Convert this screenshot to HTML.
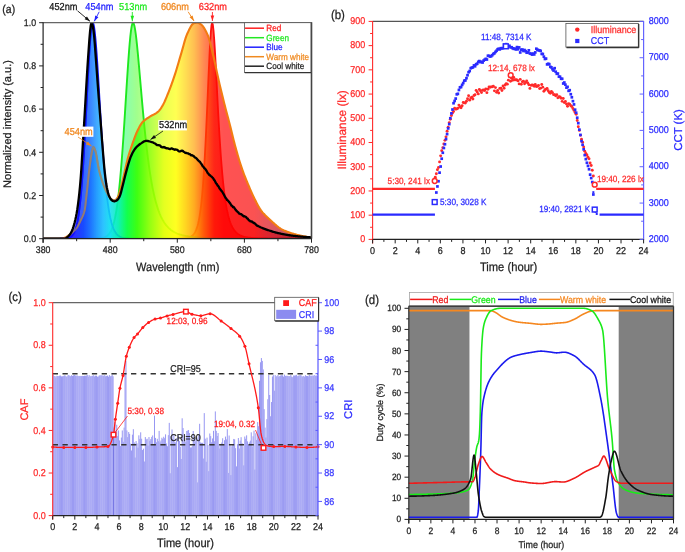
<!DOCTYPE html>
<html><head><meta charset="utf-8"><style>
html,body{margin:0;padding:0;background:#fff;}
svg{display:block;font-family:"Liberation Sans", sans-serif;text-rendering:geometricPrecision;filter:blur(0.35px);}
</style></head><body>
<svg width="685" height="552" viewBox="0 0 685 552">
<rect width="685" height="552" fill="#fff"/>
<defs>
<linearGradient id="spec" gradientUnits="userSpaceOnUse" x1="43.1" y1="0" x2="311.5" y2="0">
<stop offset="0.0000" stop-color="#6a00c0"/>
<stop offset="0.1000" stop-color="#2a10ff"/>
<stop offset="0.1500" stop-color="#0a40ff"/>
<stop offset="0.1750" stop-color="#1068ff"/>
<stop offset="0.2000" stop-color="#1898ff"/>
<stop offset="0.2250" stop-color="#20c0ff"/>
<stop offset="0.2500" stop-color="#10e0f0"/>
<stop offset="0.2800" stop-color="#00f0b0"/>
<stop offset="0.3125" stop-color="#00ff40"/>
<stop offset="0.3500" stop-color="#30ff00"/>
<stop offset="0.4000" stop-color="#90ff00"/>
<stop offset="0.4500" stop-color="#e0ff00"/>
<stop offset="0.4950" stop-color="#ffff00"/>
<stop offset="0.5300" stop-color="#ffd000"/>
<stop offset="0.5625" stop-color="#ffa000"/>
<stop offset="0.6000" stop-color="#ff5000"/>
<stop offset="0.6375" stop-color="#ff1000"/>
<stop offset="0.6750" stop-color="#ff0000"/>
<stop offset="0.7875" stop-color="#f80000"/>
<stop offset="0.8625" stop-color="#c80818"/>
<stop offset="1.0000" stop-color="#900010"/>
</linearGradient>
<clipPath id="clipA"><rect x="43.1" y="22.7" width="268.4" height="216"/></clipPath>
</defs>
<g clip-path="url(#clipA)">
<path d="M43.1,238.7 L43.1,238.7 L43.77,238.7 L44.44,238.7 L45.11,238.7 L45.78,238.7 L46.45,238.7 L47.13,238.7 L47.8,238.7 L48.47,238.7 L49.14,238.7 L49.81,238.7 L50.48,238.7 L51.15,238.7 L51.82,238.7 L52.49,238.7 L53.16,238.7 L53.84,238.7 L54.51,238.7 L55.18,238.7 L55.85,238.7 L56.52,238.7 L57.19,238.7 L57.86,238.7 L58.53,238.7 L59.2,238.7 L59.88,238.7 L60.55,238.7 L61.22,238.7 L61.89,238.7 L62.56,238.7 L63.23,238.7 L63.9,238.7 L64.57,238.7 L65.24,238.7 L65.91,238.7 L66.58,238.7 L67.26,238.7 L67.93,238.7 L68.6,238.7 L69.27,238.7 L69.94,238.7 L70.61,238.7 L71.28,238.7 L71.95,238.7 L72.62,238.7 L73.3,238.7 L73.97,238.7 L74.64,238.7 L75.31,238.7 L75.98,238.7 L76.65,238.7 L77.32,238.7 L77.99,238.7 L78.66,238.7 L79.33,238.7 L80,238.7 L80.68,238.7 L81.35,238.7 L82.02,238.7 L82.69,238.7 L83.36,238.7 L84.03,238.7 L84.7,238.7 L85.37,238.7 L86.04,238.7 L86.72,238.7 L87.39,238.7 L88.06,238.7 L88.73,238.7 L89.4,238.7 L90.07,238.7 L90.74,238.7 L91.41,238.7 L92.08,238.7 L92.75,238.7 L93.42,238.7 L94.1,238.7 L94.77,238.7 L95.44,238.7 L96.11,238.7 L96.78,238.7 L97.45,238.7 L98.12,238.7 L98.79,238.7 L99.46,238.7 L100.13,238.7 L100.81,238.7 L101.48,238.7 L102.15,238.7 L102.82,238.7 L103.49,238.7 L104.16,238.7 L104.83,238.7 L105.5,238.7 L106.17,238.7 L106.84,238.7 L107.52,238.7 L108.19,238.7 L108.86,238.7 L109.53,238.7 L110.2,238.7 L110.87,238.7 L111.54,238.7 L112.21,238.7 L112.88,238.7 L113.56,238.7 L114.23,238.7 L114.9,238.7 L115.57,238.7 L116.24,238.7 L116.91,238.7 L117.58,238.7 L118.25,238.7 L118.92,238.7 L119.59,238.7 L120.26,238.7 L120.94,238.7 L121.61,238.7 L122.28,238.7 L122.95,238.7 L123.62,238.7 L124.29,238.7 L124.96,238.7 L125.63,238.7 L126.3,238.7 L126.97,238.7 L127.65,238.7 L128.32,238.7 L128.99,238.7 L129.66,238.7 L130.33,238.7 L131,238.7 L131.67,238.7 L132.34,238.7 L133.01,238.7 L133.69,238.7 L134.36,238.7 L135.03,238.7 L135.7,238.7 L136.37,238.7 L137.04,238.7 L137.71,238.7 L138.38,238.7 L139.05,238.7 L139.72,238.7 L140.39,238.7 L141.07,238.7 L141.74,238.7 L142.41,238.7 L143.08,238.7 L143.75,238.7 L144.42,238.7 L145.09,238.7 L145.76,238.7 L146.43,238.7 L147.1,238.7 L147.78,238.7 L148.45,238.7 L149.12,238.7 L149.79,238.7 L150.46,238.7 L151.13,238.7 L151.8,238.7 L152.47,238.7 L153.14,238.7 L153.81,238.7 L154.49,238.7 L155.16,238.7 L155.83,238.7 L156.5,238.7 L157.17,238.7 L157.84,238.7 L158.51,238.7 L159.18,238.7 L159.85,238.7 L160.52,238.7 L161.2,238.7 L161.87,238.7 L162.54,238.7 L163.21,238.7 L163.88,238.7 L164.55,238.7 L165.22,238.7 L165.89,238.7 L166.56,238.69 L167.23,238.69 L167.91,238.69 L168.58,238.69 L169.25,238.69 L169.92,238.69 L170.59,238.69 L171.26,238.69 L171.93,238.68 L172.6,238.68 L173.27,238.68 L173.94,238.67 L174.62,238.67 L175.29,238.66 L175.96,238.66 L176.63,238.65 L177.3,238.64 L177.97,238.63 L178.64,238.62 L179.31,238.6 L179.98,238.59 L180.65,238.56 L181.33,238.54 L182,238.51 L182.67,238.47 L183.34,238.43 L184.01,238.38 L184.68,238.32 L185.35,238.24 L186.02,238.15 L186.69,238.04 L187.36,237.91 L188.04,237.76 L188.71,237.57 L189.38,237.34 L190.05,237.06 L190.72,236.73 L191.39,236.33 L192.06,235.84 L192.73,235.26 L193.4,234.55 L194.07,233.69 L194.75,232.66 L195.42,231.43 L196.09,229.94 L196.76,228.15 L197.43,226.01 L198.1,223.46 L198.77,220.41 L199.44,216.81 L200.11,212.54 L200.78,207.53 L201.46,201.66 L202.13,194.84 L202.8,186.98 L203.47,177.98 L204.14,167.79 L204.81,156.37 L205.48,143.74 L206.15,130 L206.82,115.31 L207.5,99.95 L208.17,84.33 L208.84,68.98 L209.51,54.56 L210.18,41.86 L210.85,31.74 L211.52,25.08 L212.19,22.7 L212.86,24.78 L213.53,30.53 L214.2,39.14 L214.88,49.83 L215.55,61.91 L216.22,74.75 L216.89,87.87 L217.56,100.87 L218.23,113.46 L218.9,125.45 L219.57,136.69 L220.24,147.12 L220.91,156.71 L221.59,165.44 L222.26,173.36 L222.93,180.49 L223.6,186.9 L224.27,192.62 L224.94,197.73 L225.61,202.27 L226.28,206.31 L226.95,209.89 L227.62,213.07 L228.3,215.88 L228.97,218.37 L229.64,220.57 L230.31,222.52 L230.98,224.24 L231.65,225.77 L232.32,227.13 L232.99,228.33 L233.66,229.39 L234.33,230.34 L235.01,231.18 L235.68,231.93 L236.35,232.59 L237.02,233.19 L237.69,233.72 L238.36,234.19 L239.03,234.61 L239.7,234.99 L240.37,235.33 L241.04,235.63 L241.72,235.91 L242.39,236.15 L243.06,236.37 L243.73,236.57 L244.4,236.75 L245.07,236.92 L245.74,237.06 L246.41,237.2 L247.08,237.32 L247.75,237.43 L248.43,237.53 L249.1,237.62 L249.77,237.7 L250.44,237.77 L251.11,237.84 L251.78,237.91 L252.45,237.96 L253.12,238.02 L253.79,238.06 L254.46,238.11 L255.14,238.15 L255.81,238.19 L256.48,238.22 L257.15,238.25 L257.82,238.28 L258.49,238.31 L259.16,238.33 L259.83,238.36 L260.5,238.38 L261.18,238.4 L261.85,238.42 L262.52,238.43 L263.19,238.45 L263.86,238.46 L264.53,238.48 L265.2,238.49 L265.87,238.5 L266.54,238.51 L267.21,238.52 L267.88,238.53 L268.56,238.54 L269.23,238.55 L269.9,238.56 L270.57,238.56 L271.24,238.57 L271.91,238.58 L272.58,238.58 L273.25,238.59 L273.92,238.59 L274.6,238.6 L275.27,238.6 L275.94,238.61 L276.61,238.61 L277.28,238.62 L277.95,238.62 L278.62,238.62 L279.29,238.63 L279.96,238.63 L280.63,238.63 L281.3,238.64 L281.98,238.64 L282.65,238.64 L283.32,238.64 L283.99,238.65 L284.66,238.65 L285.33,238.65 L286,238.65 L286.67,238.65 L287.34,238.66 L288.01,238.66 L288.69,238.66 L289.36,238.66 L290.03,238.66 L290.7,238.66 L291.37,238.67 L292.04,238.67 L292.71,238.67 L293.38,238.67 L294.05,238.67 L294.72,238.67 L295.4,238.67 L296.07,238.67 L296.74,238.67 L297.41,238.67 L298.08,238.68 L298.75,238.68 L299.42,238.68 L300.09,238.68 L300.76,238.68 L301.44,238.68 L302.11,238.68 L302.78,238.68 L303.45,238.68 L304.12,238.68 L304.79,238.68 L305.46,238.68 L306.13,238.68 L306.8,238.68 L307.47,238.68 L308.15,238.68 L308.82,238.68 L309.49,238.69 L310.16,238.69 L310.83,238.69 L311.5,238.69 L311.5,238.7 Z" fill="url(#spec)" fill-opacity="0.7"/>
<path d="M43.1,238.7 L43.77,238.7 L44.44,238.7 L45.11,238.7 L45.78,238.7 L46.45,238.7 L47.13,238.7 L47.8,238.7 L48.47,238.7 L49.14,238.7 L49.81,238.7 L50.48,238.7 L51.15,238.7 L51.82,238.7 L52.49,238.7 L53.16,238.7 L53.84,238.7 L54.51,238.7 L55.18,238.7 L55.85,238.7 L56.52,238.7 L57.19,238.7 L57.86,238.7 L58.53,238.7 L59.2,238.7 L59.88,238.7 L60.55,238.7 L61.22,238.7 L61.89,238.7 L62.56,238.7 L63.23,238.7 L63.9,238.7 L64.57,238.7 L65.24,238.7 L65.91,238.7 L66.58,238.7 L67.26,238.7 L67.93,238.7 L68.6,238.7 L69.27,238.7 L69.94,238.7 L70.61,238.7 L71.28,238.7 L71.95,238.7 L72.62,238.7 L73.3,238.7 L73.97,238.7 L74.64,238.7 L75.31,238.7 L75.98,238.7 L76.65,238.7 L77.32,238.7 L77.99,238.7 L78.66,238.7 L79.33,238.7 L80,238.7 L80.68,238.7 L81.35,238.7 L82.02,238.7 L82.69,238.7 L83.36,238.7 L84.03,238.7 L84.7,238.7 L85.37,238.7 L86.04,238.7 L86.72,238.7 L87.39,238.7 L88.06,238.7 L88.73,238.7 L89.4,238.7 L90.07,238.7 L90.74,238.7 L91.41,238.7 L92.08,238.7 L92.75,238.7 L93.42,238.7 L94.1,238.7 L94.77,238.7 L95.44,238.7 L96.11,238.7 L96.78,238.7 L97.45,238.7 L98.12,238.7 L98.79,238.7 L99.46,238.7 L100.13,238.7 L100.81,238.7 L101.48,238.7 L102.15,238.7 L102.82,238.7 L103.49,238.7 L104.16,238.7 L104.83,238.7 L105.5,238.7 L106.17,238.7 L106.84,238.7 L107.52,238.7 L108.19,238.7 L108.86,238.7 L109.53,238.7 L110.2,238.7 L110.87,238.7 L111.54,238.7 L112.21,238.7 L112.88,238.7 L113.56,238.7 L114.23,238.7 L114.9,238.7 L115.57,238.7 L116.24,238.7 L116.91,238.7 L117.58,238.7 L118.25,238.7 L118.92,238.7 L119.59,238.7 L120.26,238.7 L120.94,238.7 L121.61,238.7 L122.28,238.7 L122.95,238.7 L123.62,238.7 L124.29,238.7 L124.96,238.7 L125.63,238.7 L126.3,238.7 L126.97,238.7 L127.65,238.7 L128.32,238.7 L128.99,238.7 L129.66,238.7 L130.33,238.7 L131,238.7 L131.67,238.7 L132.34,238.7 L133.01,238.7 L133.69,238.7 L134.36,238.7 L135.03,238.7 L135.7,238.7 L136.37,238.7 L137.04,238.7 L137.71,238.7 L138.38,238.7 L139.05,238.7 L139.72,238.7 L140.39,238.7 L141.07,238.7 L141.74,238.7 L142.41,238.7 L143.08,238.7 L143.75,238.7 L144.42,238.7 L145.09,238.7 L145.76,238.7 L146.43,238.7 L147.1,238.7 L147.78,238.7 L148.45,238.7 L149.12,238.7 L149.79,238.7 L150.46,238.7 L151.13,238.7 L151.8,238.7 L152.47,238.7 L153.14,238.7 L153.81,238.7 L154.49,238.7 L155.16,238.7 L155.83,238.7 L156.5,238.7 L157.17,238.7 L157.84,238.7 L158.51,238.7 L159.18,238.7 L159.85,238.7 L160.52,238.7 L161.2,238.7 L161.87,238.7 L162.54,238.7 L163.21,238.7 L163.88,238.7 L164.55,238.7 L165.22,238.7 L165.89,238.7 L166.56,238.69 L167.23,238.69 L167.91,238.69 L168.58,238.69 L169.25,238.69 L169.92,238.69 L170.59,238.69 L171.26,238.69 L171.93,238.68 L172.6,238.68 L173.27,238.68 L173.94,238.67 L174.62,238.67 L175.29,238.66 L175.96,238.66 L176.63,238.65 L177.3,238.64 L177.97,238.63 L178.64,238.62 L179.31,238.6 L179.98,238.59 L180.65,238.56 L181.33,238.54 L182,238.51 L182.67,238.47 L183.34,238.43 L184.01,238.38 L184.68,238.32 L185.35,238.24 L186.02,238.15 L186.69,238.04 L187.36,237.91 L188.04,237.76 L188.71,237.57 L189.38,237.34 L190.05,237.06 L190.72,236.73 L191.39,236.33 L192.06,235.84 L192.73,235.26 L193.4,234.55 L194.07,233.69 L194.75,232.66 L195.42,231.43 L196.09,229.94 L196.76,228.15 L197.43,226.01 L198.1,223.46 L198.77,220.41 L199.44,216.81 L200.11,212.54 L200.78,207.53 L201.46,201.66 L202.13,194.84 L202.8,186.98 L203.47,177.98 L204.14,167.79 L204.81,156.37 L205.48,143.74 L206.15,130 L206.82,115.31 L207.5,99.95 L208.17,84.33 L208.84,68.98 L209.51,54.56 L210.18,41.86 L210.85,31.74 L211.52,25.08 L212.19,22.7 L212.86,24.78 L213.53,30.53 L214.2,39.14 L214.88,49.83 L215.55,61.91 L216.22,74.75 L216.89,87.87 L217.56,100.87 L218.23,113.46 L218.9,125.45 L219.57,136.69 L220.24,147.12 L220.91,156.71 L221.59,165.44 L222.26,173.36 L222.93,180.49 L223.6,186.9 L224.27,192.62 L224.94,197.73 L225.61,202.27 L226.28,206.31 L226.95,209.89 L227.62,213.07 L228.3,215.88 L228.97,218.37 L229.64,220.57 L230.31,222.52 L230.98,224.24 L231.65,225.77 L232.32,227.13 L232.99,228.33 L233.66,229.39 L234.33,230.34 L235.01,231.18 L235.68,231.93 L236.35,232.59 L237.02,233.19 L237.69,233.72 L238.36,234.19 L239.03,234.61 L239.7,234.99 L240.37,235.33 L241.04,235.63 L241.72,235.91 L242.39,236.15 L243.06,236.37 L243.73,236.57 L244.4,236.75 L245.07,236.92 L245.74,237.06 L246.41,237.2 L247.08,237.32 L247.75,237.43 L248.43,237.53 L249.1,237.62 L249.77,237.7 L250.44,237.77 L251.11,237.84 L251.78,237.91 L252.45,237.96 L253.12,238.02 L253.79,238.06 L254.46,238.11 L255.14,238.15 L255.81,238.19 L256.48,238.22 L257.15,238.25 L257.82,238.28 L258.49,238.31 L259.16,238.33 L259.83,238.36 L260.5,238.38 L261.18,238.4 L261.85,238.42 L262.52,238.43 L263.19,238.45 L263.86,238.46 L264.53,238.48 L265.2,238.49 L265.87,238.5 L266.54,238.51 L267.21,238.52 L267.88,238.53 L268.56,238.54 L269.23,238.55 L269.9,238.56 L270.57,238.56 L271.24,238.57 L271.91,238.58 L272.58,238.58 L273.25,238.59 L273.92,238.59 L274.6,238.6 L275.27,238.6 L275.94,238.61 L276.61,238.61 L277.28,238.62 L277.95,238.62 L278.62,238.62 L279.29,238.63 L279.96,238.63 L280.63,238.63 L281.3,238.64 L281.98,238.64 L282.65,238.64 L283.32,238.64 L283.99,238.65 L284.66,238.65 L285.33,238.65 L286,238.65 L286.67,238.65 L287.34,238.66 L288.01,238.66 L288.69,238.66 L289.36,238.66 L290.03,238.66 L290.7,238.66 L291.37,238.67 L292.04,238.67 L292.71,238.67 L293.38,238.67 L294.05,238.67 L294.72,238.67 L295.4,238.67 L296.07,238.67 L296.74,238.67 L297.41,238.67 L298.08,238.68 L298.75,238.68 L299.42,238.68 L300.09,238.68 L300.76,238.68 L301.44,238.68 L302.11,238.68 L302.78,238.68 L303.45,238.68 L304.12,238.68 L304.79,238.68 L305.46,238.68 L306.13,238.68 L306.8,238.68 L307.47,238.68 L308.15,238.68 L308.82,238.68 L309.49,238.69 L310.16,238.69 L310.83,238.69 L311.5,238.69" fill="none" stroke="#ff1010" stroke-width="1.8" stroke-linejoin="round"/>
<path d="M43.1,238.7 L43.1,238.7 L43.77,238.7 L44.44,238.7 L45.11,238.7 L45.78,238.7 L46.45,238.7 L47.13,238.7 L47.8,238.7 L48.47,238.7 L49.14,238.7 L49.81,238.7 L50.48,238.7 L51.15,238.7 L51.82,238.7 L52.49,238.7 L53.16,238.7 L53.84,238.7 L54.51,238.7 L55.18,238.7 L55.85,238.7 L56.52,238.7 L57.19,238.7 L57.86,238.7 L58.53,238.7 L59.2,238.7 L59.88,238.7 L60.55,238.7 L61.22,238.7 L61.89,238.7 L62.56,238.7 L63.23,238.7 L63.9,238.7 L64.57,238.7 L65.24,238.7 L65.91,238.7 L66.58,238.7 L67.26,238.7 L67.93,238.7 L68.6,238.7 L69.27,238.7 L69.94,238.7 L70.61,238.7 L71.28,238.7 L71.95,238.7 L72.62,238.7 L73.3,238.7 L73.97,238.7 L74.64,238.7 L75.31,238.7 L75.98,238.7 L76.65,238.7 L77.32,238.7 L77.99,238.7 L78.66,238.7 L79.33,238.7 L80,238.7 L80.68,238.7 L81.35,238.7 L82.02,238.7 L82.69,238.7 L83.36,238.7 L84.03,238.7 L84.7,238.7 L85.37,238.7 L86.04,238.7 L86.72,238.69 L87.39,238.69 L88.06,238.69 L88.73,238.69 L89.4,238.69 L90.07,238.68 L90.74,238.68 L91.41,238.68 L92.08,238.67 L92.75,238.66 L93.42,238.65 L94.1,238.64 L94.77,238.63 L95.44,238.61 L96.11,238.59 L96.78,238.57 L97.45,238.54 L98.12,238.5 L98.79,238.45 L99.46,238.4 L100.13,238.33 L100.81,238.24 L101.48,238.14 L102.15,238.02 L102.82,237.86 L103.49,237.68 L104.16,237.46 L104.83,237.2 L105.5,236.89 L106.17,236.51 L106.84,236.06 L107.52,235.53 L108.19,234.89 L108.86,234.14 L109.53,233.26 L110.2,232.22 L110.87,231 L111.54,229.58 L112.21,227.92 L112.88,226.01 L113.56,223.8 L114.23,221.27 L114.9,218.37 L115.57,215.06 L116.24,211.32 L116.91,207.11 L117.58,202.38 L118.25,197.11 L118.92,191.27 L119.59,184.84 L120.26,177.8 L120.94,170.16 L121.61,161.91 L122.28,153.1 L122.95,143.74 L123.62,133.91 L124.29,123.68 L124.96,113.15 L125.63,102.43 L126.3,91.68 L126.97,81.06 L127.65,70.73 L128.32,60.9 L128.99,51.77 L129.66,43.54 L130.33,36.42 L131,30.61 L131.67,26.29 L132.34,23.61 L133.01,22.7 L133.69,23.48 L134.36,25.69 L135.03,29.16 L135.7,33.72 L136.37,39.18 L137.04,45.37 L137.71,52.14 L138.38,59.34 L139.05,66.84 L139.72,74.53 L140.39,82.29 L141.07,90.06 L141.74,97.75 L142.41,105.3 L143.08,112.67 L143.75,119.83 L144.42,126.73 L145.09,133.36 L145.76,139.71 L146.43,145.76 L147.1,151.51 L147.78,156.97 L148.45,162.13 L149.12,167 L149.79,171.59 L150.46,175.91 L151.13,179.97 L151.8,183.77 L152.47,187.34 L153.14,190.68 L153.81,193.8 L154.49,196.72 L155.16,199.44 L155.83,201.99 L156.5,204.36 L157.17,206.58 L157.84,208.64 L158.51,210.57 L159.18,212.37 L159.85,214.04 L160.52,215.6 L161.2,217.06 L161.87,218.41 L162.54,219.68 L163.21,220.86 L163.88,221.96 L164.55,222.98 L165.22,223.94 L165.89,224.83 L166.56,225.67 L167.23,226.44 L167.91,227.17 L168.58,227.85 L169.25,228.48 L169.92,229.07 L170.59,229.63 L171.26,230.15 L171.93,230.63 L172.6,231.09 L173.27,231.51 L173.94,231.91 L174.62,232.28 L175.29,232.63 L175.96,232.96 L176.63,233.27 L177.3,233.56 L177.97,233.83 L178.64,234.08 L179.31,234.32 L179.98,234.55 L180.65,234.76 L181.33,234.96 L182,235.15 L182.67,235.32 L183.34,235.49 L184.01,235.65 L184.68,235.79 L185.35,235.93 L186.02,236.07 L186.69,236.19 L187.36,236.31 L188.04,236.42 L188.71,236.52 L189.38,236.62 L190.05,236.72 L190.72,236.81 L191.39,236.89 L192.06,236.97 L192.73,237.05 L193.4,237.12 L194.07,237.19 L194.75,237.25 L195.42,237.31 L196.09,237.37 L196.76,237.43 L197.43,237.48 L198.1,237.53 L198.77,237.58 L199.44,237.62 L200.11,237.66 L200.78,237.7 L201.46,237.74 L202.13,237.78 L202.8,237.82 L203.47,237.85 L204.14,237.88 L204.81,237.91 L205.48,237.94 L206.15,237.97 L206.82,238 L207.5,238.02 L208.17,238.05 L208.84,238.07 L209.51,238.09 L210.18,238.11 L210.85,238.13 L211.52,238.15 L212.19,238.17 L212.86,238.19 L213.53,238.21 L214.2,238.22 L214.88,238.24 L215.55,238.26 L216.22,238.27 L216.89,238.28 L217.56,238.3 L218.23,238.31 L218.9,238.32 L219.57,238.33 L220.24,238.35 L220.91,238.36 L221.59,238.37 L222.26,238.38 L222.93,238.39 L223.6,238.4 L224.27,238.41 L224.94,238.41 L225.61,238.42 L226.28,238.43 L226.95,238.44 L227.62,238.45 L228.3,238.45 L228.97,238.46 L229.64,238.47 L230.31,238.47 L230.98,238.48 L231.65,238.49 L232.32,238.49 L232.99,238.5 L233.66,238.5 L234.33,238.51 L235.01,238.51 L235.68,238.52 L236.35,238.52 L237.02,238.53 L237.69,238.53 L238.36,238.54 L239.03,238.54 L239.7,238.54 L240.37,238.55 L241.04,238.55 L241.72,238.55 L242.39,238.56 L243.06,238.56 L243.73,238.57 L244.4,238.57 L245.07,238.57 L245.74,238.57 L246.41,238.58 L247.08,238.58 L247.75,238.58 L248.43,238.59 L249.1,238.59 L249.77,238.59 L250.44,238.59 L251.11,238.6 L251.78,238.6 L252.45,238.6 L253.12,238.6 L253.79,238.6 L254.46,238.61 L255.14,238.61 L255.81,238.61 L256.48,238.61 L257.15,238.61 L257.82,238.62 L258.49,238.62 L259.16,238.62 L259.83,238.62 L260.5,238.62 L261.18,238.62 L261.85,238.63 L262.52,238.63 L263.19,238.63 L263.86,238.63 L264.53,238.63 L265.2,238.63 L265.87,238.63 L266.54,238.64 L267.21,238.64 L267.88,238.64 L268.56,238.64 L269.23,238.64 L269.9,238.64 L270.57,238.64 L271.24,238.64 L271.91,238.64 L272.58,238.65 L273.25,238.65 L273.92,238.65 L274.6,238.65 L275.27,238.65 L275.94,238.65 L276.61,238.65 L277.28,238.65 L277.95,238.65 L278.62,238.65 L279.29,238.65 L279.96,238.65 L280.63,238.66 L281.3,238.66 L281.98,238.66 L282.65,238.66 L283.32,238.66 L283.99,238.66 L284.66,238.66 L285.33,238.66 L286,238.66 L286.67,238.66 L287.34,238.66 L288.01,238.66 L288.69,238.66 L289.36,238.66 L290.03,238.66 L290.7,238.66 L291.37,238.67 L292.04,238.67 L292.71,238.67 L293.38,238.67 L294.05,238.67 L294.72,238.67 L295.4,238.67 L296.07,238.67 L296.74,238.67 L297.41,238.67 L298.08,238.67 L298.75,238.67 L299.42,238.67 L300.09,238.67 L300.76,238.67 L301.44,238.67 L302.11,238.67 L302.78,238.67 L303.45,238.67 L304.12,238.67 L304.79,238.67 L305.46,238.67 L306.13,238.67 L306.8,238.68 L307.47,238.68 L308.15,238.68 L308.82,238.68 L309.49,238.68 L310.16,238.68 L310.83,238.68 L311.5,238.68 L311.5,238.7 Z" fill="url(#spec)" fill-opacity="0.45"/>
<path d="M43.1,238.7 L43.77,238.7 L44.44,238.7 L45.11,238.7 L45.78,238.7 L46.45,238.7 L47.13,238.7 L47.8,238.7 L48.47,238.7 L49.14,238.7 L49.81,238.7 L50.48,238.7 L51.15,238.7 L51.82,238.7 L52.49,238.7 L53.16,238.7 L53.84,238.7 L54.51,238.7 L55.18,238.7 L55.85,238.7 L56.52,238.7 L57.19,238.7 L57.86,238.7 L58.53,238.7 L59.2,238.7 L59.88,238.7 L60.55,238.7 L61.22,238.7 L61.89,238.7 L62.56,238.7 L63.23,238.7 L63.9,238.7 L64.57,238.7 L65.24,238.7 L65.91,238.7 L66.58,238.7 L67.26,238.7 L67.93,238.7 L68.6,238.7 L69.27,238.7 L69.94,238.7 L70.61,238.7 L71.28,238.7 L71.95,238.7 L72.62,238.7 L73.3,238.7 L73.97,238.7 L74.64,238.7 L75.31,238.7 L75.98,238.7 L76.65,238.7 L77.32,238.7 L77.99,238.7 L78.66,238.7 L79.33,238.7 L80,238.7 L80.68,238.7 L81.35,238.7 L82.02,238.7 L82.69,238.7 L83.36,238.7 L84.03,238.7 L84.7,238.7 L85.37,238.7 L86.04,238.7 L86.72,238.69 L87.39,238.69 L88.06,238.69 L88.73,238.69 L89.4,238.69 L90.07,238.68 L90.74,238.68 L91.41,238.68 L92.08,238.67 L92.75,238.66 L93.42,238.65 L94.1,238.64 L94.77,238.63 L95.44,238.61 L96.11,238.59 L96.78,238.57 L97.45,238.54 L98.12,238.5 L98.79,238.45 L99.46,238.4 L100.13,238.33 L100.81,238.24 L101.48,238.14 L102.15,238.02 L102.82,237.86 L103.49,237.68 L104.16,237.46 L104.83,237.2 L105.5,236.89 L106.17,236.51 L106.84,236.06 L107.52,235.53 L108.19,234.89 L108.86,234.14 L109.53,233.26 L110.2,232.22 L110.87,231 L111.54,229.58 L112.21,227.92 L112.88,226.01 L113.56,223.8 L114.23,221.27 L114.9,218.37 L115.57,215.06 L116.24,211.32 L116.91,207.11 L117.58,202.38 L118.25,197.11 L118.92,191.27 L119.59,184.84 L120.26,177.8 L120.94,170.16 L121.61,161.91 L122.28,153.1 L122.95,143.74 L123.62,133.91 L124.29,123.68 L124.96,113.15 L125.63,102.43 L126.3,91.68 L126.97,81.06 L127.65,70.73 L128.32,60.9 L128.99,51.77 L129.66,43.54 L130.33,36.42 L131,30.61 L131.67,26.29 L132.34,23.61 L133.01,22.7 L133.69,23.48 L134.36,25.69 L135.03,29.16 L135.7,33.72 L136.37,39.18 L137.04,45.37 L137.71,52.14 L138.38,59.34 L139.05,66.84 L139.72,74.53 L140.39,82.29 L141.07,90.06 L141.74,97.75 L142.41,105.3 L143.08,112.67 L143.75,119.83 L144.42,126.73 L145.09,133.36 L145.76,139.71 L146.43,145.76 L147.1,151.51 L147.78,156.97 L148.45,162.13 L149.12,167 L149.79,171.59 L150.46,175.91 L151.13,179.97 L151.8,183.77 L152.47,187.34 L153.14,190.68 L153.81,193.8 L154.49,196.72 L155.16,199.44 L155.83,201.99 L156.5,204.36 L157.17,206.58 L157.84,208.64 L158.51,210.57 L159.18,212.37 L159.85,214.04 L160.52,215.6 L161.2,217.06 L161.87,218.41 L162.54,219.68 L163.21,220.86 L163.88,221.96 L164.55,222.98 L165.22,223.94 L165.89,224.83 L166.56,225.67 L167.23,226.44 L167.91,227.17 L168.58,227.85 L169.25,228.48 L169.92,229.07 L170.59,229.63 L171.26,230.15 L171.93,230.63 L172.6,231.09 L173.27,231.51 L173.94,231.91 L174.62,232.28 L175.29,232.63 L175.96,232.96 L176.63,233.27 L177.3,233.56 L177.97,233.83 L178.64,234.08 L179.31,234.32 L179.98,234.55 L180.65,234.76 L181.33,234.96 L182,235.15 L182.67,235.32 L183.34,235.49 L184.01,235.65 L184.68,235.79 L185.35,235.93 L186.02,236.07 L186.69,236.19 L187.36,236.31 L188.04,236.42 L188.71,236.52 L189.38,236.62 L190.05,236.72 L190.72,236.81 L191.39,236.89 L192.06,236.97 L192.73,237.05 L193.4,237.12 L194.07,237.19 L194.75,237.25 L195.42,237.31 L196.09,237.37 L196.76,237.43 L197.43,237.48 L198.1,237.53 L198.77,237.58 L199.44,237.62 L200.11,237.66 L200.78,237.7 L201.46,237.74 L202.13,237.78 L202.8,237.82 L203.47,237.85 L204.14,237.88 L204.81,237.91 L205.48,237.94 L206.15,237.97 L206.82,238 L207.5,238.02 L208.17,238.05 L208.84,238.07 L209.51,238.09 L210.18,238.11 L210.85,238.13 L211.52,238.15 L212.19,238.17 L212.86,238.19 L213.53,238.21 L214.2,238.22 L214.88,238.24 L215.55,238.26 L216.22,238.27 L216.89,238.28 L217.56,238.3 L218.23,238.31 L218.9,238.32 L219.57,238.33 L220.24,238.35 L220.91,238.36 L221.59,238.37 L222.26,238.38 L222.93,238.39 L223.6,238.4 L224.27,238.41 L224.94,238.41 L225.61,238.42 L226.28,238.43 L226.95,238.44 L227.62,238.45 L228.3,238.45 L228.97,238.46 L229.64,238.47 L230.31,238.47 L230.98,238.48 L231.65,238.49 L232.32,238.49 L232.99,238.5 L233.66,238.5 L234.33,238.51 L235.01,238.51 L235.68,238.52 L236.35,238.52 L237.02,238.53 L237.69,238.53 L238.36,238.54 L239.03,238.54 L239.7,238.54 L240.37,238.55 L241.04,238.55 L241.72,238.55 L242.39,238.56 L243.06,238.56 L243.73,238.57 L244.4,238.57 L245.07,238.57 L245.74,238.57 L246.41,238.58 L247.08,238.58 L247.75,238.58 L248.43,238.59 L249.1,238.59 L249.77,238.59 L250.44,238.59 L251.11,238.6 L251.78,238.6 L252.45,238.6 L253.12,238.6 L253.79,238.6 L254.46,238.61 L255.14,238.61 L255.81,238.61 L256.48,238.61 L257.15,238.61 L257.82,238.62 L258.49,238.62 L259.16,238.62 L259.83,238.62 L260.5,238.62 L261.18,238.62 L261.85,238.63 L262.52,238.63 L263.19,238.63 L263.86,238.63 L264.53,238.63 L265.2,238.63 L265.87,238.63 L266.54,238.64 L267.21,238.64 L267.88,238.64 L268.56,238.64 L269.23,238.64 L269.9,238.64 L270.57,238.64 L271.24,238.64 L271.91,238.64 L272.58,238.65 L273.25,238.65 L273.92,238.65 L274.6,238.65 L275.27,238.65 L275.94,238.65 L276.61,238.65 L277.28,238.65 L277.95,238.65 L278.62,238.65 L279.29,238.65 L279.96,238.65 L280.63,238.66 L281.3,238.66 L281.98,238.66 L282.65,238.66 L283.32,238.66 L283.99,238.66 L284.66,238.66 L285.33,238.66 L286,238.66 L286.67,238.66 L287.34,238.66 L288.01,238.66 L288.69,238.66 L289.36,238.66 L290.03,238.66 L290.7,238.66 L291.37,238.67 L292.04,238.67 L292.71,238.67 L293.38,238.67 L294.05,238.67 L294.72,238.67 L295.4,238.67 L296.07,238.67 L296.74,238.67 L297.41,238.67 L298.08,238.67 L298.75,238.67 L299.42,238.67 L300.09,238.67 L300.76,238.67 L301.44,238.67 L302.11,238.67 L302.78,238.67 L303.45,238.67 L304.12,238.67 L304.79,238.67 L305.46,238.67 L306.13,238.67 L306.8,238.68 L307.47,238.68 L308.15,238.68 L308.82,238.68 L309.49,238.68 L310.16,238.68 L310.83,238.68 L311.5,238.68" fill="none" stroke="#1ee81e" stroke-width="1.9" stroke-linejoin="round"/>
<path d="M43.1,238.7 L43.1,238.7 L43.77,238.7 L44.44,238.7 L45.11,238.7 L45.78,238.7 L46.45,238.7 L47.13,238.7 L47.8,238.7 L48.47,238.7 L49.14,238.7 L49.81,238.7 L50.48,238.7 L51.15,238.7 L51.82,238.7 L52.49,238.7 L53.16,238.7 L53.84,238.7 L54.51,238.7 L55.18,238.7 L55.85,238.7 L56.52,238.69 L57.19,238.69 L57.86,238.69 L58.53,238.69 L59.2,238.68 L59.88,238.68 L60.55,238.67 L61.22,238.66 L61.89,238.65 L62.56,238.63 L63.23,238.6 L63.9,238.57 L64.57,238.53 L65.24,238.48 L65.91,238.41 L66.58,238.32 L67.26,238.2 L67.93,238.06 L68.6,237.86 L69.27,237.62 L69.94,237.31 L70.61,236.92 L71.28,236.43 L71.95,235.82 L72.62,235.05 L73.3,234.11 L73.97,232.94 L74.64,231.51 L75.31,229.77 L75.98,227.67 L76.65,225.14 L77.32,222.13 L77.99,218.55 L78.66,214.36 L79.33,209.47 L80,203.81 L80.68,197.34 L81.35,189.99 L82.02,181.73 L82.69,172.56 L83.36,162.47 L84.03,151.53 L84.7,139.81 L85.37,127.43 L86.04,114.58 L86.72,101.46 L87.39,88.33 L88.06,75.49 L88.73,63.28 L89.4,52.06 L90.07,42.18 L90.74,34 L91.41,27.85 L92.08,24.01 L92.75,22.7 L93.42,23.76 L94.1,26.84 L94.77,31.77 L95.44,38.33 L96.11,46.27 L96.78,55.35 L97.45,65.3 L98.12,75.88 L98.79,86.86 L99.46,98 L100.13,109.13 L100.81,120.08 L101.48,130.72 L102.15,140.92 L102.82,150.6 L103.49,159.71 L104.16,168.2 L104.83,176.06 L105.5,183.27 L106.17,189.84 L106.84,195.8 L107.52,201.16 L108.19,205.96 L108.86,210.24 L109.53,214.04 L110.2,217.39 L110.87,220.34 L111.54,222.92 L112.21,225.17 L112.88,227.13 L113.56,228.82 L114.23,230.29 L114.9,231.55 L115.57,232.63 L116.24,233.56 L116.91,234.35 L117.58,235.03 L118.25,235.61 L118.92,236.1 L119.59,236.51 L120.26,236.86 L120.94,237.16 L121.61,237.41 L122.28,237.62 L122.95,237.79 L123.62,237.94 L124.29,238.07 L124.96,238.17 L125.63,238.26 L126.3,238.33 L126.97,238.39 L127.65,238.45 L128.32,238.49 L128.99,238.52 L129.66,238.55 L130.33,238.58 L131,238.6 L131.67,238.62 L132.34,238.63 L133.01,238.64 L133.69,238.65 L134.36,238.66 L135.03,238.67 L135.7,238.67 L136.37,238.68 L137.04,238.68 L137.71,238.68 L138.38,238.69 L139.05,238.69 L139.72,238.69 L140.39,238.69 L141.07,238.69 L141.74,238.69 L142.41,238.7 L143.08,238.7 L143.75,238.7 L144.42,238.7 L145.09,238.7 L145.76,238.7 L146.43,238.7 L147.1,238.7 L147.78,238.7 L148.45,238.7 L149.12,238.7 L149.79,238.7 L150.46,238.7 L151.13,238.7 L151.8,238.7 L152.47,238.7 L153.14,238.7 L153.81,238.7 L154.49,238.7 L155.16,238.7 L155.83,238.7 L156.5,238.7 L157.17,238.7 L157.84,238.7 L158.51,238.7 L159.18,238.7 L159.85,238.7 L160.52,238.7 L161.2,238.7 L161.87,238.7 L162.54,238.7 L163.21,238.7 L163.88,238.7 L164.55,238.7 L165.22,238.7 L165.89,238.7 L166.56,238.7 L167.23,238.7 L167.91,238.7 L168.58,238.7 L169.25,238.7 L169.92,238.7 L170.59,238.7 L171.26,238.7 L171.93,238.7 L172.6,238.7 L173.27,238.7 L173.94,238.7 L174.62,238.7 L175.29,238.7 L175.96,238.7 L176.63,238.7 L177.3,238.7 L177.97,238.7 L178.64,238.7 L179.31,238.7 L179.98,238.7 L180.65,238.7 L181.33,238.7 L182,238.7 L182.67,238.7 L183.34,238.7 L184.01,238.7 L184.68,238.7 L185.35,238.7 L186.02,238.7 L186.69,238.7 L187.36,238.7 L188.04,238.7 L188.71,238.7 L189.38,238.7 L190.05,238.7 L190.72,238.7 L191.39,238.7 L192.06,238.7 L192.73,238.7 L193.4,238.7 L194.07,238.7 L194.75,238.7 L195.42,238.7 L196.09,238.7 L196.76,238.7 L197.43,238.7 L198.1,238.7 L198.77,238.7 L199.44,238.7 L200.11,238.7 L200.78,238.7 L201.46,238.7 L202.13,238.7 L202.8,238.7 L203.47,238.7 L204.14,238.7 L204.81,238.7 L205.48,238.7 L206.15,238.7 L206.82,238.7 L207.5,238.7 L208.17,238.7 L208.84,238.7 L209.51,238.7 L210.18,238.7 L210.85,238.7 L211.52,238.7 L212.19,238.7 L212.86,238.7 L213.53,238.7 L214.2,238.7 L214.88,238.7 L215.55,238.7 L216.22,238.7 L216.89,238.7 L217.56,238.7 L218.23,238.7 L218.9,238.7 L219.57,238.7 L220.24,238.7 L220.91,238.7 L221.59,238.7 L222.26,238.7 L222.93,238.7 L223.6,238.7 L224.27,238.7 L224.94,238.7 L225.61,238.7 L226.28,238.7 L226.95,238.7 L227.62,238.7 L228.3,238.7 L228.97,238.7 L229.64,238.7 L230.31,238.7 L230.98,238.7 L231.65,238.7 L232.32,238.7 L232.99,238.7 L233.66,238.7 L234.33,238.7 L235.01,238.7 L235.68,238.7 L236.35,238.7 L237.02,238.7 L237.69,238.7 L238.36,238.7 L239.03,238.7 L239.7,238.7 L240.37,238.7 L241.04,238.7 L241.72,238.7 L242.39,238.7 L243.06,238.7 L243.73,238.7 L244.4,238.7 L245.07,238.7 L245.74,238.7 L246.41,238.7 L247.08,238.7 L247.75,238.7 L248.43,238.7 L249.1,238.7 L249.77,238.7 L250.44,238.7 L251.11,238.7 L251.78,238.7 L252.45,238.7 L253.12,238.7 L253.79,238.7 L254.46,238.7 L255.14,238.7 L255.81,238.7 L256.48,238.7 L257.15,238.7 L257.82,238.7 L258.49,238.7 L259.16,238.7 L259.83,238.7 L260.5,238.7 L261.18,238.7 L261.85,238.7 L262.52,238.7 L263.19,238.7 L263.86,238.7 L264.53,238.7 L265.2,238.7 L265.87,238.7 L266.54,238.7 L267.21,238.7 L267.88,238.7 L268.56,238.7 L269.23,238.7 L269.9,238.7 L270.57,238.7 L271.24,238.7 L271.91,238.7 L272.58,238.7 L273.25,238.7 L273.92,238.7 L274.6,238.7 L275.27,238.7 L275.94,238.7 L276.61,238.7 L277.28,238.7 L277.95,238.7 L278.62,238.7 L279.29,238.7 L279.96,238.7 L280.63,238.7 L281.3,238.7 L281.98,238.7 L282.65,238.7 L283.32,238.7 L283.99,238.7 L284.66,238.7 L285.33,238.7 L286,238.7 L286.67,238.7 L287.34,238.7 L288.01,238.7 L288.69,238.7 L289.36,238.7 L290.03,238.7 L290.7,238.7 L291.37,238.7 L292.04,238.7 L292.71,238.7 L293.38,238.7 L294.05,238.7 L294.72,238.7 L295.4,238.7 L296.07,238.7 L296.74,238.7 L297.41,238.7 L298.08,238.7 L298.75,238.7 L299.42,238.7 L300.09,238.7 L300.76,238.7 L301.44,238.7 L302.11,238.7 L302.78,238.7 L303.45,238.7 L304.12,238.7 L304.79,238.7 L305.46,238.7 L306.13,238.7 L306.8,238.7 L307.47,238.7 L308.15,238.7 L308.82,238.7 L309.49,238.7 L310.16,238.7 L310.83,238.7 L311.5,238.7 L311.5,238.7 Z" fill="url(#spec)" fill-opacity="0.55"/>
<path d="M43.1,238.7 L43.77,238.7 L44.44,238.7 L45.11,238.7 L45.78,238.7 L46.45,238.7 L47.13,238.7 L47.8,238.7 L48.47,238.7 L49.14,238.7 L49.81,238.7 L50.48,238.7 L51.15,238.7 L51.82,238.7 L52.49,238.7 L53.16,238.7 L53.84,238.7 L54.51,238.7 L55.18,238.7 L55.85,238.7 L56.52,238.69 L57.19,238.69 L57.86,238.69 L58.53,238.69 L59.2,238.68 L59.88,238.68 L60.55,238.67 L61.22,238.66 L61.89,238.65 L62.56,238.63 L63.23,238.6 L63.9,238.57 L64.57,238.53 L65.24,238.48 L65.91,238.41 L66.58,238.32 L67.26,238.2 L67.93,238.06 L68.6,237.86 L69.27,237.62 L69.94,237.31 L70.61,236.92 L71.28,236.43 L71.95,235.82 L72.62,235.05 L73.3,234.11 L73.97,232.94 L74.64,231.51 L75.31,229.77 L75.98,227.67 L76.65,225.14 L77.32,222.13 L77.99,218.55 L78.66,214.36 L79.33,209.47 L80,203.81 L80.68,197.34 L81.35,189.99 L82.02,181.73 L82.69,172.56 L83.36,162.47 L84.03,151.53 L84.7,139.81 L85.37,127.43 L86.04,114.58 L86.72,101.46 L87.39,88.33 L88.06,75.49 L88.73,63.28 L89.4,52.06 L90.07,42.18 L90.74,34 L91.41,27.85 L92.08,24.01 L92.75,22.7 L93.42,23.76 L94.1,26.84 L94.77,31.77 L95.44,38.33 L96.11,46.27 L96.78,55.35 L97.45,65.3 L98.12,75.88 L98.79,86.86 L99.46,98 L100.13,109.13 L100.81,120.08 L101.48,130.72 L102.15,140.92 L102.82,150.6 L103.49,159.71 L104.16,168.2 L104.83,176.06 L105.5,183.27 L106.17,189.84 L106.84,195.8 L107.52,201.16 L108.19,205.96 L108.86,210.24 L109.53,214.04 L110.2,217.39 L110.87,220.34 L111.54,222.92 L112.21,225.17 L112.88,227.13 L113.56,228.82 L114.23,230.29 L114.9,231.55 L115.57,232.63 L116.24,233.56 L116.91,234.35 L117.58,235.03 L118.25,235.61 L118.92,236.1 L119.59,236.51 L120.26,236.86 L120.94,237.16 L121.61,237.41 L122.28,237.62 L122.95,237.79 L123.62,237.94 L124.29,238.07 L124.96,238.17 L125.63,238.26 L126.3,238.33 L126.97,238.39 L127.65,238.45 L128.32,238.49 L128.99,238.52 L129.66,238.55 L130.33,238.58 L131,238.6 L131.67,238.62 L132.34,238.63 L133.01,238.64 L133.69,238.65 L134.36,238.66 L135.03,238.67 L135.7,238.67 L136.37,238.68 L137.04,238.68 L137.71,238.68 L138.38,238.69 L139.05,238.69 L139.72,238.69 L140.39,238.69 L141.07,238.69 L141.74,238.69 L142.41,238.7 L143.08,238.7 L143.75,238.7 L144.42,238.7 L145.09,238.7 L145.76,238.7 L146.43,238.7 L147.1,238.7 L147.78,238.7 L148.45,238.7 L149.12,238.7 L149.79,238.7 L150.46,238.7 L151.13,238.7 L151.8,238.7 L152.47,238.7 L153.14,238.7 L153.81,238.7 L154.49,238.7 L155.16,238.7 L155.83,238.7 L156.5,238.7 L157.17,238.7 L157.84,238.7 L158.51,238.7 L159.18,238.7 L159.85,238.7 L160.52,238.7 L161.2,238.7 L161.87,238.7 L162.54,238.7 L163.21,238.7 L163.88,238.7 L164.55,238.7 L165.22,238.7 L165.89,238.7 L166.56,238.7 L167.23,238.7 L167.91,238.7 L168.58,238.7 L169.25,238.7 L169.92,238.7 L170.59,238.7 L171.26,238.7 L171.93,238.7 L172.6,238.7 L173.27,238.7 L173.94,238.7 L174.62,238.7 L175.29,238.7 L175.96,238.7 L176.63,238.7 L177.3,238.7 L177.97,238.7 L178.64,238.7 L179.31,238.7 L179.98,238.7 L180.65,238.7 L181.33,238.7 L182,238.7 L182.67,238.7 L183.34,238.7 L184.01,238.7 L184.68,238.7 L185.35,238.7 L186.02,238.7 L186.69,238.7 L187.36,238.7 L188.04,238.7 L188.71,238.7 L189.38,238.7 L190.05,238.7 L190.72,238.7 L191.39,238.7 L192.06,238.7 L192.73,238.7 L193.4,238.7 L194.07,238.7 L194.75,238.7 L195.42,238.7 L196.09,238.7 L196.76,238.7 L197.43,238.7 L198.1,238.7 L198.77,238.7 L199.44,238.7 L200.11,238.7 L200.78,238.7 L201.46,238.7 L202.13,238.7 L202.8,238.7 L203.47,238.7 L204.14,238.7 L204.81,238.7 L205.48,238.7 L206.15,238.7 L206.82,238.7 L207.5,238.7 L208.17,238.7 L208.84,238.7 L209.51,238.7 L210.18,238.7 L210.85,238.7 L211.52,238.7 L212.19,238.7 L212.86,238.7 L213.53,238.7 L214.2,238.7 L214.88,238.7 L215.55,238.7 L216.22,238.7 L216.89,238.7 L217.56,238.7 L218.23,238.7 L218.9,238.7 L219.57,238.7 L220.24,238.7 L220.91,238.7 L221.59,238.7 L222.26,238.7 L222.93,238.7 L223.6,238.7 L224.27,238.7 L224.94,238.7 L225.61,238.7 L226.28,238.7 L226.95,238.7 L227.62,238.7 L228.3,238.7 L228.97,238.7 L229.64,238.7 L230.31,238.7 L230.98,238.7 L231.65,238.7 L232.32,238.7 L232.99,238.7 L233.66,238.7 L234.33,238.7 L235.01,238.7 L235.68,238.7 L236.35,238.7 L237.02,238.7 L237.69,238.7 L238.36,238.7 L239.03,238.7 L239.7,238.7 L240.37,238.7 L241.04,238.7 L241.72,238.7 L242.39,238.7 L243.06,238.7 L243.73,238.7 L244.4,238.7 L245.07,238.7 L245.74,238.7 L246.41,238.7 L247.08,238.7 L247.75,238.7 L248.43,238.7 L249.1,238.7 L249.77,238.7 L250.44,238.7 L251.11,238.7 L251.78,238.7 L252.45,238.7 L253.12,238.7 L253.79,238.7 L254.46,238.7 L255.14,238.7 L255.81,238.7 L256.48,238.7 L257.15,238.7 L257.82,238.7 L258.49,238.7 L259.16,238.7 L259.83,238.7 L260.5,238.7 L261.18,238.7 L261.85,238.7 L262.52,238.7 L263.19,238.7 L263.86,238.7 L264.53,238.7 L265.2,238.7 L265.87,238.7 L266.54,238.7 L267.21,238.7 L267.88,238.7 L268.56,238.7 L269.23,238.7 L269.9,238.7 L270.57,238.7 L271.24,238.7 L271.91,238.7 L272.58,238.7 L273.25,238.7 L273.92,238.7 L274.6,238.7 L275.27,238.7 L275.94,238.7 L276.61,238.7 L277.28,238.7 L277.95,238.7 L278.62,238.7 L279.29,238.7 L279.96,238.7 L280.63,238.7 L281.3,238.7 L281.98,238.7 L282.65,238.7 L283.32,238.7 L283.99,238.7 L284.66,238.7 L285.33,238.7 L286,238.7 L286.67,238.7 L287.34,238.7 L288.01,238.7 L288.69,238.7 L289.36,238.7 L290.03,238.7 L290.7,238.7 L291.37,238.7 L292.04,238.7 L292.71,238.7 L293.38,238.7 L294.05,238.7 L294.72,238.7 L295.4,238.7 L296.07,238.7 L296.74,238.7 L297.41,238.7 L298.08,238.7 L298.75,238.7 L299.42,238.7 L300.09,238.7 L300.76,238.7 L301.44,238.7 L302.11,238.7 L302.78,238.7 L303.45,238.7 L304.12,238.7 L304.79,238.7 L305.46,238.7 L306.13,238.7 L306.8,238.7 L307.47,238.7 L308.15,238.7 L308.82,238.7 L309.49,238.7 L310.16,238.7 L310.83,238.7 L311.5,238.7" fill="none" stroke="#1010ff" stroke-width="1.8" stroke-linejoin="round"/>
<path d="M43.1,238.7 L43.1,238.7 L43.77,238.7 L44.44,238.7 L45.11,238.7 L45.78,238.7 L46.45,238.7 L47.13,238.7 L47.8,238.7 L48.47,238.7 L49.14,238.7 L49.81,238.7 L50.48,238.7 L51.15,238.7 L51.82,238.7 L52.49,238.7 L53.16,238.7 L53.84,238.7 L54.51,238.7 L55.18,238.7 L55.85,238.7 L56.52,238.7 L57.19,238.7 L57.86,238.7 L58.53,238.7 L59.2,238.7 L59.88,238.7 L60.55,238.68 L61.22,238.61 L61.89,238.5 L62.56,238.36 L63.23,238.2 L63.9,238.02 L64.57,237.84 L65.24,237.6 L65.91,237.28 L66.58,236.88 L67.26,236.43 L67.93,235.94 L68.6,235.43 L69.27,234.9 L69.94,234.38 L70.61,233.86 L71.28,233.33 L71.95,232.78 L72.62,232.2 L73.3,231.6 L73.97,230.95 L74.64,230.27 L75.31,229.53 L75.98,228.75 L76.65,227.9 L77.32,226.93 L77.99,225.81 L78.66,224.55 L79.33,223.2 L80,221.79 L80.68,220.34 L81.35,218.95 L82.02,217.6 L82.69,216.16 L83.36,214.5 L84.03,212.48 L84.7,209.97 L85.37,205.7 L86.04,199.61 L86.72,193.34 L87.39,187.27 L88.06,180.92 L88.73,174.67 L89.4,168.93 L90.07,163.52 L90.74,158.46 L91.41,154.46 L92.08,151.11 L92.75,148.3 L93.42,147.12 L94.1,147.76 L94.77,149.31 L95.44,151.22 L96.11,153.83 L96.78,157.49 L97.45,161.6 L98.12,165.61 L98.79,168.93 L99.46,171.65 L100.13,174.23 L100.81,176.66 L101.48,178.94 L102.15,181.08 L102.82,183.07 L103.49,184.92 L104.16,186.62 L104.83,188.24 L105.5,189.79 L106.17,191.26 L106.84,192.63 L107.52,193.9 L108.19,195.07 L108.86,196.11 L109.53,197.04 L110.2,197.97 L110.87,198.81 L111.54,199.46 L112.21,199.82 L112.88,199.99 L113.56,200.13 L114.23,200.22 L114.9,200.25 L115.57,200.03 L116.24,199.44 L116.91,198.61 L117.58,197.66 L118.25,196.35 L118.92,194.51 L119.59,192.35 L120.26,190.1 L120.94,187.69 L121.61,185 L122.28,182.16 L122.95,179.3 L123.62,176.38 L124.29,173.36 L124.96,170.34 L125.63,167.42 L126.3,164.59 L126.97,161.79 L127.65,159.11 L128.32,156.62 L128.99,154.31 L129.66,152.12 L130.33,150.02 L131,148 L131.67,146.04 L132.34,144.12 L133.01,142.21 L133.69,140.31 L134.36,138.44 L135.03,136.63 L135.7,134.88 L136.37,133.23 L137.04,131.7 L137.71,130.29 L138.38,128.93 L139.05,127.61 L139.72,126.35 L140.39,125.17 L141.07,124.08 L141.74,123.11 L142.41,122.28 L143.08,121.58 L143.75,120.95 L144.42,120.37 L145.09,119.84 L145.76,119.34 L146.43,118.88 L147.1,118.44 L147.78,118.01 L148.45,117.58 L149.12,117.14 L149.79,116.7 L150.46,116.28 L151.13,115.9 L151.8,115.54 L152.47,115.19 L153.14,114.84 L153.81,114.5 L154.49,114.15 L155.16,113.77 L155.83,113.37 L156.5,112.93 L157.17,112.45 L157.84,111.92 L158.51,111.32 L159.18,110.59 L159.85,109.75 L160.52,108.82 L161.2,107.82 L161.87,106.75 L162.54,105.64 L163.21,104.45 L163.88,103.14 L164.55,101.72 L165.22,100.21 L165.89,98.65 L166.56,97.04 L167.23,95.4 L167.91,93.76 L168.58,92.11 L169.25,90.41 L169.92,88.66 L170.59,86.88 L171.26,85.06 L171.93,83.2 L172.6,81.3 L173.27,79.37 L173.94,77.4 L174.62,75.4 L175.29,73.34 L175.96,71.2 L176.63,69 L177.3,66.75 L177.97,64.46 L178.64,62.17 L179.31,59.87 L179.98,57.59 L180.65,55.34 L181.33,53.1 L182,50.76 L182.67,48.35 L183.34,45.91 L184.01,43.5 L184.68,41.16 L185.35,38.94 L186.02,36.89 L186.69,35.06 L187.36,33.5 L188.04,32.08 L188.71,30.66 L189.38,29.28 L190.05,27.96 L190.72,26.74 L191.39,25.64 L192.06,24.7 L192.73,23.95 L193.4,23.41 L194.07,23.13 L194.75,22.99 L195.42,22.87 L196.09,22.78 L196.76,22.72 L197.43,22.7 L198.1,22.79 L198.77,23.02 L199.44,23.36 L200.11,23.77 L200.78,24.21 L201.46,24.73 L202.13,25.38 L202.8,26.17 L203.47,27.09 L204.14,28.11 L204.81,29.24 L205.48,30.46 L206.15,31.76 L206.82,33.14 L207.5,34.58 L208.17,36.23 L208.84,38.21 L209.51,40.46 L210.18,42.93 L210.85,45.58 L211.52,48.35 L212.19,51.18 L212.86,54.04 L213.53,56.86 L214.2,59.67 L214.88,62.65 L215.55,65.76 L216.22,68.93 L216.89,72.12 L217.56,75.27 L218.23,78.32 L218.9,81.26 L219.57,84.14 L220.24,86.98 L220.91,89.79 L221.59,92.57 L222.26,95.32 L222.93,98.04 L223.6,100.74 L224.27,103.42 L224.94,106.06 L225.61,108.65 L226.28,111.22 L226.95,113.77 L227.62,116.31 L228.3,118.85 L228.97,121.41 L229.64,123.99 L230.31,126.62 L230.98,129.31 L231.65,132.04 L232.32,134.78 L232.99,137.52 L233.66,140.22 L234.33,142.86 L235.01,145.42 L235.68,147.87 L236.35,150.28 L237.02,152.65 L237.69,154.98 L238.36,157.28 L239.03,159.52 L239.7,161.71 L240.37,163.85 L241.04,165.92 L241.72,167.93 L242.39,169.87 L243.06,171.73 L243.73,173.52 L244.4,175.26 L245.07,176.96 L245.74,178.63 L246.41,180.28 L247.08,181.92 L247.75,183.54 L248.43,185.16 L249.1,186.76 L249.77,188.34 L250.44,189.9 L251.11,191.43 L251.78,192.94 L252.45,194.42 L253.12,195.86 L253.79,197.27 L254.46,198.64 L255.14,199.97 L255.81,201.3 L256.48,202.62 L257.15,203.91 L257.82,205.17 L258.49,206.39 L259.16,207.56 L259.83,208.66 L260.5,209.68 L261.18,210.62 L261.85,211.49 L262.52,212.31 L263.19,213.09 L263.86,213.83 L264.53,214.53 L265.2,215.22 L265.87,215.88 L266.54,216.52 L267.21,217.15 L267.88,217.77 L268.56,218.4 L269.23,219.02 L269.9,219.65 L270.57,220.28 L271.24,220.91 L271.91,221.54 L272.58,222.17 L273.25,222.78 L273.92,223.39 L274.6,223.99 L275.27,224.58 L275.94,225.16 L276.61,225.72 L277.28,226.26 L277.95,226.78 L278.62,227.29 L279.29,227.77 L279.96,228.22 L280.63,228.65 L281.3,229.05 L281.98,229.42 L282.65,229.76 L283.32,230.08 L283.99,230.4 L284.66,230.7 L285.33,230.99 L286,231.27 L286.67,231.55 L287.34,231.81 L288.01,232.06 L288.69,232.31 L289.36,232.55 L290.03,232.78 L290.7,233 L291.37,233.22 L292.04,233.43 L292.71,233.63 L293.38,233.83 L294.05,234.02 L294.72,234.2 L295.4,234.38 L296.07,234.56 L296.74,234.73 L297.41,234.9 L298.08,235.07 L298.75,235.23 L299.42,235.38 L300.09,235.53 L300.76,235.68 L301.44,235.82 L302.11,235.96 L302.78,236.1 L303.45,236.23 L304.12,236.36 L304.79,236.49 L305.46,236.62 L306.13,236.74 L306.8,236.86 L307.47,236.98 L308.15,237.09 L308.82,237.2 L309.49,237.32 L310.16,237.43 L310.83,237.53 L311.5,237.62 L311.5,238.7 Z" fill="url(#spec)" fill-opacity="0.68"/>
<path d="M43.1,238.7 L43.77,238.7 L44.44,238.7 L45.11,238.7 L45.78,238.7 L46.45,238.7 L47.13,238.7 L47.8,238.7 L48.47,238.7 L49.14,238.7 L49.81,238.7 L50.48,238.7 L51.15,238.7 L51.82,238.7 L52.49,238.7 L53.16,238.7 L53.84,238.7 L54.51,238.7 L55.18,238.7 L55.85,238.7 L56.52,238.7 L57.19,238.7 L57.86,238.7 L58.53,238.7 L59.2,238.7 L59.88,238.7 L60.55,238.68 L61.22,238.61 L61.89,238.5 L62.56,238.36 L63.23,238.2 L63.9,238.02 L64.57,237.84 L65.24,237.6 L65.91,237.28 L66.58,236.88 L67.26,236.43 L67.93,235.94 L68.6,235.43 L69.27,234.9 L69.94,234.38 L70.61,233.86 L71.28,233.33 L71.95,232.78 L72.62,232.2 L73.3,231.6 L73.97,230.95 L74.64,230.27 L75.31,229.53 L75.98,228.75 L76.65,227.9 L77.32,226.93 L77.99,225.81 L78.66,224.55 L79.33,223.2 L80,221.79 L80.68,220.34 L81.35,218.95 L82.02,217.6 L82.69,216.16 L83.36,214.5 L84.03,212.48 L84.7,209.97 L85.37,205.7 L86.04,199.61 L86.72,193.34 L87.39,187.27 L88.06,180.92 L88.73,174.67 L89.4,168.93 L90.07,163.52 L90.74,158.46 L91.41,154.46 L92.08,151.11 L92.75,148.3 L93.42,147.12 L94.1,147.76 L94.77,149.31 L95.44,151.22 L96.11,153.83 L96.78,157.49 L97.45,161.6 L98.12,165.61 L98.79,168.93 L99.46,171.65 L100.13,174.23 L100.81,176.66 L101.48,178.94 L102.15,181.08 L102.82,183.07 L103.49,184.92 L104.16,186.62 L104.83,188.24 L105.5,189.79 L106.17,191.26 L106.84,192.63 L107.52,193.9 L108.19,195.07 L108.86,196.11 L109.53,197.04 L110.2,197.97 L110.87,198.81 L111.54,199.46 L112.21,199.82 L112.88,199.99 L113.56,200.13 L114.23,200.22 L114.9,200.25 L115.57,200.03 L116.24,199.44 L116.91,198.61 L117.58,197.66 L118.25,196.35 L118.92,194.51 L119.59,192.35 L120.26,190.1 L120.94,187.69 L121.61,185 L122.28,182.16 L122.95,179.3 L123.62,176.38 L124.29,173.36 L124.96,170.34 L125.63,167.42 L126.3,164.59 L126.97,161.79 L127.65,159.11 L128.32,156.62 L128.99,154.31 L129.66,152.12 L130.33,150.02 L131,148 L131.67,146.04 L132.34,144.12 L133.01,142.21 L133.69,140.31 L134.36,138.44 L135.03,136.63 L135.7,134.88 L136.37,133.23 L137.04,131.7 L137.71,130.29 L138.38,128.93 L139.05,127.61 L139.72,126.35 L140.39,125.17 L141.07,124.08 L141.74,123.11 L142.41,122.28 L143.08,121.58 L143.75,120.95 L144.42,120.37 L145.09,119.84 L145.76,119.34 L146.43,118.88 L147.1,118.44 L147.78,118.01 L148.45,117.58 L149.12,117.14 L149.79,116.7 L150.46,116.28 L151.13,115.9 L151.8,115.54 L152.47,115.19 L153.14,114.84 L153.81,114.5 L154.49,114.15 L155.16,113.77 L155.83,113.37 L156.5,112.93 L157.17,112.45 L157.84,111.92 L158.51,111.32 L159.18,110.59 L159.85,109.75 L160.52,108.82 L161.2,107.82 L161.87,106.75 L162.54,105.64 L163.21,104.45 L163.88,103.14 L164.55,101.72 L165.22,100.21 L165.89,98.65 L166.56,97.04 L167.23,95.4 L167.91,93.76 L168.58,92.11 L169.25,90.41 L169.92,88.66 L170.59,86.88 L171.26,85.06 L171.93,83.2 L172.6,81.3 L173.27,79.37 L173.94,77.4 L174.62,75.4 L175.29,73.34 L175.96,71.2 L176.63,69 L177.3,66.75 L177.97,64.46 L178.64,62.17 L179.31,59.87 L179.98,57.59 L180.65,55.34 L181.33,53.1 L182,50.76 L182.67,48.35 L183.34,45.91 L184.01,43.5 L184.68,41.16 L185.35,38.94 L186.02,36.89 L186.69,35.06 L187.36,33.5 L188.04,32.08 L188.71,30.66 L189.38,29.28 L190.05,27.96 L190.72,26.74 L191.39,25.64 L192.06,24.7 L192.73,23.95 L193.4,23.41 L194.07,23.13 L194.75,22.99 L195.42,22.87 L196.09,22.78 L196.76,22.72 L197.43,22.7 L198.1,22.79 L198.77,23.02 L199.44,23.36 L200.11,23.77 L200.78,24.21 L201.46,24.73 L202.13,25.38 L202.8,26.17 L203.47,27.09 L204.14,28.11 L204.81,29.24 L205.48,30.46 L206.15,31.76 L206.82,33.14 L207.5,34.58 L208.17,36.23 L208.84,38.21 L209.51,40.46 L210.18,42.93 L210.85,45.58 L211.52,48.35 L212.19,51.18 L212.86,54.04 L213.53,56.86 L214.2,59.67 L214.88,62.65 L215.55,65.76 L216.22,68.93 L216.89,72.12 L217.56,75.27 L218.23,78.32 L218.9,81.26 L219.57,84.14 L220.24,86.98 L220.91,89.79 L221.59,92.57 L222.26,95.32 L222.93,98.04 L223.6,100.74 L224.27,103.42 L224.94,106.06 L225.61,108.65 L226.28,111.22 L226.95,113.77 L227.62,116.31 L228.3,118.85 L228.97,121.41 L229.64,123.99 L230.31,126.62 L230.98,129.31 L231.65,132.04 L232.32,134.78 L232.99,137.52 L233.66,140.22 L234.33,142.86 L235.01,145.42 L235.68,147.87 L236.35,150.28 L237.02,152.65 L237.69,154.98 L238.36,157.28 L239.03,159.52 L239.7,161.71 L240.37,163.85 L241.04,165.92 L241.72,167.93 L242.39,169.87 L243.06,171.73 L243.73,173.52 L244.4,175.26 L245.07,176.96 L245.74,178.63 L246.41,180.28 L247.08,181.92 L247.75,183.54 L248.43,185.16 L249.1,186.76 L249.77,188.34 L250.44,189.9 L251.11,191.43 L251.78,192.94 L252.45,194.42 L253.12,195.86 L253.79,197.27 L254.46,198.64 L255.14,199.97 L255.81,201.3 L256.48,202.62 L257.15,203.91 L257.82,205.17 L258.49,206.39 L259.16,207.56 L259.83,208.66 L260.5,209.68 L261.18,210.62 L261.85,211.49 L262.52,212.31 L263.19,213.09 L263.86,213.83 L264.53,214.53 L265.2,215.22 L265.87,215.88 L266.54,216.52 L267.21,217.15 L267.88,217.77 L268.56,218.4 L269.23,219.02 L269.9,219.65 L270.57,220.28 L271.24,220.91 L271.91,221.54 L272.58,222.17 L273.25,222.78 L273.92,223.39 L274.6,223.99 L275.27,224.58 L275.94,225.16 L276.61,225.72 L277.28,226.26 L277.95,226.78 L278.62,227.29 L279.29,227.77 L279.96,228.22 L280.63,228.65 L281.3,229.05 L281.98,229.42 L282.65,229.76 L283.32,230.08 L283.99,230.4 L284.66,230.7 L285.33,230.99 L286,231.27 L286.67,231.55 L287.34,231.81 L288.01,232.06 L288.69,232.31 L289.36,232.55 L290.03,232.78 L290.7,233 L291.37,233.22 L292.04,233.43 L292.71,233.63 L293.38,233.83 L294.05,234.02 L294.72,234.2 L295.4,234.38 L296.07,234.56 L296.74,234.73 L297.41,234.9 L298.08,235.07 L298.75,235.23 L299.42,235.38 L300.09,235.53 L300.76,235.68 L301.44,235.82 L302.11,235.96 L302.78,236.1 L303.45,236.23 L304.12,236.36 L304.79,236.49 L305.46,236.62 L306.13,236.74 L306.8,236.86 L307.47,236.98 L308.15,237.09 L308.82,237.2 L309.49,237.32 L310.16,237.43 L310.83,237.53 L311.5,237.62" fill="none" stroke="#f27c12" stroke-width="2.1" stroke-linejoin="round"/>
<path d="M43.1,238.7 L43.1,238.7 L43.77,238.7 L44.44,238.7 L45.11,238.7 L45.78,238.7 L46.45,238.7 L47.13,238.7 L47.8,238.7 L48.47,238.7 L49.14,238.7 L49.81,238.7 L50.48,238.7 L51.15,238.7 L51.82,238.7 L52.49,238.7 L53.16,238.7 L53.84,238.7 L54.51,238.7 L55.18,238.7 L55.85,238.7 L56.52,238.7 L57.19,238.7 L57.86,238.7 L58.53,238.7 L59.2,238.7 L59.88,238.7 L60.55,238.7 L61.22,238.7 L61.89,238.7 L62.56,238.7 L63.23,238.7 L63.9,238.7 L64.57,238.7 L65.24,238.52 L65.91,238.1 L66.58,237.62 L67.26,237.15 L67.93,236.6 L68.6,235.97 L69.27,235.24 L69.94,234.37 L70.61,233.32 L71.28,232.09 L71.95,230.71 L72.62,229.07 L73.3,227.13 L73.97,224.92 L74.64,222.5 L75.31,219.81 L75.98,216.73 L76.65,213.23 L77.32,209.22 L77.99,204.51 L78.66,199.15 L79.33,193.17 L80,186.26 L80.68,178.27 L81.35,169.01 L82.02,157.87 L82.69,146.92 L83.36,136.17 L84.03,125.13 L84.7,113.78 L85.37,102.32 L86.04,90.69 L86.72,79.01 L87.39,68.17 L88.06,58.1 L88.73,48.62 L89.4,39.12 L90.07,31.34 L90.74,25.58 L91.41,22.7 L92.08,23.71 L92.75,25.94 L93.42,29.85 L94.1,35.66 L94.77,43.64 L95.44,52.94 L96.11,62 L96.78,71.29 L97.45,80.58 L98.12,89.66 L98.79,98.45 L99.46,107.07 L100.13,115.63 L100.81,124.22 L101.48,132.99 L102.15,141.76 L102.82,150.14 L103.49,158.3 L104.16,166.11 L104.83,172.82 L105.5,178.41 L106.17,183.3 L106.84,187.29 L107.52,190.61 L108.19,193.42 L108.86,195.5 L109.53,197.03 L110.2,198.33 L110.87,199.35 L111.54,200.04 L112.21,200.52 L112.88,200.94 L113.56,201.22 L114.23,201.33 L114.9,201.24 L115.57,201 L116.24,200.66 L116.91,200.25 L117.58,199.69 L118.25,198.86 L118.92,197.81 L119.59,196.58 L120.26,194.92 L120.94,192.68 L121.61,190.08 L122.28,187.35 L122.95,184.7 L123.62,182.07 L124.29,179.31 L124.96,176.55 L125.63,173.9 L126.3,171.35 L126.97,168.86 L127.65,166.45 L128.32,164.18 L128.99,161.98 L129.66,159.84 L130.33,157.88 L131,156.19 L131.67,154.72 L132.34,153.33 L133.01,152.03 L133.69,150.84 L134.36,149.75 L135.03,148.78 L135.7,147.92 L136.37,147.17 L137.04,146.48 L137.71,145.86 L138.38,145.28 L139.05,144.74 L139.72,144.25 L140.39,143.79 L141.07,143.36 L141.74,142.91 L142.41,142.46 L143.08,142.01 L143.75,141.6 L144.42,141.26 L145.09,141.01 L145.76,140.87 L146.43,140.86 L147.1,140.91 L147.78,141 L148.45,141.14 L149.12,141.3 L149.79,141.5 L150.46,141.71 L151.13,141.89 L151.8,142.04 L152.47,142.25 L153.14,142.52 L153.81,142.98 L154.49,143.26 L155.16,143.54 L155.83,144.34 L156.5,144.47 L157.17,145.19 L157.84,145.1 L158.51,145.04 L159.18,145.36 L159.85,145.4 L160.52,146.02 L161.2,146.99 L161.87,146.98 L162.54,147.41 L163.21,147.31 L163.88,147 L164.55,147.53 L165.22,147.52 L165.89,148.22 L166.56,148.25 L167.23,148.24 L167.91,148.45 L168.58,148.67 L169.25,148.93 L169.92,149.14 L170.59,148.87 L171.26,148.45 L171.93,148.37 L172.6,148.85 L173.27,149.07 L173.94,149.43 L174.62,149.72 L175.29,149.34 L175.96,149.55 L176.63,149.56 L177.3,149.94 L177.97,150.49 L178.64,151.25 L179.31,151.48 L179.98,151.32 L180.65,151.07 L181.33,150.72 L182,151.06 L182.67,150.68 L183.34,151.4 L184.01,152.02 L184.68,152.3 L185.35,152.94 L186.02,152.99 L186.69,152.98 L187.36,153.37 L188.04,153.38 L188.71,153.73 L189.38,154.19 L190.05,154.23 L190.72,155.17 L191.39,155.42 L192.06,155.16 L192.73,155.68 L193.4,155.95 L194.07,156.48 L194.75,157.42 L195.42,157.64 L196.09,158.06 L196.76,158.66 L197.43,159.48 L198.1,160.37 L198.77,160.94 L199.44,161.51 L200.11,161.98 L200.78,163.19 L201.46,163.94 L202.13,165.17 L202.8,166.35 L203.47,166.85 L204.14,168.02 L204.81,168.52 L205.48,169.31 L206.15,170.21 L206.82,171.29 L207.5,172.68 L208.17,173.43 L208.84,174.42 L209.51,175.04 L210.18,175.48 L210.85,176.05 L211.52,176.58 L212.19,177.36 L212.86,177.91 L213.53,178.9 L214.2,180.05 L214.88,180.85 L215.55,182.35 L216.22,183.47 L216.89,184.11 L217.56,185.48 L218.23,185.97 L218.9,187.12 L219.57,188.46 L220.24,189.23 L220.91,190.27 L221.59,190.81 L222.26,191.79 L222.93,192.96 L223.6,194.08 L224.27,195.34 L224.94,196.69 L225.61,197.87 L226.28,198.55 L226.95,199.88 L227.62,200.21 L228.3,201 L228.97,201.93 L229.64,202.6 L230.31,203.53 L230.98,204.72 L231.65,205.75 L232.32,205.98 L232.99,207.13 L233.66,206.97 L234.33,207.86 L235.01,208.86 L235.68,209.9 L236.35,210.6 L237.02,211.31 L237.69,212.1 L238.36,212.33 L239.03,213.51 L239.7,213.58 L240.37,214.16 L241.04,214.15 L241.72,214.48 L242.39,215.23 L243.06,215.75 L243.73,216.38 L244.4,216.13 L245.07,216.53 L245.74,216.74 L246.41,217.46 L247.08,218.37 L247.75,218.66 L248.43,219.75 L249.1,220.48 L249.77,220.69 L250.44,221.43 L251.11,221.42 L251.78,221.38 L252.45,222.12 L253.12,222.47 L253.79,223 L254.46,223 L255.14,223.69 L255.81,224.53 L256.48,224.99 L257.15,225.95 L257.82,225.89 L258.49,226.23 L259.16,226.57 L259.83,226.89 L260.5,227.21 L261.18,227.51 L261.85,227.8 L262.52,228.08 L263.19,228.35 L263.86,228.61 L264.53,228.86 L265.2,229.11 L265.87,229.35 L266.54,229.59 L267.21,229.82 L267.88,230.05 L268.56,230.28 L269.23,230.5 L269.9,230.73 L270.57,230.95 L271.24,231.17 L271.91,231.39 L272.58,231.6 L273.25,231.8 L273.92,232 L274.6,232.19 L275.27,232.37 L275.94,232.54 L276.61,232.7 L277.28,232.87 L277.95,233.03 L278.62,233.18 L279.29,233.34 L279.96,233.49 L280.63,233.64 L281.3,233.79 L281.98,233.93 L282.65,234.07 L283.32,234.21 L283.99,234.34 L284.66,234.47 L285.33,234.59 L286,234.71 L286.67,234.83 L287.34,234.94 L288.01,235.04 L288.69,235.15 L289.36,235.24 L290.03,235.34 L290.7,235.43 L291.37,235.52 L292.04,235.6 L292.71,235.69 L293.38,235.77 L294.05,235.85 L294.72,235.92 L295.4,236 L296.07,236.07 L296.74,236.14 L297.41,236.21 L298.08,236.28 L298.75,236.34 L299.42,236.41 L300.09,236.47 L300.76,236.54 L301.44,236.6 L302.11,236.66 L302.78,236.72 L303.45,236.78 L304.12,236.84 L304.79,236.9 L305.46,236.95 L306.13,237.01 L306.8,237.06 L307.47,237.12 L308.15,237.17 L308.82,237.22 L309.49,237.27 L310.16,237.31 L310.83,237.36 L311.5,237.4 L311.5,238.7 Z" fill="url(#spec)" fill-opacity="0.6"/>
<path d="M59.88,238.68 L60.55,238.67 L61.22,238.66 L61.89,238.65 L62.56,238.63 L63.23,238.6 L63.9,238.57 L64.57,238.53 L65.24,238.48 L65.91,238.41 L66.58,238.32 L67.26,238.2 L67.93,238.06 L68.6,237.86 L69.27,237.62 L69.94,237.31 L70.61,236.92 L71.28,236.43 L71.95,235.82 L72.62,235.05 L73.3,234.11 L73.97,232.94 L74.64,231.51 L75.31,229.77 L75.98,227.67 L76.65,225.14 L77.32,222.13 L77.99,218.55 L78.66,214.36 L79.33,209.47 L80,203.81 L80.68,197.34 L81.35,189.99 L82.02,181.73 L82.69,172.56 L83.36,162.47 L84.03,151.53 L84.7,139.81 L85.37,127.43 L86.04,114.58 L86.72,101.46 L87.39,88.33 L88.06,75.49 L88.73,63.28 L89.4,52.06 L90.07,42.18 L90.74,34 L91.41,27.85" fill="none" stroke="#1010ff" stroke-width="1.7" stroke-opacity="0.9"/>
<path d="M66.58,236.88 L67.26,236.43 L67.93,235.94 L68.6,235.43 L69.27,234.9 L69.94,234.38 L70.61,233.86 L71.28,233.33 L71.95,232.78 L72.62,232.2 L73.3,231.6 L73.97,230.95 L74.64,230.27 L75.31,229.53 L75.98,228.75 L76.65,227.9 L77.32,226.93 L77.99,225.81 L78.66,224.55 L79.33,223.2 L80,221.79 L80.68,220.34 L81.35,218.95 L82.02,217.6 L82.69,216.16 L83.36,214.5 L84.03,212.48 L84.7,209.97 L85.37,205.7 L86.04,199.61 L86.72,193.34 L87.39,187.27 L88.06,180.92 L88.73,174.67 L89.4,168.93 L90.07,163.52 L90.74,158.46 L91.41,154.46 L92.08,151.11 L92.75,148.3 L93.42,147.12 L94.1,147.76 L94.77,149.31 L95.44,151.22 L96.11,153.83 L96.78,157.49 L97.45,161.6 L98.12,165.61 L98.79,168.93 L99.46,171.65 L100.13,174.23 L100.81,176.66 L101.48,178.94 L102.15,181.08 L102.82,183.07 L103.49,184.92 L104.16,186.62 L104.83,188.24 L105.5,189.79 L106.17,191.26 L106.84,192.63 L107.52,193.9 L108.19,195.07 L108.86,196.11 L109.53,197.04 L110.2,197.97 L110.87,198.81 L111.54,199.46 L112.21,199.82 L112.88,199.99 L113.56,200.13 L114.23,200.22 L114.9,200.25 L115.57,200.03 L116.24,199.44 L116.91,198.61" fill="none" stroke="#a08868" stroke-width="1.9" stroke-opacity="0.75"/>
<path d="M43.1,238.7 L43.77,238.7 L44.44,238.7 L45.11,238.7 L45.78,238.7 L46.45,238.7 L47.13,238.7 L47.8,238.7 L48.47,238.7 L49.14,238.7 L49.81,238.7 L50.48,238.7 L51.15,238.7 L51.82,238.7 L52.49,238.7 L53.16,238.7 L53.84,238.7 L54.51,238.7 L55.18,238.7 L55.85,238.7 L56.52,238.7 L57.19,238.7 L57.86,238.7 L58.53,238.7 L59.2,238.7 L59.88,238.7 L60.55,238.7 L61.22,238.7 L61.89,238.7 L62.56,238.7 L63.23,238.7 L63.9,238.7 L64.57,238.7 L65.24,238.52 L65.91,238.1 L66.58,237.62 L67.26,237.15 L67.93,236.6 L68.6,235.97 L69.27,235.24 L69.94,234.37 L70.61,233.32 L71.28,232.09 L71.95,230.71 L72.62,229.07 L73.3,227.13 L73.97,224.92 L74.64,222.5 L75.31,219.81 L75.98,216.73 L76.65,213.23 L77.32,209.22 L77.99,204.51 L78.66,199.15 L79.33,193.17 L80,186.26 L80.68,178.27 L81.35,169.01 L82.02,157.87 L82.69,146.92 L83.36,136.17 L84.03,125.13 L84.7,113.78 L85.37,102.32 L86.04,90.69 L86.72,79.01 L87.39,68.17 L88.06,58.1 L88.73,48.62 L89.4,39.12 L90.07,31.34 L90.74,25.58 L91.41,22.7 L92.08,23.71 L92.75,25.94 L93.42,29.85 L94.1,35.66 L94.77,43.64 L95.44,52.94 L96.11,62 L96.78,71.29 L97.45,80.58 L98.12,89.66 L98.79,98.45 L99.46,107.07 L100.13,115.63 L100.81,124.22 L101.48,132.99 L102.15,141.76 L102.82,150.14 L103.49,158.3 L104.16,166.11 L104.83,172.82 L105.5,178.41 L106.17,183.3 L106.84,187.29 L107.52,190.61 L108.19,193.42 L108.86,195.5 L109.53,197.03 L110.2,198.33 L110.87,199.35 L111.54,200.04 L112.21,200.52 L112.88,200.94 L113.56,201.22 L114.23,201.33 L114.9,201.24 L115.57,201 L116.24,200.66 L116.91,200.25 L117.58,199.69 L118.25,198.86 L118.92,197.81 L119.59,196.58 L120.26,194.92 L120.94,192.68 L121.61,190.08 L122.28,187.35 L122.95,184.7 L123.62,182.07 L124.29,179.31 L124.96,176.55 L125.63,173.9 L126.3,171.35 L126.97,168.86 L127.65,166.45 L128.32,164.18 L128.99,161.98 L129.66,159.84 L130.33,157.88 L131,156.19 L131.67,154.72 L132.34,153.33 L133.01,152.03 L133.69,150.84 L134.36,149.75 L135.03,148.78 L135.7,147.92 L136.37,147.17 L137.04,146.48 L137.71,145.86 L138.38,145.28 L139.05,144.74 L139.72,144.25 L140.39,143.79 L141.07,143.36 L141.74,142.91 L142.41,142.46 L143.08,142.01 L143.75,141.6 L144.42,141.26 L145.09,141.01 L145.76,140.87 L146.43,140.86 L147.1,140.91 L147.78,141 L148.45,141.14 L149.12,141.3 L149.79,141.5 L150.46,141.71 L151.13,141.89 L151.8,142.04 L152.47,142.25 L153.14,142.52 L153.81,142.98 L154.49,143.26 L155.16,143.54 L155.83,144.34 L156.5,144.47 L157.17,145.19 L157.84,145.1 L158.51,145.04 L159.18,145.36 L159.85,145.4 L160.52,146.02 L161.2,146.99 L161.87,146.98 L162.54,147.41 L163.21,147.31 L163.88,147 L164.55,147.53 L165.22,147.52 L165.89,148.22 L166.56,148.25 L167.23,148.24 L167.91,148.45 L168.58,148.67 L169.25,148.93 L169.92,149.14 L170.59,148.87 L171.26,148.45 L171.93,148.37 L172.6,148.85 L173.27,149.07 L173.94,149.43 L174.62,149.72 L175.29,149.34 L175.96,149.55 L176.63,149.56 L177.3,149.94 L177.97,150.49 L178.64,151.25 L179.31,151.48 L179.98,151.32 L180.65,151.07 L181.33,150.72 L182,151.06 L182.67,150.68 L183.34,151.4 L184.01,152.02 L184.68,152.3 L185.35,152.94 L186.02,152.99 L186.69,152.98 L187.36,153.37 L188.04,153.38 L188.71,153.73 L189.38,154.19 L190.05,154.23 L190.72,155.17 L191.39,155.42 L192.06,155.16 L192.73,155.68 L193.4,155.95 L194.07,156.48 L194.75,157.42 L195.42,157.64 L196.09,158.06 L196.76,158.66 L197.43,159.48 L198.1,160.37 L198.77,160.94 L199.44,161.51 L200.11,161.98 L200.78,163.19 L201.46,163.94 L202.13,165.17 L202.8,166.35 L203.47,166.85 L204.14,168.02 L204.81,168.52 L205.48,169.31 L206.15,170.21 L206.82,171.29 L207.5,172.68 L208.17,173.43 L208.84,174.42 L209.51,175.04 L210.18,175.48 L210.85,176.05 L211.52,176.58 L212.19,177.36 L212.86,177.91 L213.53,178.9 L214.2,180.05 L214.88,180.85 L215.55,182.35 L216.22,183.47 L216.89,184.11 L217.56,185.48 L218.23,185.97 L218.9,187.12 L219.57,188.46 L220.24,189.23 L220.91,190.27 L221.59,190.81 L222.26,191.79 L222.93,192.96 L223.6,194.08 L224.27,195.34 L224.94,196.69 L225.61,197.87 L226.28,198.55 L226.95,199.88 L227.62,200.21 L228.3,201 L228.97,201.93 L229.64,202.6 L230.31,203.53 L230.98,204.72 L231.65,205.75 L232.32,205.98 L232.99,207.13 L233.66,206.97 L234.33,207.86 L235.01,208.86 L235.68,209.9 L236.35,210.6 L237.02,211.31 L237.69,212.1 L238.36,212.33 L239.03,213.51 L239.7,213.58 L240.37,214.16 L241.04,214.15 L241.72,214.48 L242.39,215.23 L243.06,215.75 L243.73,216.38 L244.4,216.13 L245.07,216.53 L245.74,216.74 L246.41,217.46 L247.08,218.37 L247.75,218.66 L248.43,219.75 L249.1,220.48 L249.77,220.69 L250.44,221.43 L251.11,221.42 L251.78,221.38 L252.45,222.12 L253.12,222.47 L253.79,223 L254.46,223 L255.14,223.69 L255.81,224.53 L256.48,224.99 L257.15,225.95 L257.82,225.89 L258.49,226.23 L259.16,226.57 L259.83,226.89 L260.5,227.21 L261.18,227.51 L261.85,227.8 L262.52,228.08 L263.19,228.35 L263.86,228.61 L264.53,228.86 L265.2,229.11 L265.87,229.35 L266.54,229.59 L267.21,229.82 L267.88,230.05 L268.56,230.28 L269.23,230.5 L269.9,230.73 L270.57,230.95 L271.24,231.17 L271.91,231.39 L272.58,231.6 L273.25,231.8 L273.92,232 L274.6,232.19 L275.27,232.37 L275.94,232.54 L276.61,232.7 L277.28,232.87 L277.95,233.03 L278.62,233.18 L279.29,233.34 L279.96,233.49 L280.63,233.64 L281.3,233.79 L281.98,233.93 L282.65,234.07 L283.32,234.21 L283.99,234.34 L284.66,234.47 L285.33,234.59 L286,234.71 L286.67,234.83 L287.34,234.94 L288.01,235.04 L288.69,235.15 L289.36,235.24 L290.03,235.34 L290.7,235.43 L291.37,235.52 L292.04,235.6 L292.71,235.69 L293.38,235.77 L294.05,235.85 L294.72,235.92 L295.4,236 L296.07,236.07 L296.74,236.14 L297.41,236.21 L298.08,236.28 L298.75,236.34 L299.42,236.41 L300.09,236.47 L300.76,236.54 L301.44,236.6 L302.11,236.66 L302.78,236.72 L303.45,236.78 L304.12,236.84 L304.79,236.9 L305.46,236.95 L306.13,237.01 L306.8,237.06 L307.47,237.12 L308.15,237.17 L308.82,237.22 L309.49,237.27 L310.16,237.31 L310.83,237.36 L311.5,237.4" fill="none" stroke="#000" stroke-width="2.3" stroke-linejoin="round"/>
</g>
<line x1="43.1" y1="22.7" x2="311.5" y2="22.7" stroke="#666" stroke-width="1.3" />
<line x1="311.5" y1="22.2" x2="311.5" y2="238.7" stroke="#444" stroke-width="1.6" />
<line x1="43.1" y1="22.2" x2="43.1" y2="242.7" stroke="#222" stroke-width="1.2" />
<line x1="42.5" y1="238.7" x2="311.5" y2="238.7" stroke="#222" stroke-width="1.2" />
<line x1="39.1" y1="238.7" x2="43.1" y2="238.7" stroke="#222" stroke-width="1" />
<text transform="translate(36.1,241.9) scale(0.9091,1)" font-size="9.68" fill="#222" stroke="#222" stroke-width="0.25" text-anchor="end" >0.0</text>
<line x1="40.6" y1="217.1" x2="43.1" y2="217.1" stroke="#222" stroke-width="1" />
<line x1="39.1" y1="195.5" x2="43.1" y2="195.5" stroke="#222" stroke-width="1" />
<text transform="translate(36.1,198.7) scale(0.9091,1)" font-size="9.68" fill="#222" stroke="#222" stroke-width="0.25" text-anchor="end" >0.2</text>
<line x1="40.6" y1="173.9" x2="43.1" y2="173.9" stroke="#222" stroke-width="1" />
<line x1="39.1" y1="152.3" x2="43.1" y2="152.3" stroke="#222" stroke-width="1" />
<text transform="translate(36.1,155.5) scale(0.9091,1)" font-size="9.68" fill="#222" stroke="#222" stroke-width="0.25" text-anchor="end" >0.4</text>
<line x1="40.6" y1="130.7" x2="43.1" y2="130.7" stroke="#222" stroke-width="1" />
<line x1="39.1" y1="109.1" x2="43.1" y2="109.1" stroke="#222" stroke-width="1" />
<text transform="translate(36.1,112.3) scale(0.9091,1)" font-size="9.68" fill="#222" stroke="#222" stroke-width="0.25" text-anchor="end" >0.6</text>
<line x1="40.6" y1="87.5" x2="43.1" y2="87.5" stroke="#222" stroke-width="1" />
<line x1="39.1" y1="65.9" x2="43.1" y2="65.9" stroke="#222" stroke-width="1" />
<text transform="translate(36.1,69.1) scale(0.9091,1)" font-size="9.68" fill="#222" stroke="#222" stroke-width="0.25" text-anchor="end" >0.8</text>
<line x1="40.6" y1="44.3" x2="43.1" y2="44.3" stroke="#222" stroke-width="1" />
<line x1="39.1" y1="22.7" x2="43.1" y2="22.7" stroke="#222" stroke-width="1" />
<text transform="translate(36.1,25.9) scale(0.9091,1)" font-size="9.68" fill="#222" stroke="#222" stroke-width="0.25" text-anchor="end" >1.0</text>
<line x1="43.1" y1="238.7" x2="43.1" y2="242.7" stroke="#222" stroke-width="1" />
<text transform="translate(43.1,253.2) scale(0.9091,1)" font-size="9.68" fill="#222" stroke="#222" stroke-width="0.25" text-anchor="middle" >380</text>
<line x1="76.65" y1="238.7" x2="76.65" y2="241.2" stroke="#222" stroke-width="1" />
<line x1="110.2" y1="238.7" x2="110.2" y2="242.7" stroke="#222" stroke-width="1" />
<text transform="translate(110.2,253.2) scale(0.9091,1)" font-size="9.68" fill="#222" stroke="#222" stroke-width="0.25" text-anchor="middle" >480</text>
<line x1="143.75" y1="238.7" x2="143.75" y2="241.2" stroke="#222" stroke-width="1" />
<line x1="177.3" y1="238.7" x2="177.3" y2="242.7" stroke="#222" stroke-width="1" />
<text transform="translate(177.3,253.2) scale(0.9091,1)" font-size="9.68" fill="#222" stroke="#222" stroke-width="0.25" text-anchor="middle" >580</text>
<line x1="210.85" y1="238.7" x2="210.85" y2="241.2" stroke="#222" stroke-width="1" />
<line x1="244.4" y1="238.7" x2="244.4" y2="242.7" stroke="#222" stroke-width="1" />
<text transform="translate(244.4,253.2) scale(0.9091,1)" font-size="9.68" fill="#222" stroke="#222" stroke-width="0.25" text-anchor="middle" >680</text>
<line x1="277.95" y1="238.7" x2="277.95" y2="241.2" stroke="#222" stroke-width="1" />
<line x1="311.5" y1="238.7" x2="311.5" y2="242.7" stroke="#222" stroke-width="1" />
<text transform="translate(311.5,253.2) scale(0.9091,1)" font-size="9.68" fill="#222" stroke="#222" stroke-width="0.25" text-anchor="middle" >780</text>
<text transform="translate(177.7,270.5) scale(0.9091,1)" font-size="12.1" fill="#222" stroke="#222" stroke-width="0.25" text-anchor="middle" >Wavelength (nm)</text>
<text transform="translate(11,124) rotate(-90)" font-size="11" fill="#222" stroke="#222" stroke-width="0.25" text-anchor="middle">Normalized intensity (a.u.)</text>
<text transform="translate(2.3,13) scale(0.9091,1)" font-size="11.55" fill="#222" stroke="#222" stroke-width="0.25" text-anchor="start" >(a)</text>
<rect x="244.4" y="22.7" width="66.5" height="49.7" fill="#fff" stroke="#555" stroke-width="0.8"/>
<line x1="244.8" y1="72.6" x2="311" y2="72.6" stroke="#333" stroke-width="1.4" />
<line x1="245" y1="28.2" x2="264" y2="28.2" stroke="#ff2020" stroke-width="1.5" />
<text transform="translate(266.3,31.1) scale(0.9091,1)" font-size="8.97" fill="#ff2020" stroke="#ff2020" stroke-width="0.25" text-anchor="start" >Red</text>
<line x1="245" y1="37.7" x2="264" y2="37.7" stroke="#22e822" stroke-width="1.5" />
<text transform="translate(266.3,40.6) scale(0.9091,1)" font-size="8.97" fill="#22e822" stroke="#22e822" stroke-width="0.25" text-anchor="start" >Green</text>
<line x1="245" y1="47.2" x2="264" y2="47.2" stroke="#2020ff" stroke-width="1.5" />
<text transform="translate(266.3,50.1) scale(0.9091,1)" font-size="8.97" fill="#2020ff" stroke="#2020ff" stroke-width="0.25" text-anchor="start" >Blue</text>
<line x1="245" y1="56.7" x2="264" y2="56.7" stroke="#f08a20" stroke-width="1.5" />
<text transform="translate(266.3,59.6) scale(0.9091,1)" font-size="8.97" fill="#f08a20" stroke="#f08a20" stroke-width="0.25" text-anchor="start" >Warm white</text>
<line x1="245" y1="66.2" x2="264" y2="66.2" stroke="#222" stroke-width="1.5" />
<text transform="translate(266.3,69.1) scale(0.9091,1)" font-size="8.97" fill="#222" stroke="#222" stroke-width="0.25" text-anchor="start" >Cool white</text>
<text transform="translate(49.3,10.4) scale(0.9091,1)" font-size="10.12" fill="#111" stroke="#111" stroke-width="0.25" text-anchor="start" >452nm</text>
<line x1="77.5" y1="10.8" x2="90" y2="21.3" stroke="#111" stroke-width="0.9" />
<path d="M90,21.3 L84.63,19.14 L86.95,16.38 Z" fill="#111"/>
<text transform="translate(85.3,10.4) scale(0.9091,1)" font-size="10.12" fill="#2020ff" stroke="#2020ff" stroke-width="0.25" text-anchor="start" >454nm</text>
<line x1="99.2" y1="11.8" x2="94.3" y2="21.3" stroke="#2020ff" stroke-width="0.9" />
<path d="M94.3,21.3 L95.22,15.59 L98.42,17.24 Z" fill="#2020ff"/>
<text transform="translate(119.1,10.4) scale(0.9091,1)" font-size="10.12" fill="#1ee81e" stroke="#1ee81e" stroke-width="0.25" text-anchor="start" >513nm</text>
<line x1="132.3" y1="12" x2="132.3" y2="21.3" stroke="#1ee81e" stroke-width="0.9" />
<path d="M132.3,21.3 L130.5,15.8 L134.1,15.8 Z" fill="#1ee81e"/>
<text transform="translate(160.9,10.4) scale(0.9091,1)" font-size="10.12" fill="#f08418" stroke="#f08418" stroke-width="0.25" text-anchor="start" >606nm</text>
<line x1="188.2" y1="11.8" x2="194" y2="21" stroke="#f08418" stroke-width="0.9" />
<path d="M194,21 L189.54,17.31 L192.59,15.39 Z" fill="#f08418"/>
<text transform="translate(198.8,10.4) scale(0.9091,1)" font-size="10.12" fill="#ff2020" stroke="#ff2020" stroke-width="0.25" text-anchor="start" >632nm</text>
<line x1="212.4" y1="12" x2="212.4" y2="21" stroke="#ff2020" stroke-width="0.9" />
<path d="M212.4,21 L210.6,15.5 L214.2,15.5 Z" fill="#ff2020"/>
<rect x="63.8" y="126.6" width="29.6" height="10.2" fill="#fff"/>
<text transform="translate(64.6,134.8) scale(0.9091,1)" font-size="10.12" fill="#f08418" stroke="#f08418" stroke-width="0.25" text-anchor="start" >454nm</text>
<line x1="78" y1="137" x2="91.5" y2="146" stroke="#f08418" stroke-width="0.8" />
<path d="M91.5,146 L85.93,144.45 L87.92,141.45 Z" fill="#f08418"/>
<rect x="158.3" y="120.2" width="28.6" height="10.2" fill="#fff"/>
<text transform="translate(159.1,128.4) scale(0.9091,1)" font-size="10.12" fill="#111" stroke="#111" stroke-width="0.25" text-anchor="start" >532nm</text>
<line x1="163" y1="131" x2="150.5" y2="139.5" stroke="#111" stroke-width="0.8" />
<path d="M150.5,139.5 L154.04,134.92 L156.06,137.9 Z" fill="#111"/>
<line x1="372.6" y1="21.4" x2="643.6" y2="21.4" stroke="#555" stroke-width="1.3" />
<line x1="372.1" y1="239.4" x2="644.1" y2="239.4" stroke="#222" stroke-width="1.1" />
<line x1="372.6" y1="20.9" x2="372.6" y2="243.4" stroke="#ff2a2a" stroke-width="1.1" />
<line x1="643.6" y1="20.9" x2="643.6" y2="239.4" stroke="#6464ff" stroke-width="1.2" />
<line x1="368.6" y1="239.4" x2="372.6" y2="239.4" stroke="#ff2a2a" stroke-width="1" />
<text transform="translate(365.2,242.2) scale(0.9091,1)" font-size="9.9" fill="#ff2a2a" stroke="#ff2a2a" stroke-width="0.25" text-anchor="end" >0</text>
<line x1="370.1" y1="227.29" x2="372.6" y2="227.29" stroke="#ff2a2a" stroke-width="1" />
<line x1="368.6" y1="215.18" x2="372.6" y2="215.18" stroke="#ff2a2a" stroke-width="1" />
<text transform="translate(365.2,217.98) scale(0.9091,1)" font-size="9.9" fill="#ff2a2a" stroke="#ff2a2a" stroke-width="0.25" text-anchor="end" >100</text>
<line x1="370.1" y1="203.07" x2="372.6" y2="203.07" stroke="#ff2a2a" stroke-width="1" />
<line x1="368.6" y1="190.96" x2="372.6" y2="190.96" stroke="#ff2a2a" stroke-width="1" />
<text transform="translate(365.2,193.76) scale(0.9091,1)" font-size="9.9" fill="#ff2a2a" stroke="#ff2a2a" stroke-width="0.25" text-anchor="end" >200</text>
<line x1="370.1" y1="178.84" x2="372.6" y2="178.84" stroke="#ff2a2a" stroke-width="1" />
<line x1="368.6" y1="166.73" x2="372.6" y2="166.73" stroke="#ff2a2a" stroke-width="1" />
<text transform="translate(365.2,169.53) scale(0.9091,1)" font-size="9.9" fill="#ff2a2a" stroke="#ff2a2a" stroke-width="0.25" text-anchor="end" >300</text>
<line x1="370.1" y1="154.62" x2="372.6" y2="154.62" stroke="#ff2a2a" stroke-width="1" />
<line x1="368.6" y1="142.51" x2="372.6" y2="142.51" stroke="#ff2a2a" stroke-width="1" />
<text transform="translate(365.2,145.31) scale(0.9091,1)" font-size="9.9" fill="#ff2a2a" stroke="#ff2a2a" stroke-width="0.25" text-anchor="end" >400</text>
<line x1="370.1" y1="130.4" x2="372.6" y2="130.4" stroke="#ff2a2a" stroke-width="1" />
<line x1="368.6" y1="118.29" x2="372.6" y2="118.29" stroke="#ff2a2a" stroke-width="1" />
<text transform="translate(365.2,121.09) scale(0.9091,1)" font-size="9.9" fill="#ff2a2a" stroke="#ff2a2a" stroke-width="0.25" text-anchor="end" >500</text>
<line x1="370.1" y1="106.18" x2="372.6" y2="106.18" stroke="#ff2a2a" stroke-width="1" />
<line x1="368.6" y1="94.07" x2="372.6" y2="94.07" stroke="#ff2a2a" stroke-width="1" />
<text transform="translate(365.2,96.87) scale(0.9091,1)" font-size="9.9" fill="#ff2a2a" stroke="#ff2a2a" stroke-width="0.25" text-anchor="end" >600</text>
<line x1="370.1" y1="81.96" x2="372.6" y2="81.96" stroke="#ff2a2a" stroke-width="1" />
<line x1="368.6" y1="69.84" x2="372.6" y2="69.84" stroke="#ff2a2a" stroke-width="1" />
<text transform="translate(365.2,72.64) scale(0.9091,1)" font-size="9.9" fill="#ff2a2a" stroke="#ff2a2a" stroke-width="0.25" text-anchor="end" >700</text>
<line x1="370.1" y1="57.73" x2="372.6" y2="57.73" stroke="#ff2a2a" stroke-width="1" />
<line x1="368.6" y1="45.62" x2="372.6" y2="45.62" stroke="#ff2a2a" stroke-width="1" />
<text transform="translate(365.2,48.42) scale(0.9091,1)" font-size="9.9" fill="#ff2a2a" stroke="#ff2a2a" stroke-width="0.25" text-anchor="end" >800</text>
<line x1="370.1" y1="33.51" x2="372.6" y2="33.51" stroke="#ff2a2a" stroke-width="1" />
<line x1="368.6" y1="21.4" x2="372.6" y2="21.4" stroke="#ff2a2a" stroke-width="1" />
<text transform="translate(365.2,24.2) scale(0.9091,1)" font-size="9.9" fill="#ff2a2a" stroke="#ff2a2a" stroke-width="0.25" text-anchor="end" >900</text>
<line x1="639.6" y1="239.4" x2="643.6" y2="239.4" stroke="#6464ff" stroke-width="1" />
<text transform="translate(648.8,242.1) scale(0.9091,1)" font-size="9.9" fill="#2a2aff" stroke="#2a2aff" stroke-width="0.25" text-anchor="start" >2000</text>
<line x1="641.1" y1="221.23" x2="643.6" y2="221.23" stroke="#6464ff" stroke-width="1" />
<line x1="639.6" y1="203.07" x2="643.6" y2="203.07" stroke="#6464ff" stroke-width="1" />
<text transform="translate(648.8,205.77) scale(0.9091,1)" font-size="9.9" fill="#2a2aff" stroke="#2a2aff" stroke-width="0.25" text-anchor="start" >3000</text>
<line x1="641.1" y1="184.9" x2="643.6" y2="184.9" stroke="#6464ff" stroke-width="1" />
<line x1="639.6" y1="166.73" x2="643.6" y2="166.73" stroke="#6464ff" stroke-width="1" />
<text transform="translate(648.8,169.43) scale(0.9091,1)" font-size="9.9" fill="#2a2aff" stroke="#2a2aff" stroke-width="0.25" text-anchor="start" >4000</text>
<line x1="641.1" y1="148.57" x2="643.6" y2="148.57" stroke="#6464ff" stroke-width="1" />
<line x1="639.6" y1="130.4" x2="643.6" y2="130.4" stroke="#6464ff" stroke-width="1" />
<text transform="translate(648.8,133.1) scale(0.9091,1)" font-size="9.9" fill="#2a2aff" stroke="#2a2aff" stroke-width="0.25" text-anchor="start" >5000</text>
<line x1="641.1" y1="112.23" x2="643.6" y2="112.23" stroke="#6464ff" stroke-width="1" />
<line x1="639.6" y1="94.07" x2="643.6" y2="94.07" stroke="#6464ff" stroke-width="1" />
<text transform="translate(648.8,96.77) scale(0.9091,1)" font-size="9.9" fill="#2a2aff" stroke="#2a2aff" stroke-width="0.25" text-anchor="start" >6000</text>
<line x1="641.1" y1="75.9" x2="643.6" y2="75.9" stroke="#6464ff" stroke-width="1" />
<line x1="639.6" y1="57.73" x2="643.6" y2="57.73" stroke="#6464ff" stroke-width="1" />
<text transform="translate(648.8,60.43) scale(0.9091,1)" font-size="9.9" fill="#2a2aff" stroke="#2a2aff" stroke-width="0.25" text-anchor="start" >7000</text>
<line x1="641.1" y1="39.57" x2="643.6" y2="39.57" stroke="#6464ff" stroke-width="1" />
<line x1="639.6" y1="21.4" x2="643.6" y2="21.4" stroke="#6464ff" stroke-width="1" />
<text transform="translate(648.8,24.1) scale(0.9091,1)" font-size="9.9" fill="#2a2aff" stroke="#2a2aff" stroke-width="0.25" text-anchor="start" >8000</text>
<line x1="372.6" y1="239.4" x2="372.6" y2="243.4" stroke="#222" stroke-width="1" />
<text transform="translate(372.6,253.6) scale(0.9091,1)" font-size="9.9" fill="#222" stroke="#222" stroke-width="0.25" text-anchor="middle" >0</text>
<line x1="383.89" y1="239.4" x2="383.89" y2="241.9" stroke="#222" stroke-width="1" />
<line x1="395.18" y1="239.4" x2="395.18" y2="243.4" stroke="#222" stroke-width="1" />
<text transform="translate(395.18,253.6) scale(0.9091,1)" font-size="9.9" fill="#222" stroke="#222" stroke-width="0.25" text-anchor="middle" >2</text>
<line x1="406.48" y1="239.4" x2="406.48" y2="241.9" stroke="#222" stroke-width="1" />
<line x1="417.77" y1="239.4" x2="417.77" y2="243.4" stroke="#222" stroke-width="1" />
<text transform="translate(417.77,253.6) scale(0.9091,1)" font-size="9.9" fill="#222" stroke="#222" stroke-width="0.25" text-anchor="middle" >4</text>
<line x1="429.06" y1="239.4" x2="429.06" y2="241.9" stroke="#222" stroke-width="1" />
<line x1="440.35" y1="239.4" x2="440.35" y2="243.4" stroke="#222" stroke-width="1" />
<text transform="translate(440.35,253.6) scale(0.9091,1)" font-size="9.9" fill="#222" stroke="#222" stroke-width="0.25" text-anchor="middle" >6</text>
<line x1="451.64" y1="239.4" x2="451.64" y2="241.9" stroke="#222" stroke-width="1" />
<line x1="462.93" y1="239.4" x2="462.93" y2="243.4" stroke="#222" stroke-width="1" />
<text transform="translate(462.93,253.6) scale(0.9091,1)" font-size="9.9" fill="#222" stroke="#222" stroke-width="0.25" text-anchor="middle" >8</text>
<line x1="474.23" y1="239.4" x2="474.23" y2="241.9" stroke="#222" stroke-width="1" />
<line x1="485.52" y1="239.4" x2="485.52" y2="243.4" stroke="#222" stroke-width="1" />
<text transform="translate(485.52,253.6) scale(0.9091,1)" font-size="9.9" fill="#222" stroke="#222" stroke-width="0.25" text-anchor="middle" >10</text>
<line x1="496.81" y1="239.4" x2="496.81" y2="241.9" stroke="#222" stroke-width="1" />
<line x1="508.1" y1="239.4" x2="508.1" y2="243.4" stroke="#222" stroke-width="1" />
<text transform="translate(508.1,253.6) scale(0.9091,1)" font-size="9.9" fill="#222" stroke="#222" stroke-width="0.25" text-anchor="middle" >12</text>
<line x1="519.39" y1="239.4" x2="519.39" y2="241.9" stroke="#222" stroke-width="1" />
<line x1="530.68" y1="239.4" x2="530.68" y2="243.4" stroke="#222" stroke-width="1" />
<text transform="translate(530.68,253.6) scale(0.9091,1)" font-size="9.9" fill="#222" stroke="#222" stroke-width="0.25" text-anchor="middle" >14</text>
<line x1="541.98" y1="239.4" x2="541.98" y2="241.9" stroke="#222" stroke-width="1" />
<line x1="553.27" y1="239.4" x2="553.27" y2="243.4" stroke="#222" stroke-width="1" />
<text transform="translate(553.27,253.6) scale(0.9091,1)" font-size="9.9" fill="#222" stroke="#222" stroke-width="0.25" text-anchor="middle" >16</text>
<line x1="564.56" y1="239.4" x2="564.56" y2="241.9" stroke="#222" stroke-width="1" />
<line x1="575.85" y1="239.4" x2="575.85" y2="243.4" stroke="#222" stroke-width="1" />
<text transform="translate(575.85,253.6) scale(0.9091,1)" font-size="9.9" fill="#222" stroke="#222" stroke-width="0.25" text-anchor="middle" >18</text>
<line x1="587.14" y1="239.4" x2="587.14" y2="241.9" stroke="#222" stroke-width="1" />
<line x1="598.43" y1="239.4" x2="598.43" y2="243.4" stroke="#222" stroke-width="1" />
<text transform="translate(598.43,253.6) scale(0.9091,1)" font-size="9.9" fill="#222" stroke="#222" stroke-width="0.25" text-anchor="middle" >20</text>
<line x1="609.73" y1="239.4" x2="609.73" y2="241.9" stroke="#222" stroke-width="1" />
<line x1="621.02" y1="239.4" x2="621.02" y2="243.4" stroke="#222" stroke-width="1" />
<text transform="translate(621.02,253.6) scale(0.9091,1)" font-size="9.9" fill="#222" stroke="#222" stroke-width="0.25" text-anchor="middle" >22</text>
<line x1="632.31" y1="239.4" x2="632.31" y2="241.9" stroke="#222" stroke-width="1" />
<line x1="643.6" y1="239.4" x2="643.6" y2="243.4" stroke="#222" stroke-width="1" />
<text transform="translate(643.6,253.6) scale(0.9091,1)" font-size="9.9" fill="#222" stroke="#222" stroke-width="0.25" text-anchor="middle" >24</text>
<text transform="translate(508.6,271) scale(0.9091,1)" font-size="12.32" fill="#222" stroke="#222" stroke-width="0.25" text-anchor="middle" >Time (hour)</text>
<text transform="translate(345.8,129.9) rotate(-90)" font-size="11.8" fill="#ff2a2a" stroke="#ff2a2a" stroke-width="0.25" text-anchor="middle">Illuminance (lx)</text>
<text transform="translate(682.3,130.0) rotate(-90)" font-size="11.4" fill="#2a2aff" stroke="#2a2aff" stroke-width="0.25" text-anchor="middle">CCT (K)</text>
<text transform="translate(330.9,18.5) scale(0.9091,1)" font-size="12.65" fill="#222" stroke="#222" stroke-width="0.25" text-anchor="start" >(b)</text>
<line x1="372.6" y1="188.9" x2="434.93" y2="188.9" stroke="#ff2a2a" stroke-width="2.2"/>
<line x1="372.6" y1="214.62" x2="434.93" y2="214.62" stroke="#2a2aff" stroke-width="2.2"/>
<line x1="596.18" y1="188.9" x2="643.6" y2="188.9" stroke="#ff2a2a" stroke-width="2.2"/>
<line x1="599.56" y1="214.62" x2="643.6" y2="214.62" stroke="#2a2aff" stroke-width="2.2"/>
<g fill="#ff2a2a"><circle cx="435.27" cy="177.25" r="1.45"/><circle cx="436.34" cy="173.72" r="1.45"/><circle cx="437.42" cy="169.82" r="1.45"/><circle cx="438.49" cy="167.52" r="1.45"/><circle cx="439.57" cy="161.88" r="1.45"/><circle cx="440.65" cy="155.85" r="1.45"/><circle cx="441.72" cy="150.63" r="1.45"/><circle cx="442.8" cy="147.74" r="1.45"/><circle cx="443.87" cy="144.02" r="1.45"/><circle cx="444.95" cy="140.34" r="1.45"/><circle cx="446.02" cy="136.83" r="1.45"/><circle cx="447.1" cy="131.27" r="1.45"/><circle cx="448.17" cy="127.32" r="1.45"/><circle cx="449.25" cy="122.6" r="1.45"/><circle cx="450.32" cy="119.21" r="1.45"/><circle cx="451.4" cy="115.6" r="1.45"/><circle cx="452.48" cy="113.04" r="1.45"/><circle cx="453.55" cy="111.51" r="1.45"/><circle cx="454.63" cy="108.17" r="1.45"/><circle cx="455.7" cy="109.13" r="1.45"/><circle cx="456.78" cy="108.92" r="1.45"/><circle cx="457.85" cy="108.22" r="1.45"/><circle cx="458.93" cy="105.1" r="1.45"/><circle cx="460" cy="106.71" r="1.45"/><circle cx="461.08" cy="107.72" r="1.45"/><circle cx="462.15" cy="105.82" r="1.45"/><circle cx="463.23" cy="102.43" r="1.45"/><circle cx="464.3" cy="102.85" r="1.45"/><circle cx="465.38" cy="103.05" r="1.45"/><circle cx="466.46" cy="101.31" r="1.45"/><circle cx="467.53" cy="98.79" r="1.45"/><circle cx="468.61" cy="95.75" r="1.45"/><circle cx="469.68" cy="100.17" r="1.45"/><circle cx="470.76" cy="98.06" r="1.45"/><circle cx="471.83" cy="97.29" r="1.45"/><circle cx="472.91" cy="98.99" r="1.45"/><circle cx="473.98" cy="95.49" r="1.45"/><circle cx="475.06" cy="94.79" r="1.45"/><circle cx="476.13" cy="90.42" r="1.45"/><circle cx="477.21" cy="91.96" r="1.45"/><circle cx="478.28" cy="93.9" r="1.45"/><circle cx="479.36" cy="89.49" r="1.45"/><circle cx="480.44" cy="90.68" r="1.45"/><circle cx="481.51" cy="92.6" r="1.45"/><circle cx="482.59" cy="90.3" r="1.45"/><circle cx="483.66" cy="90.06" r="1.45"/><circle cx="484.74" cy="90.44" r="1.45"/><circle cx="485.81" cy="88.84" r="1.45"/><circle cx="486.89" cy="92.65" r="1.45"/><circle cx="487.96" cy="89.25" r="1.45"/><circle cx="489.04" cy="87.05" r="1.45"/><circle cx="490.11" cy="87.3" r="1.45"/><circle cx="491.19" cy="86.86" r="1.45"/><circle cx="492.26" cy="86.87" r="1.45"/><circle cx="493.34" cy="86.31" r="1.45"/><circle cx="494.42" cy="90.83" r="1.45"/><circle cx="495.49" cy="87.62" r="1.45"/><circle cx="496.57" cy="92.35" r="1.45"/><circle cx="497.64" cy="90.43" r="1.45"/><circle cx="498.72" cy="93.02" r="1.45"/><circle cx="499.79" cy="88.38" r="1.45"/><circle cx="500.87" cy="88.14" r="1.45"/><circle cx="501.94" cy="90.55" r="1.45"/><circle cx="503.02" cy="85.98" r="1.45"/><circle cx="504.09" cy="88.32" r="1.45"/><circle cx="505.17" cy="85.07" r="1.45"/><circle cx="506.24" cy="83.61" r="1.45"/><circle cx="507.32" cy="84.17" r="1.45"/><circle cx="508.4" cy="80.17" r="1.45"/><circle cx="509.47" cy="76.57" r="1.45"/><circle cx="510.55" cy="81.28" r="1.45"/><circle cx="511.62" cy="78.18" r="1.45"/><circle cx="512.7" cy="80.31" r="1.45"/><circle cx="513.77" cy="77.43" r="1.45"/><circle cx="514.85" cy="79.92" r="1.45"/><circle cx="515.92" cy="79.81" r="1.45"/><circle cx="517" cy="80.07" r="1.45"/><circle cx="518.07" cy="80.92" r="1.45"/><circle cx="519.15" cy="83.89" r="1.45"/><circle cx="520.23" cy="79.35" r="1.45"/><circle cx="521.3" cy="84.22" r="1.45"/><circle cx="522.38" cy="81.68" r="1.45"/><circle cx="523.45" cy="81.23" r="1.45"/><circle cx="524.53" cy="83.87" r="1.45"/><circle cx="525.6" cy="82.38" r="1.45"/><circle cx="526.68" cy="80.83" r="1.45"/><circle cx="527.75" cy="83.05" r="1.45"/><circle cx="528.83" cy="84.72" r="1.45"/><circle cx="529.9" cy="88.38" r="1.45"/><circle cx="530.98" cy="85.33" r="1.45"/><circle cx="532.05" cy="84.96" r="1.45"/><circle cx="533.13" cy="85.17" r="1.45"/><circle cx="534.21" cy="86.31" r="1.45"/><circle cx="535.28" cy="84.48" r="1.45"/><circle cx="536.36" cy="86.57" r="1.45"/><circle cx="537.43" cy="86.28" r="1.45"/><circle cx="538.51" cy="85.46" r="1.45"/><circle cx="539.58" cy="88.58" r="1.45"/><circle cx="540.66" cy="88.15" r="1.45"/><circle cx="541.73" cy="84.48" r="1.45"/><circle cx="542.81" cy="87.14" r="1.45"/><circle cx="543.88" cy="91.29" r="1.45"/><circle cx="544.96" cy="89.7" r="1.45"/><circle cx="546.03" cy="89.08" r="1.45"/><circle cx="547.11" cy="88.42" r="1.45"/><circle cx="548.19" cy="90.75" r="1.45"/><circle cx="549.26" cy="92.41" r="1.45"/><circle cx="550.34" cy="93.27" r="1.45"/><circle cx="551.41" cy="91.48" r="1.45"/><circle cx="552.49" cy="92.62" r="1.45"/><circle cx="553.56" cy="94.63" r="1.45"/><circle cx="554.64" cy="94.73" r="1.45"/><circle cx="555.71" cy="95.83" r="1.45"/><circle cx="556.79" cy="94.65" r="1.45"/><circle cx="557.86" cy="97.84" r="1.45"/><circle cx="558.94" cy="96.65" r="1.45"/><circle cx="560.01" cy="96.85" r="1.45"/><circle cx="561.09" cy="98.29" r="1.45"/><circle cx="562.17" cy="101.34" r="1.45"/><circle cx="563.24" cy="98.43" r="1.45"/><circle cx="564.32" cy="102.6" r="1.45"/><circle cx="565.39" cy="101.39" r="1.45"/><circle cx="566.47" cy="104.02" r="1.45"/><circle cx="567.54" cy="106.32" r="1.45"/><circle cx="568.62" cy="103.65" r="1.45"/><circle cx="569.69" cy="104.3" r="1.45"/><circle cx="570.77" cy="105.72" r="1.45"/><circle cx="571.84" cy="106.5" r="1.45"/><circle cx="572.92" cy="108.46" r="1.45"/><circle cx="573.99" cy="110.42" r="1.45"/><circle cx="575.07" cy="112.55" r="1.45"/><circle cx="576.15" cy="114.31" r="1.45"/><circle cx="577.22" cy="120.46" r="1.45"/><circle cx="578.3" cy="126.75" r="1.45"/><circle cx="579.37" cy="130.42" r="1.45"/><circle cx="580.45" cy="135.34" r="1.45"/><circle cx="581.52" cy="139.31" r="1.45"/><circle cx="582.6" cy="142.26" r="1.45"/><circle cx="583.67" cy="146.99" r="1.45"/><circle cx="584.75" cy="151.18" r="1.45"/><circle cx="585.82" cy="153.41" r="1.45"/><circle cx="586.9" cy="155.07" r="1.45"/><circle cx="587.98" cy="157.28" r="1.45"/><circle cx="589.05" cy="158.85" r="1.45"/><circle cx="590.13" cy="163.04" r="1.45"/><circle cx="591.2" cy="165.47" r="1.45"/><circle cx="592.28" cy="170.2" r="1.45"/><circle cx="593.35" cy="176.04" r="1.45"/></g>
<g fill="#2a2aff"><rect x="434.99" y="191.16" width="2.7" height="2.7"/><rect x="436.07" y="185.09" width="2.7" height="2.7"/><rect x="437.14" y="179.9" width="2.7" height="2.7"/><rect x="438.22" y="171.31" width="2.7" height="2.7"/><rect x="439.3" y="165.18" width="2.7" height="2.7"/><rect x="440.37" y="157.37" width="2.7" height="2.7"/><rect x="441.45" y="151.39" width="2.7" height="2.7"/><rect x="442.52" y="146.64" width="2.7" height="2.7"/><rect x="443.6" y="142.9" width="2.7" height="2.7"/><rect x="444.67" y="137.69" width="2.7" height="2.7"/><rect x="445.75" y="132.76" width="2.7" height="2.7"/><rect x="446.82" y="127.07" width="2.7" height="2.7"/><rect x="447.9" y="122.78" width="2.7" height="2.7"/><rect x="448.97" y="116.89" width="2.7" height="2.7"/><rect x="450.05" y="112.05" width="2.7" height="2.7"/><rect x="451.13" y="108.19" width="2.7" height="2.7"/><rect x="452.2" y="101.87" width="2.7" height="2.7"/><rect x="453.28" y="99.62" width="2.7" height="2.7"/><rect x="454.35" y="97.24" width="2.7" height="2.7"/><rect x="455.43" y="92.96" width="2.7" height="2.7"/><rect x="456.5" y="92.45" width="2.7" height="2.7"/><rect x="457.58" y="88.63" width="2.7" height="2.7"/><rect x="458.65" y="86.01" width="2.7" height="2.7"/><rect x="459.73" y="85.68" width="2.7" height="2.7"/><rect x="460.8" y="83.52" width="2.7" height="2.7"/><rect x="461.88" y="81.73" width="2.7" height="2.7"/><rect x="462.95" y="79.35" width="2.7" height="2.7"/><rect x="464.03" y="79.09" width="2.7" height="2.7"/><rect x="465.11" y="76.83" width="2.7" height="2.7"/><rect x="466.18" y="73.87" width="2.7" height="2.7"/><rect x="467.26" y="70.88" width="2.7" height="2.7"/><rect x="468.33" y="69.69" width="2.7" height="2.7"/><rect x="469.41" y="66.88" width="2.7" height="2.7"/><rect x="470.48" y="66.33" width="2.7" height="2.7"/><rect x="471.56" y="66" width="2.7" height="2.7"/><rect x="472.63" y="64.08" width="2.7" height="2.7"/><rect x="473.71" y="64.92" width="2.7" height="2.7"/><rect x="474.78" y="62.89" width="2.7" height="2.7"/><rect x="475.86" y="62.38" width="2.7" height="2.7"/><rect x="476.93" y="60.52" width="2.7" height="2.7"/><rect x="478.01" y="59.74" width="2.7" height="2.7"/><rect x="479.09" y="60.73" width="2.7" height="2.7"/><rect x="480.16" y="60.45" width="2.7" height="2.7"/><rect x="481.24" y="61.15" width="2.7" height="2.7"/><rect x="482.31" y="59.21" width="2.7" height="2.7"/><rect x="483.39" y="58.3" width="2.7" height="2.7"/><rect x="484.46" y="57.49" width="2.7" height="2.7"/><rect x="485.54" y="58.16" width="2.7" height="2.7"/><rect x="486.61" y="54.42" width="2.7" height="2.7"/><rect x="487.69" y="54.52" width="2.7" height="2.7"/><rect x="488.76" y="55.15" width="2.7" height="2.7"/><rect x="489.84" y="54.83" width="2.7" height="2.7"/><rect x="490.91" y="53.85" width="2.7" height="2.7"/><rect x="491.99" y="52.56" width="2.7" height="2.7"/><rect x="493.07" y="51.92" width="2.7" height="2.7"/><rect x="494.14" y="50.54" width="2.7" height="2.7"/><rect x="495.22" y="49.39" width="2.7" height="2.7"/><rect x="496.29" y="47.92" width="2.7" height="2.7"/><rect x="497.37" y="47.38" width="2.7" height="2.7"/><rect x="498.44" y="48.04" width="2.7" height="2.7"/><rect x="499.52" y="46.86" width="2.7" height="2.7"/><rect x="500.59" y="47.04" width="2.7" height="2.7"/><rect x="501.67" y="46.6" width="2.7" height="2.7"/><rect x="502.74" y="43.31" width="2.7" height="2.7"/><rect x="503.82" y="45.55" width="2.7" height="2.7"/><rect x="504.89" y="42.82" width="2.7" height="2.7"/><rect x="505.97" y="45.49" width="2.7" height="2.7"/><rect x="507.05" y="45.06" width="2.7" height="2.7"/><rect x="508.12" y="44.45" width="2.7" height="2.7"/><rect x="509.2" y="45.96" width="2.7" height="2.7"/><rect x="510.27" y="45.91" width="2.7" height="2.7"/><rect x="511.35" y="46.93" width="2.7" height="2.7"/><rect x="512.42" y="47.46" width="2.7" height="2.7"/><rect x="513.5" y="47.34" width="2.7" height="2.7"/><rect x="514.57" y="48.07" width="2.7" height="2.7"/><rect x="515.65" y="45.77" width="2.7" height="2.7"/><rect x="516.72" y="47.93" width="2.7" height="2.7"/><rect x="517.8" y="46.07" width="2.7" height="2.7"/><rect x="518.88" y="51.11" width="2.7" height="2.7"/><rect x="519.95" y="48.43" width="2.7" height="2.7"/><rect x="521.03" y="48.21" width="2.7" height="2.7"/><rect x="522.1" y="49.63" width="2.7" height="2.7"/><rect x="523.18" y="48.67" width="2.7" height="2.7"/><rect x="524.25" y="49.76" width="2.7" height="2.7"/><rect x="525.33" y="51.34" width="2.7" height="2.7"/><rect x="526.4" y="51.12" width="2.7" height="2.7"/><rect x="527.48" y="49.02" width="2.7" height="2.7"/><rect x="528.55" y="52.18" width="2.7" height="2.7"/><rect x="529.63" y="52.36" width="2.7" height="2.7"/><rect x="530.7" y="53.22" width="2.7" height="2.7"/><rect x="531.78" y="52.23" width="2.7" height="2.7"/><rect x="532.86" y="53.07" width="2.7" height="2.7"/><rect x="533.93" y="51.05" width="2.7" height="2.7"/><rect x="535.01" y="47.38" width="2.7" height="2.7"/><rect x="536.08" y="48.4" width="2.7" height="2.7"/><rect x="537.16" y="48.87" width="2.7" height="2.7"/><rect x="538.23" y="49.09" width="2.7" height="2.7"/><rect x="539.31" y="49.53" width="2.7" height="2.7"/><rect x="540.38" y="52.54" width="2.7" height="2.7"/><rect x="541.46" y="52.64" width="2.7" height="2.7"/><rect x="542.53" y="55.31" width="2.7" height="2.7"/><rect x="543.61" y="57.63" width="2.7" height="2.7"/><rect x="544.68" y="57.26" width="2.7" height="2.7"/><rect x="545.76" y="63.04" width="2.7" height="2.7"/><rect x="546.84" y="62.43" width="2.7" height="2.7"/><rect x="547.91" y="62.86" width="2.7" height="2.7"/><rect x="548.99" y="65.48" width="2.7" height="2.7"/><rect x="550.06" y="66" width="2.7" height="2.7"/><rect x="551.14" y="67.86" width="2.7" height="2.7"/><rect x="552.21" y="69.21" width="2.7" height="2.7"/><rect x="553.29" y="66.84" width="2.7" height="2.7"/><rect x="554.36" y="70.4" width="2.7" height="2.7"/><rect x="555.44" y="72.43" width="2.7" height="2.7"/><rect x="556.51" y="72.23" width="2.7" height="2.7"/><rect x="557.59" y="75.25" width="2.7" height="2.7"/><rect x="558.66" y="75.39" width="2.7" height="2.7"/><rect x="559.74" y="77.39" width="2.7" height="2.7"/><rect x="560.82" y="77.44" width="2.7" height="2.7"/><rect x="561.89" y="82.16" width="2.7" height="2.7"/><rect x="562.97" y="81.18" width="2.7" height="2.7"/><rect x="564.04" y="83.33" width="2.7" height="2.7"/><rect x="565.12" y="86.26" width="2.7" height="2.7"/><rect x="566.19" y="85.51" width="2.7" height="2.7"/><rect x="567.27" y="89.48" width="2.7" height="2.7"/><rect x="568.34" y="88.85" width="2.7" height="2.7"/><rect x="569.42" y="92.86" width="2.7" height="2.7"/><rect x="570.49" y="95.92" width="2.7" height="2.7"/><rect x="571.57" y="99.81" width="2.7" height="2.7"/><rect x="572.64" y="103.07" width="2.7" height="2.7"/><rect x="573.72" y="108.35" width="2.7" height="2.7"/><rect x="574.8" y="111.38" width="2.7" height="2.7"/><rect x="575.87" y="116.4" width="2.7" height="2.7"/><rect x="576.95" y="121.79" width="2.7" height="2.7"/><rect x="578.02" y="128.28" width="2.7" height="2.7"/><rect x="579.1" y="133.56" width="2.7" height="2.7"/><rect x="580.17" y="139.77" width="2.7" height="2.7"/><rect x="581.25" y="143.45" width="2.7" height="2.7"/><rect x="582.32" y="148" width="2.7" height="2.7"/><rect x="583.4" y="153.78" width="2.7" height="2.7"/><rect x="584.47" y="157.77" width="2.7" height="2.7"/><rect x="585.55" y="161.43" width="2.7" height="2.7"/><rect x="586.63" y="164.55" width="2.7" height="2.7"/><rect x="587.7" y="167.89" width="2.7" height="2.7"/><rect x="588.78" y="173.29" width="2.7" height="2.7"/><rect x="589.85" y="176.72" width="2.7" height="2.7"/><rect x="590.93" y="180.72" width="2.7" height="2.7"/><rect x="592" y="193.14" width="2.7" height="2.7"/></g>
<rect x="592.35" y="191.17" width="2" height="2" fill="#2a2aff"/>
<rect x="594.61" y="210.79" width="2" height="2" fill="#2a2aff"/>
<rect x="595.74" y="212.97" width="2" height="2" fill="#2a2aff"/>
<circle cx="434.7" cy="181.02" r="2.4" fill="#fff" stroke="#ff2a2a" stroke-width="1.5"/>
<rect x="432.3" y="199.65" width="4.8" height="4.8" fill="#fff" stroke="#2a2aff" stroke-width="1.5"/>
<circle cx="510.7" cy="75.17" r="2.4" fill="#fff" stroke="#ff2a2a" stroke-width="1.5"/>
<rect x="503.44" y="43.92" width="4.8" height="4.8" fill="#fff" stroke="#2a2aff" stroke-width="1.5"/>
<circle cx="594.71" cy="184.66" r="2.4" fill="#fff" stroke="#ff2a2a" stroke-width="1.5"/>
<rect x="592.31" y="207.17" width="4.8" height="4.8" fill="#fff" stroke="#2a2aff" stroke-width="1.5"/>
<text transform="translate(481,39.8) scale(0.9091,1)" font-size="9.02" fill="#2a2aff" stroke="#2a2aff" stroke-width="0.25" text-anchor="start" >11:48, 7314 K</text>
<text transform="translate(488,70.5) scale(0.9091,1)" font-size="9.02" fill="#ff2a2a" stroke="#ff2a2a" stroke-width="0.25" text-anchor="start" >12:14, 678 lx</text>
<text transform="translate(430,183.7) scale(0.9091,1)" font-size="9.02" fill="#ff2a2a" stroke="#ff2a2a" stroke-width="0.25" text-anchor="end" >5:30, 241 lx</text>
<text transform="translate(440,204.9) scale(0.9091,1)" font-size="9.02" fill="#2a2aff" stroke="#2a2aff" stroke-width="0.25" text-anchor="start" >5:30, 3028 K</text>
<text transform="translate(596.9,181.8) scale(0.9091,1)" font-size="9.02" fill="#ff2a2a" stroke="#ff2a2a" stroke-width="0.25" text-anchor="start" >19:40, 226 lx</text>
<text transform="translate(590.2,211.9) scale(0.9091,1)" font-size="9.02" fill="#2a2aff" stroke="#2a2aff" stroke-width="0.25" text-anchor="end" >19:40, 2821 K</text>
<rect x="565.9" y="23.5" width="72.4" height="23.6" fill="#fff" stroke="#555" stroke-width="0.8"/>
<line x1="566.5" y1="47.5" x2="638.8" y2="47.5" stroke="#333" stroke-width="1.3" />
<line x1="638.7" y1="24" x2="638.7" y2="47.8" stroke="#333" stroke-width="1.3" />
<circle cx="577.3" cy="29.6" r="2.2" fill="#ff2a2a"/>
<rect x="575.2" y="38.9" width="4.2" height="4.2" fill="#2a2aff"/>
<text transform="translate(590.8,32.8) scale(0.9091,1)" font-size="9.9" fill="#ff2a2a" stroke="#ff2a2a" stroke-width="0.25" text-anchor="start" >Illuminance</text>
<text transform="translate(590.8,44.3) scale(0.9091,1)" font-size="9.9" fill="#2a2aff" stroke="#2a2aff" stroke-width="0.25" text-anchor="start" >CCT</text>
<g fill="#9494f2"><rect x="52.7" y="374.8" width="0.97" height="140.8"/><rect x="53.62" y="375.96" width="0.97" height="139.64"/><rect x="54.54" y="376.07" width="0.97" height="139.53"/><rect x="55.46" y="377.3" width="0.97" height="138.3"/><rect x="56.38" y="375.8" width="0.97" height="139.8"/><rect x="57.31" y="375.98" width="0.97" height="139.62"/><rect x="58.23" y="376.1" width="0.97" height="139.5"/><rect x="59.15" y="375.62" width="0.97" height="139.98"/><rect x="60.07" y="375.56" width="0.97" height="140.04"/><rect x="60.99" y="376.4" width="0.97" height="139.2"/><rect x="61.91" y="376.3" width="0.97" height="139.3"/><rect x="62.83" y="376.07" width="0.97" height="139.53"/><rect x="63.75" y="375.4" width="0.97" height="140.2"/><rect x="64.68" y="375.48" width="0.97" height="140.12"/><rect x="65.6" y="376.54" width="0.97" height="139.06"/><rect x="66.52" y="376.43" width="0.97" height="139.17"/><rect x="67.44" y="375.38" width="0.97" height="140.22"/><rect x="68.36" y="374.9" width="0.97" height="140.7"/><rect x="69.28" y="375.81" width="0.97" height="139.79"/><rect x="70.2" y="376.18" width="0.97" height="139.42"/><rect x="71.12" y="375.17" width="0.97" height="140.43"/><rect x="72.04" y="375.97" width="0.97" height="139.63"/><rect x="72.97" y="375.38" width="0.97" height="140.22"/><rect x="73.89" y="374.92" width="0.97" height="140.68"/><rect x="74.81" y="375.44" width="0.97" height="140.16"/><rect x="75.73" y="375.75" width="0.97" height="139.85"/><rect x="76.65" y="375.38" width="0.97" height="140.22"/><rect x="77.57" y="376.16" width="0.97" height="139.44"/><rect x="78.49" y="375.9" width="0.97" height="139.7"/><rect x="79.41" y="376.12" width="0.97" height="139.48"/><rect x="80.34" y="375.91" width="0.97" height="139.69"/><rect x="81.26" y="376.07" width="0.97" height="139.53"/><rect x="82.18" y="375.9" width="0.97" height="139.7"/><rect x="83.1" y="376.01" width="0.97" height="139.59"/><rect x="84.02" y="375.75" width="0.97" height="139.85"/><rect x="84.94" y="375.76" width="0.97" height="139.84"/><rect x="85.86" y="375.63" width="0.97" height="139.97"/><rect x="86.78" y="375" width="0.97" height="140.6"/><rect x="87.7" y="376.67" width="0.97" height="138.93"/><rect x="88.63" y="375.06" width="0.97" height="140.54"/><rect x="89.55" y="375.93" width="0.97" height="139.67"/><rect x="90.47" y="376.5" width="0.97" height="139.1"/><rect x="91.39" y="375.89" width="0.97" height="139.71"/><rect x="92.31" y="375.74" width="0.97" height="139.86"/><rect x="93.23" y="375.19" width="0.97" height="140.41"/><rect x="94.15" y="376.4" width="0.97" height="139.2"/><rect x="95.07" y="375.67" width="0.97" height="139.93"/><rect x="96" y="375.73" width="0.97" height="139.87"/><rect x="96.92" y="376.75" width="0.97" height="138.85"/><rect x="97.84" y="376.47" width="0.97" height="139.13"/><rect x="98.76" y="375.45" width="0.97" height="140.15"/><rect x="99.68" y="375.4" width="0.97" height="140.2"/><rect x="100.6" y="375.18" width="0.97" height="140.42"/><rect x="101.52" y="375.49" width="0.97" height="140.11"/><rect x="102.44" y="375.57" width="0.97" height="140.03"/><rect x="103.36" y="375.73" width="0.97" height="139.87"/><rect x="104.29" y="375.11" width="0.97" height="140.49"/><rect x="105.21" y="376.27" width="0.97" height="139.33"/><rect x="106.13" y="375.88" width="0.97" height="139.72"/><rect x="107.05" y="375.58" width="0.97" height="140.02"/><rect x="107.97" y="376.69" width="0.97" height="138.91"/><rect x="108.89" y="375.05" width="0.97" height="140.55"/><rect x="109.81" y="376.25" width="0.97" height="139.35"/><rect x="110.73" y="375.84" width="0.97" height="139.76"/><rect x="111.66" y="374.57" width="0.97" height="141.03"/><rect x="112.58" y="376.27" width="0.97" height="139.33"/><rect x="113.5" y="427.6" width="0.97" height="88"/><rect x="114.42" y="421.92" width="0.97" height="93.68"/><rect x="115.34" y="431.86" width="0.97" height="83.74"/><rect x="116.26" y="424.76" width="0.97" height="90.84"/><rect x="117.18" y="436.12" width="0.97" height="79.48"/><rect x="118.1" y="430.44" width="0.97" height="85.16"/><rect x="119.03" y="440.38" width="0.97" height="75.22"/><rect x="119.95" y="446.05" width="0.97" height="69.55"/><rect x="120.87" y="437.54" width="0.97" height="78.06"/><rect x="121.79" y="430.44" width="0.97" height="85.16"/><rect x="122.71" y="441.79" width="0.97" height="73.81"/><rect x="123.63" y="427.6" width="0.97" height="88"/><rect x="124.55" y="373.67" width="0.97" height="141.93"/><rect x="125.47" y="360.89" width="0.97" height="154.71"/><rect x="126.39" y="430.44" width="0.97" height="85.16"/><rect x="127.32" y="437.08" width="0.97" height="78.52"/><rect x="128.24" y="432.03" width="0.97" height="83.57"/><rect x="129.16" y="433.9" width="0.97" height="81.7"/><rect x="130.08" y="443.72" width="0.97" height="71.88"/><rect x="131" y="450.5" width="0.97" height="65.1"/><rect x="131.92" y="434.67" width="0.97" height="80.93"/><rect x="132.84" y="429.18" width="0.97" height="86.42"/><rect x="133.76" y="442.37" width="0.97" height="73.23"/><rect x="134.69" y="457.54" width="0.97" height="58.06"/><rect x="135.61" y="441.06" width="0.97" height="74.54"/><rect x="136.53" y="443.37" width="0.97" height="72.23"/><rect x="137.45" y="447.68" width="0.97" height="67.92"/><rect x="138.37" y="435.32" width="0.97" height="80.28"/><rect x="139.29" y="438.91" width="0.97" height="76.69"/><rect x="140.21" y="432.32" width="0.97" height="83.28"/><rect x="141.13" y="438.74" width="0.97" height="76.86"/><rect x="142.05" y="450.06" width="0.97" height="65.54"/><rect x="142.98" y="448.65" width="0.97" height="66.95"/><rect x="143.9" y="461.52" width="0.97" height="54.08"/><rect x="144.82" y="437.05" width="0.97" height="78.55"/><rect x="145.74" y="439.38" width="0.97" height="76.22"/><rect x="146.66" y="438.76" width="0.97" height="76.84"/><rect x="147.58" y="445.63" width="0.97" height="69.97"/><rect x="148.5" y="437.04" width="0.97" height="78.56"/><rect x="149.42" y="440.8" width="0.97" height="74.8"/><rect x="150.35" y="439.09" width="0.97" height="76.51"/><rect x="151.27" y="436.89" width="0.97" height="78.71"/><rect x="152.19" y="435.41" width="0.97" height="80.19"/><rect x="153.11" y="445.1" width="0.97" height="70.5"/><rect x="154.03" y="415.61" width="0.97" height="99.99"/><rect x="154.95" y="437.91" width="0.97" height="77.69"/><rect x="155.87" y="442.3" width="0.97" height="73.3"/><rect x="156.79" y="438.79" width="0.97" height="76.81"/><rect x="157.71" y="441.17" width="0.97" height="74.43"/><rect x="158.64" y="430.91" width="0.97" height="84.69"/><rect x="159.56" y="442.38" width="0.97" height="73.22"/><rect x="160.48" y="440.54" width="0.97" height="75.06"/><rect x="161.4" y="437.73" width="0.97" height="77.87"/><rect x="162.32" y="438.88" width="0.97" height="76.72"/><rect x="163.24" y="436.74" width="0.97" height="78.86"/><rect x="164.16" y="438.2" width="0.97" height="77.4"/><rect x="165.08" y="434.34" width="0.97" height="81.26"/><rect x="166.01" y="443.5" width="0.97" height="72.1"/><rect x="166.93" y="446.22" width="0.97" height="69.38"/><rect x="167.85" y="435.14" width="0.97" height="80.46"/><rect x="168.77" y="422.85" width="0.97" height="92.75"/><rect x="169.69" y="473.24" width="0.97" height="42.36"/><rect x="170.61" y="435.95" width="0.97" height="79.65"/><rect x="171.53" y="429.45" width="0.97" height="86.15"/><rect x="172.45" y="439.26" width="0.97" height="76.34"/><rect x="173.37" y="434.43" width="0.97" height="81.17"/><rect x="174.3" y="441.81" width="0.97" height="73.79"/><rect x="175.22" y="442.44" width="0.97" height="73.16"/><rect x="176.14" y="438.1" width="0.97" height="77.5"/><rect x="177.06" y="467.14" width="0.97" height="48.46"/><rect x="177.98" y="435.3" width="0.97" height="80.3"/><rect x="178.9" y="440.95" width="0.97" height="74.65"/><rect x="179.82" y="446.73" width="0.97" height="68.87"/><rect x="180.74" y="458.99" width="0.97" height="56.61"/><rect x="181.67" y="418.29" width="0.97" height="97.31"/><rect x="182.59" y="428.07" width="0.97" height="87.53"/><rect x="183.51" y="442" width="0.97" height="73.6"/><rect x="184.43" y="439.92" width="0.97" height="75.68"/><rect x="185.35" y="441.89" width="0.97" height="73.71"/><rect x="186.27" y="430.96" width="0.97" height="84.64"/><rect x="187.19" y="430.59" width="0.97" height="85.01"/><rect x="188.11" y="429.99" width="0.97" height="85.61"/><rect x="189.03" y="433.07" width="0.97" height="82.53"/><rect x="189.96" y="447.49" width="0.97" height="68.11"/><rect x="190.88" y="447.4" width="0.97" height="68.2"/><rect x="191.8" y="446.1" width="0.97" height="69.5"/><rect x="192.72" y="430.99" width="0.97" height="84.61"/><rect x="193.64" y="439.6" width="0.97" height="76"/><rect x="194.56" y="441.59" width="0.97" height="74.01"/><rect x="195.48" y="437.67" width="0.97" height="77.93"/><rect x="196.4" y="437.32" width="0.97" height="78.28"/><rect x="197.33" y="482.37" width="0.97" height="33.23"/><rect x="198.25" y="434.89" width="0.97" height="80.71"/><rect x="199.17" y="423.8" width="0.97" height="91.8"/><rect x="200.09" y="442.49" width="0.97" height="73.11"/><rect x="201.01" y="442.85" width="0.97" height="72.75"/><rect x="201.93" y="442.79" width="0.97" height="72.81"/><rect x="202.85" y="458.53" width="0.97" height="57.07"/><rect x="203.77" y="413.1" width="0.97" height="102.5"/><rect x="204.69" y="438.67" width="0.97" height="76.93"/><rect x="205.62" y="461.73" width="0.97" height="53.87"/><rect x="206.54" y="437.61" width="0.97" height="77.99"/><rect x="207.46" y="445.04" width="0.97" height="70.56"/><rect x="208.38" y="471.16" width="0.97" height="44.44"/><rect x="209.3" y="433.49" width="0.97" height="82.11"/><rect x="210.22" y="436.09" width="0.97" height="79.51"/><rect x="211.14" y="442.24" width="0.97" height="73.36"/><rect x="212.06" y="438.44" width="0.97" height="77.16"/><rect x="212.99" y="430.81" width="0.97" height="84.79"/><rect x="213.91" y="441.29" width="0.97" height="74.31"/><rect x="214.83" y="411.42" width="0.97" height="104.18"/><rect x="215.75" y="430.82" width="0.97" height="84.78"/><rect x="216.67" y="436" width="0.97" height="79.6"/><rect x="217.59" y="433.03" width="0.97" height="82.57"/><rect x="218.51" y="444.14" width="0.97" height="71.46"/><rect x="219.43" y="448.49" width="0.97" height="67.11"/><rect x="220.35" y="444.99" width="0.97" height="70.61"/><rect x="221.28" y="442.53" width="0.97" height="73.07"/><rect x="222.2" y="438.24" width="0.97" height="77.36"/><rect x="223.12" y="444.13" width="0.97" height="71.47"/><rect x="224.04" y="440.21" width="0.97" height="75.39"/><rect x="224.96" y="436.58" width="0.97" height="79.02"/><rect x="225.88" y="439.39" width="0.97" height="76.21"/><rect x="226.8" y="429.1" width="0.97" height="86.5"/><rect x="227.72" y="472.94" width="0.97" height="42.66"/><rect x="228.65" y="435.52" width="0.97" height="80.08"/><rect x="229.57" y="445.45" width="0.97" height="70.15"/><rect x="230.49" y="475.14" width="0.97" height="40.46"/><rect x="231.41" y="446.22" width="0.97" height="69.38"/><rect x="232.33" y="445.13" width="0.97" height="70.47"/><rect x="233.25" y="438.93" width="0.97" height="76.67"/><rect x="234.17" y="439.34" width="0.97" height="76.26"/><rect x="235.09" y="448.18" width="0.97" height="67.42"/><rect x="236.01" y="466.39" width="0.97" height="49.21"/><rect x="236.94" y="444.19" width="0.97" height="71.41"/><rect x="237.86" y="438.03" width="0.97" height="77.57"/><rect x="238.78" y="448.52" width="0.97" height="67.08"/><rect x="239.7" y="440.53" width="0.97" height="75.07"/><rect x="240.62" y="437.19" width="0.97" height="78.41"/><rect x="241.54" y="443.12" width="0.97" height="72.48"/><rect x="242.46" y="446.29" width="0.97" height="69.31"/><rect x="243.38" y="465.37" width="0.97" height="50.23"/><rect x="244.31" y="436.51" width="0.97" height="79.09"/><rect x="245.23" y="438.77" width="0.97" height="76.83"/><rect x="246.15" y="435.34" width="0.97" height="80.26"/><rect x="247.07" y="441.36" width="0.97" height="74.24"/><rect x="247.99" y="444.52" width="0.97" height="71.08"/><rect x="248.91" y="442.45" width="0.97" height="73.15"/><rect x="249.83" y="440.62" width="0.97" height="74.98"/><rect x="250.75" y="432.31" width="0.97" height="83.29"/><rect x="251.68" y="446.48" width="0.97" height="69.12"/><rect x="252.6" y="436.26" width="0.97" height="79.34"/><rect x="253.52" y="430.66" width="0.97" height="84.94"/><rect x="254.44" y="469.53" width="0.97" height="46.07"/><rect x="255.36" y="433.3" width="0.97" height="82.3"/><rect x="256.28" y="439.94" width="0.97" height="75.66"/><rect x="257.2" y="422.09" width="0.97" height="93.51"/><rect x="258.12" y="426.24" width="0.97" height="89.36"/><rect x="259.04" y="380.76" width="0.97" height="134.84"/><rect x="259.97" y="362.31" width="0.97" height="153.29"/><rect x="260.89" y="358.05" width="0.97" height="157.55"/><rect x="261.81" y="360.89" width="0.97" height="154.71"/><rect x="262.73" y="369.41" width="0.97" height="146.19"/><rect x="263.65" y="409.15" width="0.97" height="106.45"/><rect x="264.57" y="427.6" width="0.97" height="88"/><rect x="265.49" y="437.54" width="0.97" height="78.06"/><rect x="266.41" y="419.09" width="0.97" height="96.51"/><rect x="267.34" y="399.21" width="0.97" height="116.39"/><rect x="268.26" y="375.09" width="0.97" height="140.51"/><rect x="269.18" y="394.96" width="0.97" height="120.64"/><rect x="270.1" y="416.25" width="0.97" height="99.35"/><rect x="271.02" y="402.05" width="0.97" height="113.55"/><rect x="271.94" y="376.51" width="0.97" height="139.09"/><rect x="272.86" y="375.09" width="0.97" height="140.51"/><rect x="273.78" y="390.7" width="0.97" height="124.9"/><rect x="274.7" y="375.09" width="0.97" height="140.51"/><rect x="275.63" y="376.45" width="0.97" height="139.15"/><rect x="276.55" y="376.07" width="0.97" height="139.53"/><rect x="277.47" y="375.01" width="0.97" height="140.59"/><rect x="278.39" y="376.58" width="0.97" height="139.02"/><rect x="279.31" y="376.06" width="0.97" height="139.54"/><rect x="280.23" y="375.45" width="0.97" height="140.15"/><rect x="281.15" y="375.22" width="0.97" height="140.38"/><rect x="282.07" y="375.33" width="0.97" height="140.27"/><rect x="283" y="376.63" width="0.97" height="138.97"/><rect x="283.92" y="374.61" width="0.97" height="140.99"/><rect x="284.84" y="375.89" width="0.97" height="139.71"/><rect x="285.76" y="375.79" width="0.97" height="139.81"/><rect x="286.68" y="375.8" width="0.97" height="139.8"/><rect x="287.6" y="375.93" width="0.97" height="139.67"/><rect x="288.52" y="376.34" width="0.97" height="139.26"/><rect x="289.44" y="375.98" width="0.97" height="139.62"/><rect x="290.36" y="375.04" width="0.97" height="140.56"/><rect x="291.29" y="376.57" width="0.97" height="139.03"/><rect x="292.21" y="377.18" width="0.97" height="138.42"/><rect x="293.13" y="375.49" width="0.97" height="140.11"/><rect x="294.05" y="375.6" width="0.97" height="140"/><rect x="294.97" y="375.38" width="0.97" height="140.22"/><rect x="295.89" y="374.82" width="0.97" height="140.78"/><rect x="296.81" y="376.21" width="0.97" height="139.39"/><rect x="297.73" y="375.7" width="0.97" height="139.9"/><rect x="298.66" y="375.51" width="0.97" height="140.09"/><rect x="299.58" y="375.1" width="0.97" height="140.5"/><rect x="300.5" y="375.21" width="0.97" height="140.39"/><rect x="301.42" y="376.27" width="0.97" height="139.33"/><rect x="302.34" y="376.58" width="0.97" height="139.02"/><rect x="303.26" y="375.95" width="0.97" height="139.65"/><rect x="304.18" y="376.71" width="0.97" height="138.89"/><rect x="305.1" y="375.17" width="0.97" height="140.43"/><rect x="306.02" y="376.02" width="0.97" height="139.58"/><rect x="306.95" y="376" width="0.97" height="139.6"/><rect x="307.87" y="376.3" width="0.97" height="139.3"/><rect x="308.79" y="374.93" width="0.97" height="140.67"/><rect x="309.71" y="375.63" width="0.97" height="139.97"/><rect x="310.63" y="376.03" width="0.97" height="139.57"/><rect x="311.55" y="375.45" width="0.97" height="140.15"/><rect x="312.47" y="375.84" width="0.97" height="139.76"/><rect x="313.39" y="375.46" width="0.97" height="140.14"/><rect x="314.32" y="375.05" width="0.97" height="140.55"/><rect x="315.24" y="375.95" width="0.97" height="139.65"/><rect x="316.16" y="375.5" width="0.97" height="140.1"/><rect x="317.08" y="375.52" width="0.97" height="140.08"/></g>
<g fill="#fff" fill-opacity="0.2"><rect x="52.5" y="374.8" width="0.4" height="140.8"/><rect x="54.34" y="376.07" width="0.4" height="139.53"/><rect x="56.18" y="377.3" width="0.4" height="138.3"/><rect x="58.03" y="376.1" width="0.4" height="139.5"/><rect x="59.87" y="375.62" width="0.4" height="139.98"/><rect x="61.71" y="376.4" width="0.4" height="139.2"/><rect x="63.55" y="376.07" width="0.4" height="139.53"/><rect x="65.4" y="376.54" width="0.4" height="139.06"/><rect x="67.24" y="376.43" width="0.4" height="139.17"/><rect x="69.08" y="375.81" width="0.4" height="139.79"/><rect x="70.92" y="376.18" width="0.4" height="139.42"/><rect x="72.77" y="375.97" width="0.4" height="139.63"/><rect x="74.61" y="375.44" width="0.4" height="140.16"/><rect x="76.45" y="375.75" width="0.4" height="139.85"/><rect x="78.29" y="376.16" width="0.4" height="139.44"/><rect x="80.14" y="376.12" width="0.4" height="139.48"/><rect x="81.98" y="376.07" width="0.4" height="139.53"/><rect x="83.82" y="376.01" width="0.4" height="139.59"/><rect x="85.66" y="375.76" width="0.4" height="139.84"/><rect x="87.5" y="376.67" width="0.4" height="138.93"/><rect x="89.35" y="375.93" width="0.4" height="139.67"/><rect x="91.19" y="376.5" width="0.4" height="139.1"/><rect x="93.03" y="375.74" width="0.4" height="139.86"/><rect x="94.87" y="376.4" width="0.4" height="139.2"/><rect x="96.72" y="376.75" width="0.4" height="138.85"/><rect x="98.56" y="376.47" width="0.4" height="139.13"/><rect x="100.4" y="375.4" width="0.4" height="140.2"/><rect x="102.24" y="375.57" width="0.4" height="140.03"/><rect x="104.09" y="375.73" width="0.4" height="139.87"/><rect x="105.93" y="376.27" width="0.4" height="139.33"/><rect x="107.77" y="376.69" width="0.4" height="138.91"/><rect x="109.61" y="376.25" width="0.4" height="139.35"/><rect x="111.46" y="375.84" width="0.4" height="139.76"/><rect x="113.3" y="427.6" width="0.4" height="88"/><rect x="115.14" y="431.86" width="0.4" height="83.74"/><rect x="116.98" y="436.12" width="0.4" height="79.48"/><rect x="118.83" y="440.38" width="0.4" height="75.22"/><rect x="120.67" y="446.05" width="0.4" height="69.55"/><rect x="122.51" y="441.79" width="0.4" height="73.81"/><rect x="124.35" y="427.6" width="0.4" height="88"/><rect x="126.19" y="430.44" width="0.4" height="85.16"/><rect x="128.04" y="437.08" width="0.4" height="78.52"/><rect x="129.88" y="443.72" width="0.4" height="71.88"/><rect x="131.72" y="450.5" width="0.4" height="65.1"/><rect x="133.56" y="442.37" width="0.4" height="73.23"/><rect x="135.41" y="457.54" width="0.4" height="58.06"/><rect x="137.25" y="447.68" width="0.4" height="67.92"/><rect x="139.09" y="438.91" width="0.4" height="76.69"/><rect x="140.93" y="438.74" width="0.4" height="76.86"/><rect x="142.78" y="450.06" width="0.4" height="65.54"/><rect x="144.62" y="461.52" width="0.4" height="54.08"/><rect x="146.46" y="439.38" width="0.4" height="76.22"/><rect x="148.3" y="445.63" width="0.4" height="69.97"/><rect x="150.15" y="440.8" width="0.4" height="74.8"/><rect x="151.99" y="436.89" width="0.4" height="78.71"/><rect x="153.83" y="445.1" width="0.4" height="70.5"/><rect x="155.67" y="442.3" width="0.4" height="73.3"/><rect x="157.51" y="441.17" width="0.4" height="74.43"/><rect x="159.36" y="442.38" width="0.4" height="73.22"/><rect x="161.2" y="440.54" width="0.4" height="75.06"/><rect x="163.04" y="438.88" width="0.4" height="76.72"/><rect x="164.88" y="438.2" width="0.4" height="77.4"/><rect x="166.73" y="446.22" width="0.4" height="69.38"/><rect x="168.57" y="435.14" width="0.4" height="80.46"/><rect x="170.41" y="473.24" width="0.4" height="42.36"/><rect x="172.25" y="439.26" width="0.4" height="76.34"/><rect x="174.1" y="441.81" width="0.4" height="73.79"/><rect x="175.94" y="442.44" width="0.4" height="73.16"/><rect x="177.78" y="467.14" width="0.4" height="48.46"/><rect x="179.62" y="446.73" width="0.4" height="68.87"/><rect x="181.47" y="458.99" width="0.4" height="56.61"/><rect x="183.31" y="442" width="0.4" height="73.6"/><rect x="185.15" y="441.89" width="0.4" height="73.71"/><rect x="186.99" y="430.96" width="0.4" height="84.64"/><rect x="188.83" y="433.07" width="0.4" height="82.53"/><rect x="190.68" y="447.49" width="0.4" height="68.11"/><rect x="192.52" y="446.1" width="0.4" height="69.5"/><rect x="194.36" y="441.59" width="0.4" height="74.01"/><rect x="196.2" y="437.67" width="0.4" height="77.93"/><rect x="198.05" y="482.37" width="0.4" height="33.23"/><rect x="199.89" y="442.49" width="0.4" height="73.11"/><rect x="201.73" y="442.85" width="0.4" height="72.75"/><rect x="203.57" y="458.53" width="0.4" height="57.07"/><rect x="205.42" y="461.73" width="0.4" height="53.87"/><rect x="207.26" y="445.04" width="0.4" height="70.56"/><rect x="209.1" y="471.16" width="0.4" height="44.44"/><rect x="210.94" y="442.24" width="0.4" height="73.36"/><rect x="212.79" y="438.44" width="0.4" height="77.16"/><rect x="214.63" y="441.29" width="0.4" height="74.31"/><rect x="216.47" y="436" width="0.4" height="79.6"/><rect x="218.31" y="444.14" width="0.4" height="71.46"/><rect x="220.15" y="448.49" width="0.4" height="67.11"/><rect x="222" y="442.53" width="0.4" height="73.07"/><rect x="223.84" y="444.13" width="0.4" height="71.47"/><rect x="225.68" y="439.39" width="0.4" height="76.21"/><rect x="227.52" y="472.94" width="0.4" height="42.66"/><rect x="229.37" y="445.45" width="0.4" height="70.15"/><rect x="231.21" y="475.14" width="0.4" height="40.46"/><rect x="233.05" y="445.13" width="0.4" height="70.47"/><rect x="234.89" y="448.18" width="0.4" height="67.42"/><rect x="236.74" y="466.39" width="0.4" height="49.21"/><rect x="238.58" y="448.52" width="0.4" height="67.08"/><rect x="240.42" y="440.53" width="0.4" height="75.07"/><rect x="242.26" y="446.29" width="0.4" height="69.31"/><rect x="244.11" y="465.37" width="0.4" height="50.23"/><rect x="245.95" y="438.77" width="0.4" height="76.83"/><rect x="247.79" y="444.52" width="0.4" height="71.08"/><rect x="249.63" y="442.45" width="0.4" height="73.15"/><rect x="251.48" y="446.48" width="0.4" height="69.12"/><rect x="253.32" y="436.26" width="0.4" height="79.34"/><rect x="255.16" y="469.53" width="0.4" height="46.07"/><rect x="257" y="439.94" width="0.4" height="75.66"/><rect x="258.84" y="426.24" width="0.4" height="89.36"/><rect x="260.69" y="362.31" width="0.4" height="153.29"/><rect x="262.53" y="369.41" width="0.4" height="146.19"/><rect x="264.37" y="427.6" width="0.4" height="88"/><rect x="266.21" y="437.54" width="0.4" height="78.06"/><rect x="268.06" y="399.21" width="0.4" height="116.39"/><rect x="269.9" y="416.25" width="0.4" height="99.35"/><rect x="271.74" y="402.05" width="0.4" height="113.55"/><rect x="273.58" y="390.7" width="0.4" height="124.9"/><rect x="275.43" y="376.45" width="0.4" height="139.15"/><rect x="277.27" y="376.07" width="0.4" height="139.53"/><rect x="279.11" y="376.58" width="0.4" height="139.02"/><rect x="280.95" y="375.45" width="0.4" height="140.15"/><rect x="282.8" y="376.63" width="0.4" height="138.97"/><rect x="284.64" y="375.89" width="0.4" height="139.71"/><rect x="286.48" y="375.8" width="0.4" height="139.8"/><rect x="288.32" y="376.34" width="0.4" height="139.26"/><rect x="290.16" y="375.98" width="0.4" height="139.62"/><rect x="292.01" y="377.18" width="0.4" height="138.42"/><rect x="293.85" y="375.6" width="0.4" height="140"/><rect x="295.69" y="375.38" width="0.4" height="140.22"/><rect x="297.53" y="376.21" width="0.4" height="139.39"/><rect x="299.38" y="375.51" width="0.4" height="140.09"/><rect x="301.22" y="376.27" width="0.4" height="139.33"/><rect x="303.06" y="376.58" width="0.4" height="139.02"/><rect x="304.9" y="376.71" width="0.4" height="138.89"/><rect x="306.75" y="376.02" width="0.4" height="139.58"/><rect x="308.59" y="376.3" width="0.4" height="139.3"/><rect x="310.43" y="376.03" width="0.4" height="139.57"/><rect x="312.27" y="375.84" width="0.4" height="139.76"/><rect x="314.12" y="375.46" width="0.4" height="140.14"/><rect x="315.96" y="375.95" width="0.4" height="139.65"/></g>
<line x1="113.5" y1="434.7" x2="113.5" y2="515.6" stroke="#6a6ae0" stroke-width="0.8" />
<line x1="52.7" y1="373.67" x2="318" y2="373.67" stroke="#333" stroke-width="1.5" stroke-dasharray="5.3,4.49"/>
<line x1="52.7" y1="444.63" x2="318" y2="444.63" stroke="#333" stroke-width="1.5" stroke-dasharray="5.3,4.49"/>
<text transform="translate(185.5,371.8) scale(0.9091,1)" font-size="9.9" fill="#222" stroke="#222" stroke-width="0.25" text-anchor="middle" >CRI=95</text>
<text transform="translate(185.5,440.6) scale(0.9091,1)" font-size="9.9" fill="#222" stroke="#222" stroke-width="0.25" text-anchor="middle" >CRI=90</text>
<path d="M52.7,447.05 L53.14,447.07 L53.59,447.1 L54.03,447.12 L54.47,447.15 L54.91,447.17 L55.36,447.2 L55.8,447.22 L56.24,447.24 L56.69,447.27 L57.13,447.29 L57.57,447.31 L58.01,447.33 L58.46,447.35 L58.9,447.37 L59.34,447.38 L59.79,447.4 L60.23,447.41 L60.67,447.43 L61.12,447.44 L61.56,447.45 L62,447.46 L62.44,447.46 L62.89,447.47 L63.33,447.47 L63.77,447.47 L64.22,447.47 L64.66,447.47 L65.1,447.47 L65.54,447.47 L65.99,447.47 L66.43,447.47 L66.87,447.47 L67.32,447.47 L67.76,447.47 L68.2,447.47 L68.64,447.47 L69.09,447.47 L69.53,447.47 L69.97,447.47 L70.42,447.47 L70.86,447.47 L71.3,447.47 L71.74,447.47 L72.19,447.47 L72.63,447.47 L73.07,447.47 L73.52,447.47 L73.96,447.47 L74.4,447.47 L74.85,447.47 L75.29,447.47 L75.73,447.47 L76.17,447.47 L76.62,447.47 L77.06,447.47 L77.5,447.47 L77.95,447.47 L78.39,447.47 L78.83,447.47 L79.27,447.47 L79.72,447.47 L80.16,447.47 L80.6,447.47 L81.05,447.47 L81.49,447.47 L81.93,447.47 L82.37,447.47 L82.82,447.47 L83.26,447.47 L83.7,447.47 L84.15,447.47 L84.59,447.47 L85.03,447.47 L85.47,447.47 L85.92,447.47 L86.36,447.47 L86.8,447.47 L87.25,447.46 L87.69,447.45 L88.13,447.44 L88.58,447.43 L89.02,447.42 L89.46,447.4 L89.9,447.39 L90.35,447.37 L90.79,447.35 L91.23,447.33 L91.68,447.31 L92.12,447.29 L92.56,447.27 L93,447.24 L93.45,447.22 L93.89,447.2 L94.33,447.18 L94.78,447.15 L95.22,447.13 L95.66,447.11 L96.1,447.08 L96.55,447.06 L96.99,447.04 L97.43,447.02 L97.88,447.01 L98.32,446.99 L98.76,446.97 L99.21,446.96 L99.65,446.94 L100.09,446.93 L100.53,446.91 L100.98,446.89 L101.42,446.88 L101.86,446.86 L102.31,446.84 L102.75,446.82 L103.19,446.8 L103.63,446.78 L104.08,446.75 L104.52,446.73 L104.96,446.7 L105.41,446.66 L105.85,446.63 L106.29,446.59 L106.73,446.55 L107.18,446.5 L107.62,446.45 L108.06,446.39 L108.51,446.22 L108.95,445.89 L109.39,445.4 L109.83,444.76 L110.28,443.99 L110.72,443.08 L111.16,442.04 L111.61,440.88 L112.05,439.6 L112.49,438.22 L112.94,436.73 L113.38,435.14 L113.82,433 L114.26,429.45 L114.71,425.19 L115.15,421.02 L115.59,417.56 L116.04,414.4 L116.48,411.36 L116.92,408.4 L117.36,405.44 L117.81,402.44 L118.25,399.29 L118.69,396.08 L119.14,392.98 L119.58,390.14 L120.02,387.71 L120.46,385.65 L120.91,383.83 L121.35,382.15 L121.79,380.51 L122.24,378.83 L122.68,377 L123.12,374.93 L123.56,372.51 L124.01,369.81 L124.45,366.97 L124.89,364.11 L125.34,361.37 L125.78,358.87 L126.22,356.76 L126.67,355.03 L127.11,353.45 L127.55,352.01 L127.99,350.68 L128.44,349.44 L128.88,348.27 L129.32,347.15 L129.77,346.07 L130.21,345.02 L130.65,343.99 L131.09,343 L131.54,342.05 L131.98,341.14 L132.42,340.29 L132.87,339.48 L133.31,338.73 L133.75,338.05 L134.19,337.43 L134.64,336.89 L135.08,336.4 L135.52,335.94 L135.97,335.52 L136.41,335.09 L136.85,334.66 L137.29,334.21 L137.74,333.71 L138.18,333.19 L138.62,332.65 L139.07,332.1 L139.51,331.54 L139.95,330.98 L140.4,330.41 L140.84,329.86 L141.28,329.31 L141.72,328.79 L142.17,328.28 L142.61,327.8 L143.05,327.34 L143.5,326.89 L143.94,326.45 L144.38,326.01 L144.82,325.58 L145.27,325.16 L145.71,324.75 L146.15,324.36 L146.6,323.97 L147.04,323.61 L147.48,323.26 L147.92,322.93 L148.37,322.62 L148.81,322.32 L149.25,322.03 L149.7,321.75 L150.14,321.47 L150.58,321.19 L151.02,320.93 L151.47,320.67 L151.91,320.43 L152.35,320.19 L152.8,319.97 L153.24,319.77 L153.68,319.58 L154.13,319.4 L154.57,319.24 L155.01,319.11 L155.45,318.99 L155.9,318.88 L156.34,318.79 L156.78,318.7 L157.23,318.63 L157.67,318.55 L158.11,318.48 L158.55,318.41 L159,318.33 L159.44,318.25 L159.88,318.16 L160.33,318.06 L160.77,317.96 L161.21,317.84 L161.65,317.71 L162.1,317.57 L162.54,317.43 L162.98,317.28 L163.43,317.12 L163.87,316.97 L164.31,316.81 L164.75,316.66 L165.2,316.51 L165.64,316.36 L166.08,316.21 L166.53,316.07 L166.97,315.94 L167.41,315.82 L167.86,315.7 L168.3,315.58 L168.74,315.46 L169.18,315.35 L169.63,315.24 L170.07,315.13 L170.51,315.02 L170.96,314.91 L171.4,314.8 L171.84,314.7 L172.28,314.6 L172.73,314.49 L173.17,314.39 L173.61,314.28 L174.06,314.17 L174.5,314.05 L174.94,313.93 L175.38,313.81 L175.83,313.69 L176.27,313.56 L176.71,313.43 L177.16,313.31 L177.6,313.18 L178.04,313.05 L178.48,312.93 L178.93,312.8 L179.37,312.68 L179.81,312.57 L180.26,312.45 L180.7,312.35 L181.14,312.24 L181.59,312.15 L182.03,312.06 L182.47,311.97 L182.91,311.9 L183.36,311.83 L183.8,311.77 L184.24,311.73 L184.69,311.69 L185.13,311.66 L185.57,311.65 L186.01,311.64 L186.46,311.69 L186.9,311.79 L187.34,311.94 L187.79,312.13 L188.23,312.34 L188.67,312.58 L189.11,312.83 L189.56,313.09 L190,313.34 L190.44,313.58 L190.89,313.8 L191.33,313.99 L191.77,314.14 L192.22,314.25 L192.66,314.36 L193.1,314.47 L193.54,314.58 L193.99,314.69 L194.43,314.79 L194.87,314.89 L195.32,314.99 L195.76,315.09 L196.2,315.18 L196.64,315.26 L197.09,315.34 L197.53,315.41 L197.97,315.48 L198.42,315.53 L198.86,315.58 L199.3,315.62 L199.74,315.65 L200.19,315.68 L200.63,315.69 L201.07,315.68 L201.52,315.66 L201.96,315.61 L202.4,315.54 L202.84,315.45 L203.29,315.35 L203.73,315.24 L204.17,315.12 L204.62,314.99 L205.06,314.86 L205.5,314.72 L205.95,314.58 L206.39,314.45 L206.83,314.32 L207.27,314.2 L207.72,314.09 L208.16,313.99 L208.6,313.91 L209.05,313.84 L209.49,313.8 L209.93,313.77 L210.37,313.78 L210.82,313.83 L211.26,313.91 L211.7,314.04 L212.15,314.2 L212.59,314.4 L213.03,314.62 L213.47,314.87 L213.92,315.15 L214.36,315.45 L214.8,315.77 L215.25,316.11 L215.69,316.46 L216.13,316.82 L216.57,317.2 L217.02,317.58 L217.46,317.96 L217.9,318.35 L218.35,318.74 L218.79,319.12 L219.23,319.5 L219.68,319.87 L220.12,320.22 L220.56,320.57 L221,320.89 L221.45,321.21 L221.89,321.52 L222.33,321.84 L222.78,322.15 L223.22,322.47 L223.66,322.8 L224.1,323.12 L224.55,323.44 L224.99,323.77 L225.43,324.1 L225.88,324.44 L226.32,324.77 L226.76,325.11 L227.2,325.45 L227.65,325.79 L228.09,326.13 L228.53,326.48 L228.98,326.83 L229.42,327.18 L229.86,327.53 L230.3,327.89 L230.75,328.25 L231.19,328.61 L231.63,328.97 L232.08,329.31 L232.52,329.66 L232.96,330 L233.41,330.33 L233.85,330.67 L234.29,331.01 L234.73,331.36 L235.18,331.71 L235.62,332.08 L236.06,332.45 L236.51,332.84 L236.95,333.24 L237.39,333.66 L237.83,334.1 L238.28,334.56 L238.72,335.05 L239.16,335.56 L239.61,336.1 L240.05,336.67 L240.49,337.29 L240.93,337.96 L241.38,338.67 L241.82,339.43 L242.26,340.25 L242.71,341.11 L243.15,342.04 L243.59,343.02 L244.03,344.05 L244.48,345.15 L244.92,346.31 L245.36,347.64 L245.81,349.2 L246.25,350.96 L246.69,352.88 L247.14,354.91 L247.58,357.01 L248.02,359.13 L248.46,361.24 L248.91,363.29 L249.35,365.25 L249.79,367.16 L250.24,369.02 L250.68,370.86 L251.12,372.68 L251.56,374.48 L252.01,376.29 L252.45,378.1 L252.89,379.94 L253.34,381.8 L253.78,383.7 L254.22,385.64 L254.66,387.65 L255.11,389.73 L255.55,391.88 L255.99,394.12 L256.44,396.46 L256.88,398.91 L257.32,401.48 L257.76,404.17 L258.21,407 L258.65,410.3 L259.09,414.56 L259.54,419.34 L259.98,424.21 L260.42,428.71 L260.87,432.4 L261.31,434.86 L261.75,436.76 L262.19,438.41 L262.64,439.83 L263.08,441.01 L263.52,441.98 L263.97,442.78 L264.41,443.5 L264.85,444.13 L265.29,444.64 L265.74,445.02 L266.18,445.25 L266.62,445.45 L267.07,445.62 L267.51,445.78 L267.95,445.92 L268.39,446.04 L268.84,446.15 L269.28,446.24 L269.72,446.31 L270.17,446.37 L270.61,446.42 L271.05,446.47 L271.49,446.51 L271.94,446.54 L272.38,446.57 L272.82,446.6 L273.27,446.61 L273.71,446.62 L274.15,446.62 L274.6,446.62 L275.04,446.61 L275.48,446.61 L275.92,446.6 L276.37,446.59 L276.81,446.58 L277.25,446.57 L277.7,446.56 L278.14,446.55 L278.58,446.53 L279.02,446.52 L279.47,446.51 L279.91,446.5 L280.35,446.48 L280.8,446.47 L281.24,446.46 L281.68,446.45 L282.12,446.44 L282.57,446.43 L283.01,446.42 L283.45,446.42 L283.9,446.41 L284.34,446.41 L284.78,446.41 L285.23,446.41 L285.67,446.42 L286.11,446.42 L286.55,446.44 L287,446.46 L287.44,446.48 L287.88,446.5 L288.33,446.52 L288.77,446.55 L289.21,446.58 L289.65,446.61 L290.1,446.64 L290.54,446.68 L290.98,446.71 L291.43,446.74 L291.87,446.78 L292.31,446.81 L292.75,446.85 L293.2,446.88 L293.64,446.91 L294.08,446.94 L294.53,446.97 L294.97,447 L295.41,447.02 L295.85,447.04 L296.3,447.07 L296.74,447.09 L297.18,447.11 L297.63,447.13 L298.07,447.15 L298.51,447.18 L298.96,447.2 L299.4,447.22 L299.84,447.25 L300.28,447.27 L300.73,447.29 L301.17,447.31 L301.61,447.33 L302.06,447.35 L302.5,447.37 L302.94,447.39 L303.38,447.4 L303.83,447.42 L304.27,447.43 L304.71,447.44 L305.16,447.45 L305.6,447.46 L306.04,447.47 L306.48,447.47 L306.93,447.47 L307.37,447.47 L307.81,447.47 L308.26,447.46 L308.7,447.45 L309.14,447.44 L309.58,447.43 L310.03,447.42 L310.47,447.4 L310.91,447.38 L311.36,447.36 L311.8,447.34 L312.24,447.31 L312.69,447.29 L313.13,447.26 L313.57,447.23 L314.01,447.2 L314.46,447.16 L314.9,447.13 L315.34,447.09 L315.79,447.05 L316.23,447.01 L316.67,446.97 L317.11,446.92 L317.56,446.88 L318,446.83" fill="none" stroke="#ff1a1a" stroke-width="1.3"/>
<g fill="#ff1a1a"><circle cx="52.7" cy="447.05" r="1.5"/><circle cx="63.75" cy="447.47" r="1.5"/><circle cx="74.81" cy="447.47" r="1.5"/><circle cx="85.86" cy="447.47" r="1.5"/><circle cx="96.92" cy="447.05" r="1.5"/><circle cx="107.97" cy="446.41" r="1.5"/><circle cx="115.38" cy="419.16" r="1.5"/><circle cx="117.7" cy="403.19" r="1.5"/><circle cx="119.91" cy="388.29" r="1.5"/><circle cx="123" cy="375.51" r="1.5"/><circle cx="126.32" cy="356.35" r="1.5"/><circle cx="129.31" cy="347.2" r="1.5"/><circle cx="134.06" cy="337.62" r="1.5"/><circle cx="137.49" cy="334" r="1.5"/><circle cx="142.79" cy="327.61" r="1.5"/><circle cx="148.54" cy="322.5" r="1.5"/><circle cx="155.06" cy="319.09" r="1.5"/><circle cx="160.48" cy="318.03" r="1.5"/><circle cx="167.11" cy="315.9" r="1.5"/><circle cx="173.08" cy="314.41" r="1.5"/><circle cx="191.98" cy="314.2" r="1.5"/><circle cx="200.83" cy="315.69" r="1.5"/><circle cx="210.11" cy="313.77" r="1.5"/><circle cx="221.17" cy="321.01" r="1.5"/><circle cx="231" cy="328.46" r="1.5"/><circle cx="239.63" cy="336.13" r="1.5"/><circle cx="244.93" cy="346.34" r="1.5"/><circle cx="249.02" cy="363.8" r="1.5"/><circle cx="258.31" cy="407.66" r="1.5"/><circle cx="273.78" cy="446.62" r="1.5"/><circle cx="284.84" cy="446.41" r="1.5"/><circle cx="295.89" cy="447.05" r="1.5"/><circle cx="306.95" cy="447.47" r="1.5"/><circle cx="318" cy="446.83" r="1.5"/></g>
<rect x="111.2" y="432.4" width="4.6" height="4.6" fill="#fff" stroke="#ff1a1a" stroke-width="1.4"/>
<rect x="183.6" y="309.34" width="4.6" height="4.6" fill="#fff" stroke="#ff1a1a" stroke-width="1.4"/>
<rect x="261.2" y="445.6" width="4.6" height="4.6" fill="#fff" stroke="#ff1a1a" stroke-width="1.4"/>
<text transform="translate(166.6,323.5) scale(0.9091,1)" font-size="9.02" fill="#ff1a1a" stroke="#ff1a1a" stroke-width="0.25" text-anchor="start" >12:03, 0.96</text>
<text transform="translate(127.5,413.9) scale(0.9091,1)" font-size="9.02" fill="#ff1a1a" stroke="#ff1a1a" stroke-width="0.25" text-anchor="start" >5:30, 0.38</text>
<line x1="115" y1="432.5" x2="127.5" y2="416" stroke="#ff1a1a" stroke-width="0.8" />
<text transform="translate(214,427.4) scale(0.9091,1)" font-size="9.02" fill="#ff1a1a" stroke="#ff1a1a" stroke-width="0.25" text-anchor="start" >19:04, 0.32</text>
<line x1="255.5" y1="430" x2="261.5" y2="444.5" stroke="#ff1a1a" stroke-width="0.8" />
<line x1="52.7" y1="302.7" x2="318" y2="302.7" stroke="#666" stroke-width="1.3" />
<line x1="52.2" y1="515.6" x2="318.5" y2="515.6" stroke="#222" stroke-width="1.1" />
<line x1="52.7" y1="302.2" x2="52.7" y2="519.6" stroke="#ff2a2a" stroke-width="1.1" />
<line x1="318" y1="302.2" x2="318" y2="515.6" stroke="#5a5aff" stroke-width="1.2" />
<line x1="48.7" y1="515.6" x2="52.7" y2="515.6" stroke="#ff2a2a" stroke-width="1" />
<text transform="translate(45.7,518.8) scale(0.9091,1)" font-size="9.9" fill="#ff2a2a" stroke="#ff2a2a" stroke-width="0.25" text-anchor="end" >0.0</text>
<line x1="50.2" y1="494.31" x2="52.7" y2="494.31" stroke="#ff2a2a" stroke-width="1" />
<line x1="48.7" y1="473.02" x2="52.7" y2="473.02" stroke="#ff2a2a" stroke-width="1" />
<text transform="translate(45.7,476.22) scale(0.9091,1)" font-size="9.9" fill="#ff2a2a" stroke="#ff2a2a" stroke-width="0.25" text-anchor="end" >0.2</text>
<line x1="50.2" y1="451.73" x2="52.7" y2="451.73" stroke="#ff2a2a" stroke-width="1" />
<line x1="48.7" y1="430.44" x2="52.7" y2="430.44" stroke="#ff2a2a" stroke-width="1" />
<text transform="translate(45.7,433.64) scale(0.9091,1)" font-size="9.9" fill="#ff2a2a" stroke="#ff2a2a" stroke-width="0.25" text-anchor="end" >0.4</text>
<line x1="50.2" y1="409.15" x2="52.7" y2="409.15" stroke="#ff2a2a" stroke-width="1" />
<line x1="48.7" y1="387.86" x2="52.7" y2="387.86" stroke="#ff2a2a" stroke-width="1" />
<text transform="translate(45.7,391.06) scale(0.9091,1)" font-size="9.9" fill="#ff2a2a" stroke="#ff2a2a" stroke-width="0.25" text-anchor="end" >0.6</text>
<line x1="50.2" y1="366.57" x2="52.7" y2="366.57" stroke="#ff2a2a" stroke-width="1" />
<line x1="48.7" y1="345.28" x2="52.7" y2="345.28" stroke="#ff2a2a" stroke-width="1" />
<text transform="translate(45.7,348.48) scale(0.9091,1)" font-size="9.9" fill="#ff2a2a" stroke="#ff2a2a" stroke-width="0.25" text-anchor="end" >0.8</text>
<line x1="50.2" y1="323.99" x2="52.7" y2="323.99" stroke="#ff2a2a" stroke-width="1" />
<line x1="48.7" y1="302.7" x2="52.7" y2="302.7" stroke="#ff2a2a" stroke-width="1" />
<text transform="translate(45.7,305.9) scale(0.9091,1)" font-size="9.9" fill="#ff2a2a" stroke="#ff2a2a" stroke-width="0.25" text-anchor="end" >1.0</text>
<line x1="315.5" y1="515.6" x2="318" y2="515.6" stroke="#5a5aff" stroke-width="1" />
<line x1="318" y1="501.41" x2="322" y2="501.41" stroke="#5a5aff" stroke-width="1" />
<text transform="translate(324.3,504.61) scale(0.9091,1)" font-size="9.9" fill="#3a3aff" stroke="#3a3aff" stroke-width="0.25" text-anchor="start" >86</text>
<line x1="315.5" y1="487.21" x2="318" y2="487.21" stroke="#5a5aff" stroke-width="1" />
<line x1="318" y1="473.02" x2="322" y2="473.02" stroke="#5a5aff" stroke-width="1" />
<text transform="translate(324.3,476.22) scale(0.9091,1)" font-size="9.9" fill="#3a3aff" stroke="#3a3aff" stroke-width="0.25" text-anchor="start" >88</text>
<line x1="315.5" y1="458.83" x2="318" y2="458.83" stroke="#5a5aff" stroke-width="1" />
<line x1="318" y1="444.63" x2="322" y2="444.63" stroke="#5a5aff" stroke-width="1" />
<text transform="translate(324.3,447.83) scale(0.9091,1)" font-size="9.9" fill="#3a3aff" stroke="#3a3aff" stroke-width="0.25" text-anchor="start" >90</text>
<line x1="315.5" y1="430.44" x2="318" y2="430.44" stroke="#5a5aff" stroke-width="1" />
<line x1="318" y1="416.25" x2="322" y2="416.25" stroke="#5a5aff" stroke-width="1" />
<text transform="translate(324.3,419.45) scale(0.9091,1)" font-size="9.9" fill="#3a3aff" stroke="#3a3aff" stroke-width="0.25" text-anchor="start" >92</text>
<line x1="315.5" y1="402.05" x2="318" y2="402.05" stroke="#5a5aff" stroke-width="1" />
<line x1="318" y1="387.86" x2="322" y2="387.86" stroke="#5a5aff" stroke-width="1" />
<text transform="translate(324.3,391.06) scale(0.9091,1)" font-size="9.9" fill="#3a3aff" stroke="#3a3aff" stroke-width="0.25" text-anchor="start" >94</text>
<line x1="315.5" y1="373.67" x2="318" y2="373.67" stroke="#5a5aff" stroke-width="1" />
<line x1="318" y1="359.47" x2="322" y2="359.47" stroke="#5a5aff" stroke-width="1" />
<text transform="translate(324.3,362.67) scale(0.9091,1)" font-size="9.9" fill="#3a3aff" stroke="#3a3aff" stroke-width="0.25" text-anchor="start" >96</text>
<line x1="315.5" y1="345.28" x2="318" y2="345.28" stroke="#5a5aff" stroke-width="1" />
<line x1="318" y1="331.09" x2="322" y2="331.09" stroke="#5a5aff" stroke-width="1" />
<text transform="translate(324.3,334.29) scale(0.9091,1)" font-size="9.9" fill="#3a3aff" stroke="#3a3aff" stroke-width="0.25" text-anchor="start" >98</text>
<line x1="315.5" y1="316.89" x2="318" y2="316.89" stroke="#5a5aff" stroke-width="1" />
<line x1="318" y1="302.7" x2="322" y2="302.7" stroke="#5a5aff" stroke-width="1" />
<text transform="translate(324.3,305.9) scale(0.9091,1)" font-size="9.9" fill="#3a3aff" stroke="#3a3aff" stroke-width="0.25" text-anchor="start" >100</text>
<line x1="52.7" y1="515.6" x2="52.7" y2="519.6" stroke="#222" stroke-width="1" />
<text transform="translate(52.7,530.1) scale(0.9091,1)" font-size="9.9" fill="#222" stroke="#222" stroke-width="0.25" text-anchor="middle" >0</text>
<line x1="63.75" y1="515.6" x2="63.75" y2="518.1" stroke="#222" stroke-width="1" />
<line x1="74.81" y1="515.6" x2="74.81" y2="519.6" stroke="#222" stroke-width="1" />
<text transform="translate(74.81,530.1) scale(0.9091,1)" font-size="9.9" fill="#222" stroke="#222" stroke-width="0.25" text-anchor="middle" >2</text>
<line x1="85.86" y1="515.6" x2="85.86" y2="518.1" stroke="#222" stroke-width="1" />
<line x1="96.92" y1="515.6" x2="96.92" y2="519.6" stroke="#222" stroke-width="1" />
<text transform="translate(96.92,530.1) scale(0.9091,1)" font-size="9.9" fill="#222" stroke="#222" stroke-width="0.25" text-anchor="middle" >4</text>
<line x1="107.97" y1="515.6" x2="107.97" y2="518.1" stroke="#222" stroke-width="1" />
<line x1="119.03" y1="515.6" x2="119.03" y2="519.6" stroke="#222" stroke-width="1" />
<text transform="translate(119.03,530.1) scale(0.9091,1)" font-size="9.9" fill="#222" stroke="#222" stroke-width="0.25" text-anchor="middle" >6</text>
<line x1="130.08" y1="515.6" x2="130.08" y2="518.1" stroke="#222" stroke-width="1" />
<line x1="141.13" y1="515.6" x2="141.13" y2="519.6" stroke="#222" stroke-width="1" />
<text transform="translate(141.13,530.1) scale(0.9091,1)" font-size="9.9" fill="#222" stroke="#222" stroke-width="0.25" text-anchor="middle" >8</text>
<line x1="152.19" y1="515.6" x2="152.19" y2="518.1" stroke="#222" stroke-width="1" />
<line x1="163.24" y1="515.6" x2="163.24" y2="519.6" stroke="#222" stroke-width="1" />
<text transform="translate(163.24,530.1) scale(0.9091,1)" font-size="9.9" fill="#222" stroke="#222" stroke-width="0.25" text-anchor="middle" >10</text>
<line x1="174.3" y1="515.6" x2="174.3" y2="518.1" stroke="#222" stroke-width="1" />
<line x1="185.35" y1="515.6" x2="185.35" y2="519.6" stroke="#222" stroke-width="1" />
<text transform="translate(185.35,530.1) scale(0.9091,1)" font-size="9.9" fill="#222" stroke="#222" stroke-width="0.25" text-anchor="middle" >12</text>
<line x1="196.4" y1="515.6" x2="196.4" y2="518.1" stroke="#222" stroke-width="1" />
<line x1="207.46" y1="515.6" x2="207.46" y2="519.6" stroke="#222" stroke-width="1" />
<text transform="translate(207.46,530.1) scale(0.9091,1)" font-size="9.9" fill="#222" stroke="#222" stroke-width="0.25" text-anchor="middle" >14</text>
<line x1="218.51" y1="515.6" x2="218.51" y2="518.1" stroke="#222" stroke-width="1" />
<line x1="229.57" y1="515.6" x2="229.57" y2="519.6" stroke="#222" stroke-width="1" />
<text transform="translate(229.57,530.1) scale(0.9091,1)" font-size="9.9" fill="#222" stroke="#222" stroke-width="0.25" text-anchor="middle" >16</text>
<line x1="240.62" y1="515.6" x2="240.62" y2="518.1" stroke="#222" stroke-width="1" />
<line x1="251.68" y1="515.6" x2="251.68" y2="519.6" stroke="#222" stroke-width="1" />
<text transform="translate(251.68,530.1) scale(0.9091,1)" font-size="9.9" fill="#222" stroke="#222" stroke-width="0.25" text-anchor="middle" >18</text>
<line x1="262.73" y1="515.6" x2="262.73" y2="518.1" stroke="#222" stroke-width="1" />
<line x1="273.78" y1="515.6" x2="273.78" y2="519.6" stroke="#222" stroke-width="1" />
<text transform="translate(273.78,530.1) scale(0.9091,1)" font-size="9.9" fill="#222" stroke="#222" stroke-width="0.25" text-anchor="middle" >20</text>
<line x1="284.84" y1="515.6" x2="284.84" y2="518.1" stroke="#222" stroke-width="1" />
<line x1="295.89" y1="515.6" x2="295.89" y2="519.6" stroke="#222" stroke-width="1" />
<text transform="translate(295.89,530.1) scale(0.9091,1)" font-size="9.9" fill="#222" stroke="#222" stroke-width="0.25" text-anchor="middle" >22</text>
<line x1="306.95" y1="515.6" x2="306.95" y2="518.1" stroke="#222" stroke-width="1" />
<line x1="318" y1="515.6" x2="318" y2="519.6" stroke="#222" stroke-width="1" />
<text transform="translate(318,530.1) scale(0.9091,1)" font-size="9.9" fill="#222" stroke="#222" stroke-width="0.25" text-anchor="middle" >24</text>
<text transform="translate(185.5,547) scale(0.9091,1)" font-size="12.21" fill="#222" stroke="#222" stroke-width="0.25" text-anchor="middle" >Time (hour)</text>
<text transform="translate(28.4,409.6) rotate(-90)" font-size="11" fill="#ff2a2a" stroke="#ff2a2a" stroke-width="0.25" text-anchor="middle">CAF</text>
<text transform="translate(351.9,409.3) rotate(-90)" font-size="11.2" fill="#2a2aff" stroke="#2a2aff" stroke-width="0.25" text-anchor="middle">CRI</text>
<text transform="translate(8.4,301) scale(0.9091,1)" font-size="12.65" fill="#222" stroke="#222" stroke-width="0.25" text-anchor="start" >(c)</text>
<rect x="274.7" y="297.3" width="43.7" height="23.4" fill="#fff" stroke="#555" stroke-width="0.8"/>
<line x1="275.2" y1="321.1" x2="318.8" y2="321.1" stroke="#333" stroke-width="1.2" />
<line x1="318.6" y1="297.6" x2="318.6" y2="321.3" stroke="#333" stroke-width="1.2" />
<rect x="283.2" y="300.2" width="5.8" height="5.8" fill="#ff1a1a"/>
<rect x="276.2" y="309.8" width="19.9" height="9.1" fill="#8c8cf0"/>
<text transform="translate(298.8,306.4) scale(0.9091,1)" font-size="9.9" fill="#ff1a1a" stroke="#ff1a1a" stroke-width="0.25" text-anchor="start" >CAF</text>
<text transform="translate(298.8,317.5) scale(0.9091,1)" font-size="9.9" fill="#3a3aff" stroke="#3a3aff" stroke-width="0.25" text-anchor="start" >CRI</text>
<rect x="408.8" y="306.2" width="60.66" height="213.2" fill="#808080"/>
<rect x="618.69" y="306.2" width="54.81" height="213.2" fill="#808080"/>
<path d="M408.8,310.62 L409.02,310.62 L409.24,310.62 L409.46,310.62 L409.68,310.62 L409.9,310.62 L410.12,310.62 L410.35,310.62 L410.57,310.62 L410.79,310.62 L411.01,310.62 L411.23,310.62 L411.45,310.62 L411.67,310.62 L411.89,310.62 L412.11,310.62 L412.33,310.62 L412.55,310.62 L412.77,310.62 L412.99,310.62 L413.22,310.62 L413.44,310.62 L413.66,310.62 L413.88,310.62 L414.1,310.62 L414.32,310.62 L414.54,310.62 L414.76,310.62 L414.98,310.62 L415.2,310.62 L415.42,310.62 L415.64,310.62 L415.86,310.62 L416.09,310.62 L416.31,310.62 L416.53,310.62 L416.75,310.62 L416.97,310.62 L417.19,310.62 L417.41,310.62 L417.63,310.62 L417.85,310.62 L418.07,310.62 L418.29,310.62 L418.51,310.62 L418.73,310.62 L418.96,310.62 L419.18,310.62 L419.4,310.62 L419.62,310.62 L419.84,310.62 L420.06,310.62 L420.28,310.62 L420.5,310.62 L420.72,310.62 L420.94,310.62 L421.16,310.62 L421.38,310.62 L421.6,310.62 L421.83,310.62 L422.05,310.62 L422.27,310.62 L422.49,310.62 L422.71,310.62 L422.93,310.62 L423.15,310.62 L423.37,310.62 L423.59,310.62 L423.81,310.62 L424.03,310.62 L424.25,310.62 L424.47,310.62 L424.7,310.62 L424.92,310.62 L425.14,310.62 L425.36,310.62 L425.58,310.62 L425.8,310.62 L426.02,310.62 L426.24,310.62 L426.46,310.62 L426.68,310.62 L426.9,310.62 L427.12,310.62 L427.34,310.62 L427.57,310.62 L427.79,310.62 L428.01,310.62 L428.23,310.62 L428.45,310.62 L428.67,310.62 L428.89,310.62 L429.11,310.62 L429.33,310.62 L429.55,310.62 L429.77,310.62 L429.99,310.62 L430.21,310.62 L430.44,310.62 L430.66,310.62 L430.88,310.62 L431.1,310.62 L431.32,310.62 L431.54,310.62 L431.76,310.62 L431.98,310.62 L432.2,310.62 L432.42,310.62 L432.64,310.62 L432.86,310.62 L433.08,310.62 L433.31,310.62 L433.53,310.62 L433.75,310.62 L433.97,310.62 L434.19,310.62 L434.41,310.62 L434.63,310.62 L434.85,310.62 L435.07,310.62 L435.29,310.62 L435.51,310.62 L435.73,310.62 L435.95,310.62 L436.18,310.62 L436.4,310.62 L436.62,310.62 L436.84,310.62 L437.06,310.62 L437.28,310.62 L437.5,310.62 L437.72,310.62 L437.94,310.62 L438.16,310.62 L438.38,310.62 L438.6,310.62 L438.82,310.62 L439.05,310.62 L439.27,310.62 L439.49,310.62 L439.71,310.62 L439.93,310.62 L440.15,310.62 L440.37,310.62 L440.59,310.62 L440.81,310.62 L441.03,310.62 L441.25,310.62 L441.47,310.62 L441.69,310.62 L441.92,310.62 L442.14,310.62 L442.36,310.62 L442.58,310.62 L442.8,310.62 L443.02,310.62 L443.24,310.62 L443.46,310.62 L443.68,310.62 L443.9,310.62 L444.12,310.62 L444.34,310.62 L444.56,310.62 L444.79,310.62 L445.01,310.62 L445.23,310.62 L445.45,310.62 L445.67,310.62 L445.89,310.62 L446.11,310.62 L446.33,310.62 L446.55,310.62 L446.77,310.62 L446.99,310.62 L447.21,310.62 L447.43,310.62 L447.66,310.62 L447.88,310.62 L448.1,310.62 L448.32,310.62 L448.54,310.62 L448.76,310.62 L448.98,310.62 L449.2,310.62 L449.42,310.62 L449.64,310.62 L449.86,310.62 L450.08,310.62 L450.3,310.62 L450.53,310.62 L450.75,310.62 L450.97,310.62 L451.19,310.62 L451.41,310.62 L451.63,310.62 L451.85,310.62 L452.07,310.62 L452.29,310.62 L452.51,310.62 L452.73,310.62 L452.95,310.62 L453.17,310.62 L453.39,310.62 L453.62,310.62 L453.84,310.62 L454.06,310.62 L454.28,310.62 L454.5,310.62 L454.72,310.62 L454.94,310.62 L455.16,310.62 L455.38,310.62 L455.6,310.62 L455.82,310.62 L456.04,310.62 L456.26,310.62 L456.49,310.62 L456.71,310.62 L456.93,310.62 L457.15,310.62 L457.37,310.62 L457.59,310.62 L457.81,310.62 L458.03,310.62 L458.25,310.62 L458.47,310.62 L458.69,310.62 L458.91,310.62 L459.13,310.62 L459.36,310.62 L459.58,310.62 L459.8,310.62 L460.02,310.62 L460.24,310.62 L460.46,310.62 L460.68,310.62 L460.9,310.62 L461.12,310.62 L461.34,310.62 L461.56,310.62 L461.78,310.62 L462,310.62 L462.23,310.62 L462.45,310.62 L462.67,310.62 L462.89,310.62 L463.11,310.62 L463.33,310.62 L463.55,310.62 L463.77,310.62 L463.99,310.62 L464.21,310.62 L464.43,310.62 L464.65,310.62 L464.87,310.62 L465.1,310.62 L465.32,310.62 L465.54,310.62 L465.76,310.62 L465.98,310.62 L466.2,310.62 L466.42,310.62 L466.64,310.62 L466.86,310.62 L467.08,310.62 L467.3,310.62 L467.52,310.62 L467.74,310.62 L467.97,310.62 L468.19,310.62 L468.41,310.62 L468.63,310.62 L468.85,310.62 L469.07,310.62 L469.29,310.62 L469.51,310.62 L469.73,310.62 L469.95,310.62 L470.17,310.62 L470.39,310.62 L470.61,310.62 L470.84,310.62 L471.06,310.62 L471.28,310.62 L471.5,310.62 L471.72,310.62 L471.94,310.62 L472.16,310.62 L472.38,310.62 L472.6,310.62 L472.82,310.62 L473.04,310.62 L473.26,310.62 L473.48,310.62 L473.71,310.62 L473.93,310.62 L474.15,310.62 L474.37,310.62 L474.59,310.62 L474.81,310.62 L475.03,310.62 L475.25,310.62 L475.47,310.62 L475.69,310.62 L475.91,310.62 L476.13,310.62 L476.35,310.62 L476.58,310.62 L476.8,310.62 L477.02,310.62 L477.24,310.62 L477.46,310.62 L477.68,310.62 L477.9,310.62 L478.12,310.62 L478.34,310.62 L478.56,310.62 L478.78,310.62 L479,310.62 L479.22,310.62 L479.45,310.62 L479.67,310.62 L479.89,310.62 L480.11,310.62 L480.33,310.62 L480.55,310.62 L480.77,310.62 L480.99,310.62 L481.21,310.62 L481.43,310.62 L481.65,310.62 L481.87,310.62 L482.09,310.62 L482.32,310.62 L482.54,310.62 L482.76,310.62 L482.98,310.62 L483.2,310.62 L483.42,310.62 L483.64,310.62 L483.86,310.62 L484.08,310.62 L484.3,310.62 L484.52,310.62 L484.74,310.62 L484.96,310.62 L485.19,310.62 L485.41,310.62 L485.63,310.62 L485.85,310.62 L486.07,310.62 L486.29,310.62 L486.51,310.62 L486.73,310.62 L486.95,310.62 L487.17,310.62 L487.39,310.62 L487.61,310.62 L487.83,310.62 L488.06,310.62 L488.28,310.62 L488.5,310.62 L488.72,310.62 L488.94,310.62 L489.16,310.62 L489.38,310.62 L489.6,310.62 L489.82,310.62 L490.04,310.62 L490.26,310.62 L490.48,310.62 L490.7,310.63 L490.93,310.65 L491.15,310.69 L491.37,310.73 L491.59,310.78 L491.81,310.84 L492.03,310.91 L492.25,310.98 L492.47,311.06 L492.69,311.15 L492.91,311.24 L493.13,311.34 L493.35,311.43 L493.57,311.53 L493.8,311.63 L494.02,311.74 L494.24,311.84 L494.46,311.94 L494.68,312.03 L494.9,312.13 L495.12,312.23 L495.34,312.34 L495.56,312.46 L495.78,312.58 L496,312.71 L496.22,312.84 L496.44,312.98 L496.67,313.12 L496.89,313.27 L497.11,313.42 L497.33,313.58 L497.55,313.73 L497.77,313.89 L497.99,314.06 L498.21,314.22 L498.43,314.39 L498.65,314.55 L498.87,314.72 L499.09,314.89 L499.31,315.05 L499.54,315.22 L499.76,315.38 L499.98,315.54 L500.2,315.7 L500.42,315.86 L500.64,316.02 L500.86,316.17 L501.08,316.32 L501.3,316.46 L501.52,316.6 L501.74,316.73 L501.96,316.86 L502.18,316.98 L502.41,317.1 L502.63,317.2 L502.85,317.31 L503.07,317.42 L503.29,317.52 L503.51,317.62 L503.73,317.73 L503.95,317.83 L504.17,317.93 L504.39,318.02 L504.61,318.12 L504.83,318.22 L505.05,318.31 L505.28,318.41 L505.5,318.5 L505.72,318.59 L505.94,318.68 L506.16,318.77 L506.38,318.86 L506.6,318.95 L506.82,319.03 L507.04,319.12 L507.26,319.2 L507.48,319.28 L507.7,319.36 L507.92,319.45 L508.15,319.52 L508.37,319.6 L508.59,319.68 L508.81,319.75 L509.03,319.83 L509.25,319.9 L509.47,319.97 L509.69,320.04 L509.91,320.11 L510.13,320.18 L510.35,320.25 L510.57,320.32 L510.79,320.38 L511.02,320.44 L511.24,320.51 L511.46,320.57 L511.68,320.63 L511.9,320.69 L512.12,320.75 L512.34,320.81 L512.56,320.87 L512.78,320.92 L513,320.98 L513.22,321.04 L513.44,321.1 L513.66,321.15 L513.89,321.21 L514.11,321.26 L514.33,321.31 L514.55,321.37 L514.77,321.42 L514.99,321.47 L515.21,321.52 L515.43,321.57 L515.65,321.62 L515.87,321.66 L516.09,321.71 L516.31,321.76 L516.53,321.8 L516.76,321.84 L516.98,321.89 L517.2,321.93 L517.42,321.97 L517.64,322.01 L517.86,322.04 L518.08,322.08 L518.3,322.12 L518.52,322.15 L518.74,322.18 L518.96,322.21 L519.18,322.25 L519.4,322.27 L519.63,322.3 L519.85,322.33 L520.07,322.36 L520.29,322.39 L520.51,322.41 L520.73,322.44 L520.95,322.46 L521.17,322.49 L521.39,322.51 L521.61,322.53 L521.83,322.56 L522.05,322.58 L522.27,322.6 L522.5,322.62 L522.72,322.65 L522.94,322.67 L523.16,322.69 L523.38,322.71 L523.6,322.73 L523.82,322.75 L524.04,322.77 L524.26,322.79 L524.48,322.81 L524.7,322.82 L524.92,322.84 L525.14,322.86 L525.37,322.88 L525.59,322.9 L525.81,322.92 L526.03,322.94 L526.25,322.95 L526.47,322.97 L526.69,322.99 L526.91,323.01 L527.13,323.03 L527.35,323.04 L527.57,323.06 L527.79,323.08 L528.01,323.1 L528.24,323.12 L528.46,323.14 L528.68,323.16 L528.9,323.18 L529.12,323.2 L529.34,323.22 L529.56,323.24 L529.78,323.26 L530,323.28 L530.22,323.3 L530.44,323.32 L530.66,323.34 L530.88,323.37 L531.11,323.39 L531.33,323.41 L531.55,323.44 L531.77,323.47 L531.99,323.49 L532.21,323.52 L532.43,323.55 L532.65,323.57 L532.87,323.6 L533.09,323.63 L533.31,323.66 L533.53,323.68 L533.75,323.71 L533.98,323.74 L534.2,323.77 L534.42,323.8 L534.64,323.82 L534.86,323.85 L535.08,323.88 L535.3,323.91 L535.52,323.93 L535.74,323.96 L535.96,323.99 L536.18,324.01 L536.4,324.04 L536.62,324.06 L536.85,324.08 L537.07,324.11 L537.29,324.13 L537.51,324.15 L537.73,324.17 L537.95,324.19 L538.17,324.21 L538.39,324.23 L538.61,324.24 L538.83,324.26 L539.05,324.27 L539.27,324.29 L539.49,324.3 L539.72,324.31 L539.94,324.32 L540.16,324.33 L540.38,324.33 L540.6,324.34 L540.82,324.34 L541.04,324.34 L541.26,324.34 L541.48,324.34 L541.7,324.34 L541.92,324.34 L542.14,324.33 L542.36,324.33 L542.58,324.32 L542.81,324.32 L543.03,324.31 L543.25,324.3 L543.47,324.29 L543.69,324.28 L543.91,324.27 L544.13,324.26 L544.35,324.25 L544.57,324.24 L544.79,324.23 L545.01,324.22 L545.23,324.21 L545.45,324.2 L545.68,324.19 L545.9,324.17 L546.12,324.16 L546.34,324.15 L546.56,324.14 L546.78,324.13 L547,324.11 L547.22,324.1 L547.44,324.09 L547.66,324.07 L547.88,324.06 L548.1,324.04 L548.32,324.02 L548.55,324.01 L548.77,323.99 L548.99,323.97 L549.21,323.95 L549.43,323.93 L549.65,323.91 L549.87,323.89 L550.09,323.87 L550.31,323.85 L550.53,323.83 L550.75,323.8 L550.97,323.78 L551.19,323.76 L551.42,323.74 L551.64,323.71 L551.86,323.69 L552.08,323.66 L552.3,323.64 L552.52,323.62 L552.74,323.59 L552.96,323.57 L553.18,323.54 L553.4,323.52 L553.62,323.5 L553.84,323.47 L554.06,323.45 L554.29,323.42 L554.51,323.4 L554.73,323.37 L554.95,323.35 L555.17,323.33 L555.39,323.3 L555.61,323.28 L555.83,323.26 L556.05,323.23 L556.27,323.21 L556.49,323.19 L556.71,323.17 L556.93,323.15 L557.16,323.13 L557.38,323.11 L557.6,323.09 L557.82,323.07 L558.04,323.05 L558.26,323.03 L558.48,323.01 L558.7,323 L558.92,322.98 L559.14,322.96 L559.36,322.95 L559.58,322.93 L559.8,322.92 L560.03,322.9 L560.25,322.89 L560.47,322.87 L560.69,322.86 L560.91,322.85 L561.13,322.83 L561.35,322.82 L561.57,322.8 L561.79,322.79 L562.01,322.77 L562.23,322.75 L562.45,322.74 L562.67,322.72 L562.9,322.7 L563.12,322.69 L563.34,322.67 L563.56,322.65 L563.78,322.63 L564,322.61 L564.22,322.58 L564.44,322.56 L564.66,322.54 L564.88,322.51 L565.1,322.48 L565.32,322.46 L565.54,322.43 L565.77,322.39 L565.99,322.35 L566.21,322.31 L566.43,322.27 L566.65,322.22 L566.87,322.17 L567.09,322.11 L567.31,322.05 L567.53,321.99 L567.75,321.93 L567.97,321.86 L568.19,321.79 L568.41,321.72 L568.64,321.64 L568.86,321.56 L569.08,321.48 L569.3,321.4 L569.52,321.32 L569.74,321.23 L569.96,321.14 L570.18,321.05 L570.4,320.96 L570.62,320.87 L570.84,320.78 L571.06,320.68 L571.28,320.59 L571.51,320.49 L571.73,320.4 L571.95,320.3 L572.17,320.2 L572.39,320.1 L572.61,320 L572.83,319.9 L573.05,319.8 L573.27,319.71 L573.49,319.61 L573.71,319.51 L573.93,319.41 L574.15,319.31 L574.38,319.22 L574.6,319.12 L574.82,319.01 L575.04,318.9 L575.26,318.79 L575.48,318.68 L575.7,318.56 L575.92,318.44 L576.14,318.32 L576.36,318.2 L576.58,318.07 L576.8,317.95 L577.02,317.82 L577.25,317.69 L577.47,317.55 L577.69,317.42 L577.91,317.28 L578.13,317.15 L578.35,317.01 L578.57,316.88 L578.79,316.74 L579.01,316.6 L579.23,316.46 L579.45,316.33 L579.67,316.19 L579.89,316.05 L580.12,315.92 L580.34,315.78 L580.56,315.65 L580.78,315.52 L581,315.39 L581.22,315.26 L581.44,315.13 L581.66,315 L581.88,314.88 L582.1,314.76 L582.32,314.64 L582.54,314.52 L582.76,314.41 L582.99,314.3 L583.21,314.19 L583.43,314.08 L583.65,313.98 L583.87,313.88 L584.09,313.78 L584.31,313.68 L584.53,313.58 L584.75,313.48 L584.97,313.37 L585.19,313.27 L585.41,313.17 L585.63,313.07 L585.86,312.97 L586.08,312.87 L586.3,312.77 L586.52,312.67 L586.74,312.57 L586.96,312.48 L587.18,312.38 L587.4,312.29 L587.62,312.2 L587.84,312.12 L588.06,312.03 L588.28,311.95 L588.5,311.87 L588.73,311.79 L588.95,311.72 L589.17,311.65 L589.39,311.58 L589.61,311.52 L589.83,311.46 L590.05,311.41 L590.27,311.36 L590.49,311.31 L590.71,311.27 L590.93,311.23 L591.15,311.19 L591.37,311.15 L591.6,311.12 L591.82,311.08 L592.04,311.04 L592.26,311.01 L592.48,310.97 L592.7,310.94 L592.92,310.91 L593.14,310.87 L593.36,310.84 L593.58,310.81 L593.8,310.79 L594.02,310.76 L594.24,310.74 L594.47,310.72 L594.69,310.7 L594.91,310.68 L595.13,310.66 L595.35,310.65 L595.57,310.64 L595.79,310.63 L596.01,310.62 L596.23,310.62 L596.45,310.62 L596.67,310.62 L596.89,310.62 L597.11,310.62 L597.34,310.62 L597.56,310.62 L597.78,310.62 L598,310.62 L598.22,310.62 L598.44,310.62 L598.66,310.62 L598.88,310.62 L599.1,310.62 L599.32,310.62 L599.54,310.62 L599.76,310.62 L599.98,310.62 L600.21,310.62 L600.43,310.62 L600.65,310.62 L600.87,310.62 L601.09,310.62 L601.31,310.62 L601.53,310.62 L601.75,310.62 L601.97,310.62 L602.19,310.62 L602.41,310.62 L602.63,310.62 L602.85,310.62 L603.08,310.62 L603.3,310.62 L603.52,310.62 L603.74,310.62 L603.96,310.62 L604.18,310.62 L604.4,310.62 L604.62,310.62 L604.84,310.62 L605.06,310.62 L605.28,310.62 L605.5,310.62 L605.72,310.62 L605.95,310.62 L606.17,310.62 L606.39,310.62 L606.61,310.62 L606.83,310.62 L607.05,310.62 L607.27,310.62 L607.49,310.62 L607.71,310.62 L607.93,310.62 L608.15,310.62 L608.37,310.62 L608.59,310.62 L608.82,310.62 L609.04,310.62 L609.26,310.62 L609.48,310.62 L609.7,310.62 L609.92,310.62 L610.14,310.62 L610.36,310.62 L610.58,310.62 L610.8,310.62 L611.02,310.62 L611.24,310.62 L611.46,310.62 L611.69,310.62 L611.91,310.62 L612.13,310.62 L612.35,310.62 L612.57,310.62 L612.79,310.62 L613.01,310.62 L613.23,310.62 L613.45,310.62 L613.67,310.62 L613.89,310.62 L614.11,310.62 L614.33,310.62 L614.56,310.62 L614.78,310.62 L615,310.62 L615.22,310.62 L615.44,310.62 L615.66,310.62 L615.88,310.62 L616.1,310.62 L616.32,310.62 L616.54,310.62 L616.76,310.62 L616.98,310.62 L617.2,310.62 L617.43,310.62 L617.65,310.62 L617.87,310.62 L618.09,310.62 L618.31,310.62 L618.53,310.62 L618.75,310.62 L618.97,310.62 L619.19,310.62 L619.41,310.62 L619.63,310.62 L619.85,310.62 L620.07,310.62 L620.3,310.62 L620.52,310.62 L620.74,310.62 L620.96,310.62 L621.18,310.62 L621.4,310.62 L621.62,310.62 L621.84,310.62 L622.06,310.62 L622.28,310.62 L622.5,310.62 L622.72,310.62 L622.94,310.62 L623.17,310.62 L623.39,310.62 L623.61,310.62 L623.83,310.62 L624.05,310.62 L624.27,310.62 L624.49,310.62 L624.71,310.62 L624.93,310.62 L625.15,310.62 L625.37,310.62 L625.59,310.62 L625.81,310.62 L626.04,310.62 L626.26,310.62 L626.48,310.62 L626.7,310.62 L626.92,310.62 L627.14,310.62 L627.36,310.62 L627.58,310.62 L627.8,310.62 L628.02,310.62 L628.24,310.62 L628.46,310.62 L628.68,310.62 L628.91,310.62 L629.13,310.62 L629.35,310.62 L629.57,310.62 L629.79,310.62 L630.01,310.62 L630.23,310.62 L630.45,310.62 L630.67,310.62 L630.89,310.62 L631.11,310.62 L631.33,310.62 L631.55,310.62 L631.77,310.62 L632,310.62 L632.22,310.62 L632.44,310.62 L632.66,310.62 L632.88,310.62 L633.1,310.62 L633.32,310.62 L633.54,310.62 L633.76,310.62 L633.98,310.62 L634.2,310.62 L634.42,310.62 L634.64,310.62 L634.87,310.62 L635.09,310.62 L635.31,310.62 L635.53,310.62 L635.75,310.62 L635.97,310.62 L636.19,310.62 L636.41,310.62 L636.63,310.62 L636.85,310.62 L637.07,310.62 L637.29,310.62 L637.51,310.62 L637.74,310.62 L637.96,310.62 L638.18,310.62 L638.4,310.62 L638.62,310.62 L638.84,310.62 L639.06,310.62 L639.28,310.62 L639.5,310.62 L639.72,310.62 L639.94,310.62 L640.16,310.62 L640.38,310.62 L640.61,310.62 L640.83,310.62 L641.05,310.62 L641.27,310.62 L641.49,310.62 L641.71,310.62 L641.93,310.62 L642.15,310.62 L642.37,310.62 L642.59,310.62 L642.81,310.62 L643.03,310.62 L643.25,310.62 L643.48,310.62 L643.7,310.62 L643.92,310.62 L644.14,310.62 L644.36,310.62 L644.58,310.62 L644.8,310.62 L645.02,310.62 L645.24,310.62 L645.46,310.62 L645.68,310.62 L645.9,310.62 L646.12,310.62 L646.35,310.62 L646.57,310.62 L646.79,310.62 L647.01,310.62 L647.23,310.62 L647.45,310.62 L647.67,310.62 L647.89,310.62 L648.11,310.62 L648.33,310.62 L648.55,310.62 L648.77,310.62 L648.99,310.62 L649.22,310.62 L649.44,310.62 L649.66,310.62 L649.88,310.62 L650.1,310.62 L650.32,310.62 L650.54,310.62 L650.76,310.62 L650.98,310.62 L651.2,310.62 L651.42,310.62 L651.64,310.62 L651.86,310.62 L652.09,310.62 L652.31,310.62 L652.53,310.62 L652.75,310.62 L652.97,310.62 L653.19,310.62 L653.41,310.62 L653.63,310.62 L653.85,310.62 L654.07,310.62 L654.29,310.62 L654.51,310.62 L654.73,310.62 L654.96,310.62 L655.18,310.62 L655.4,310.62 L655.62,310.62 L655.84,310.62 L656.06,310.62 L656.28,310.62 L656.5,310.62 L656.72,310.62 L656.94,310.62 L657.16,310.62 L657.38,310.62 L657.6,310.62 L657.83,310.62 L658.05,310.62 L658.27,310.62 L658.49,310.62 L658.71,310.62 L658.93,310.62 L659.15,310.62 L659.37,310.62 L659.59,310.62 L659.81,310.62 L660.03,310.62 L660.25,310.62 L660.47,310.62 L660.7,310.62 L660.92,310.62 L661.14,310.62 L661.36,310.62 L661.58,310.62 L661.8,310.62 L662.02,310.62 L662.24,310.62 L662.46,310.62 L662.68,310.62 L662.9,310.62 L663.12,310.62 L663.34,310.62 L663.57,310.62 L663.79,310.62 L664.01,310.62 L664.23,310.62 L664.45,310.62 L664.67,310.62 L664.89,310.62 L665.11,310.62 L665.33,310.62 L665.55,310.62 L665.77,310.62 L665.99,310.62 L666.21,310.62 L666.44,310.62 L666.66,310.62 L666.88,310.62 L667.1,310.62 L667.32,310.62 L667.54,310.62 L667.76,310.62 L667.98,310.62 L668.2,310.62 L668.42,310.62 L668.64,310.62 L668.86,310.62 L669.08,310.62 L669.31,310.62 L669.53,310.62 L669.75,310.62 L669.97,310.62 L670.19,310.62 L670.41,310.62 L670.63,310.62 L670.85,310.62 L671.07,310.62 L671.29,310.62 L671.51,310.62 L671.73,310.62 L671.95,310.62 L672.18,310.62 L672.4,310.62 L672.62,310.62 L672.84,310.62 L673.06,310.62 L673.28,310.62 L673.5,310.62" fill="none" stroke="#f5871f" stroke-width="1.6" stroke-linejoin="round"/>
<path d="M408.8,494.49 L409.02,494.49 L409.24,494.49 L409.46,494.48 L409.68,494.48 L409.9,494.48 L410.12,494.48 L410.35,494.47 L410.57,494.47 L410.79,494.47 L411.01,494.47 L411.23,494.46 L411.45,494.46 L411.67,494.46 L411.89,494.46 L412.11,494.45 L412.33,494.45 L412.55,494.45 L412.77,494.44 L412.99,494.44 L413.22,494.44 L413.44,494.43 L413.66,494.43 L413.88,494.43 L414.1,494.42 L414.32,494.42 L414.54,494.42 L414.76,494.41 L414.98,494.41 L415.2,494.41 L415.42,494.4 L415.64,494.4 L415.86,494.4 L416.09,494.39 L416.31,494.39 L416.53,494.38 L416.75,494.38 L416.97,494.38 L417.19,494.37 L417.41,494.37 L417.63,494.37 L417.85,494.36 L418.07,494.36 L418.29,494.35 L418.51,494.35 L418.73,494.34 L418.96,494.34 L419.18,494.34 L419.4,494.33 L419.62,494.33 L419.84,494.32 L420.06,494.32 L420.28,494.31 L420.5,494.31 L420.72,494.31 L420.94,494.3 L421.16,494.3 L421.38,494.29 L421.6,494.29 L421.83,494.28 L422.05,494.28 L422.27,494.27 L422.49,494.27 L422.71,494.26 L422.93,494.26 L423.15,494.25 L423.37,494.25 L423.59,494.24 L423.81,494.24 L424.03,494.23 L424.25,494.23 L424.47,494.22 L424.7,494.22 L424.92,494.21 L425.14,494.21 L425.36,494.2 L425.58,494.2 L425.8,494.19 L426.02,494.19 L426.24,494.18 L426.46,494.18 L426.68,494.17 L426.9,494.17 L427.12,494.16 L427.34,494.16 L427.57,494.15 L427.79,494.14 L428.01,494.14 L428.23,494.13 L428.45,494.13 L428.67,494.12 L428.89,494.12 L429.11,494.11 L429.33,494.11 L429.55,494.1 L429.77,494.1 L429.99,494.09 L430.21,494.08 L430.44,494.08 L430.66,494.07 L430.88,494.07 L431.1,494.06 L431.32,494.06 L431.54,494.05 L431.76,494.05 L431.98,494.04 L432.2,494.03 L432.42,494.03 L432.64,494.02 L432.86,494.02 L433.08,494.01 L433.31,494.01 L433.53,494 L433.75,493.99 L433.97,493.99 L434.19,493.98 L434.41,493.98 L434.63,493.97 L434.85,493.97 L435.07,493.96 L435.29,493.95 L435.51,493.95 L435.73,493.94 L435.95,493.94 L436.18,493.93 L436.4,493.92 L436.62,493.92 L436.84,493.91 L437.06,493.91 L437.28,493.9 L437.5,493.89 L437.72,493.89 L437.94,493.88 L438.16,493.87 L438.38,493.87 L438.6,493.86 L438.82,493.85 L439.05,493.85 L439.27,493.84 L439.49,493.83 L439.71,493.83 L439.93,493.82 L440.15,493.81 L440.37,493.81 L440.59,493.8 L440.81,493.79 L441.03,493.79 L441.25,493.78 L441.47,493.77 L441.69,493.76 L441.92,493.76 L442.14,493.75 L442.36,493.74 L442.58,493.73 L442.8,493.72 L443.02,493.72 L443.24,493.71 L443.46,493.7 L443.68,493.69 L443.9,493.68 L444.12,493.67 L444.34,493.67 L444.56,493.66 L444.79,493.65 L445.01,493.64 L445.23,493.63 L445.45,493.62 L445.67,493.61 L445.89,493.6 L446.11,493.59 L446.33,493.58 L446.55,493.57 L446.77,493.56 L446.99,493.55 L447.21,493.54 L447.43,493.53 L447.66,493.52 L447.88,493.51 L448.1,493.5 L448.32,493.49 L448.54,493.48 L448.76,493.47 L448.98,493.45 L449.2,493.44 L449.42,493.43 L449.64,493.42 L449.86,493.41 L450.08,493.39 L450.3,493.38 L450.53,493.37 L450.75,493.36 L450.97,493.34 L451.19,493.33 L451.41,493.32 L451.63,493.31 L451.85,493.29 L452.07,493.28 L452.29,493.26 L452.51,493.25 L452.73,493.24 L452.95,493.22 L453.17,493.21 L453.39,493.19 L453.62,493.17 L453.84,493.16 L454.06,493.14 L454.28,493.12 L454.5,493.1 L454.72,493.08 L454.94,493.06 L455.16,493.04 L455.38,493.01 L455.6,492.99 L455.82,492.97 L456.04,492.94 L456.26,492.91 L456.49,492.89 L456.71,492.86 L456.93,492.83 L457.15,492.8 L457.37,492.77 L457.59,492.74 L457.81,492.71 L458.03,492.68 L458.25,492.65 L458.47,492.61 L458.69,492.58 L458.91,492.54 L459.13,492.51 L459.36,492.47 L459.58,492.43 L459.8,492.4 L460.02,492.36 L460.24,492.32 L460.46,492.28 L460.68,492.24 L460.9,492.19 L461.12,492.15 L461.34,492.11 L461.56,492.06 L461.78,492.02 L462,491.97 L462.23,491.92 L462.45,491.88 L462.67,491.83 L462.89,491.78 L463.11,491.73 L463.33,491.68 L463.55,491.63 L463.77,491.58 L463.99,491.52 L464.21,491.47 L464.43,491.41 L464.65,491.36 L464.87,491.3 L465.1,491.23 L465.32,491.17 L465.54,491.1 L465.76,491.02 L465.98,490.94 L466.2,490.86 L466.42,490.77 L466.64,490.68 L466.86,490.58 L467.08,490.47 L467.3,490.36 L467.52,490.24 L467.74,490.11 L467.97,489.98 L468.19,489.83 L468.41,489.68 L468.63,489.51 L468.85,489.3 L469.07,489.05 L469.29,488.77 L469.51,488.44 L469.73,488.08 L469.95,487.67 L470.17,487.22 L470.39,486.73 L470.61,486.2 L470.84,485.63 L471.06,485.02 L471.28,484.36 L471.5,483.67 L471.72,482.93 L471.94,482.14 L472.16,481.32 L472.38,480.45 L472.6,479.53 L472.82,478.41 L473.04,476.72 L473.26,474.61 L473.48,472.22 L473.71,469.71 L473.93,467.24 L474.15,464.96 L474.37,463.01 L474.59,461.22 L474.81,459.5 L475.03,457.84 L475.25,456.25 L475.47,454.72 L475.69,453.26 L475.91,451.83 L476.13,450.42 L476.35,449.07 L476.58,447.85 L476.8,446.79 L477.02,445.95 L477.24,445.28 L477.46,444.71 L477.68,444.19 L477.9,443.67 L478.12,443.1 L478.34,442.4 L478.56,441.53 L478.78,440.39 L479,438.82 L479.22,436.78 L479.45,434.18 L479.67,430.28 L479.89,425.01 L480.11,418.62 L480.33,411.38 L480.55,401.84 L480.77,388.01 L480.99,373.1 L481.21,360.51 L481.43,353.32 L481.65,348.5 L481.87,344.23 L482.09,340.5 L482.32,337.26 L482.54,334.49 L482.76,332.15 L482.98,330.21 L483.2,328.65 L483.42,327.36 L483.64,326.19 L483.86,325.13 L484.08,324.16 L484.3,323.28 L484.52,322.47 L484.74,321.73 L484.96,321.06 L485.19,320.44 L485.41,319.86 L485.63,319.31 L485.85,318.79 L486.07,318.29 L486.29,317.79 L486.51,317.31 L486.73,316.83 L486.95,316.36 L487.17,315.9 L487.39,315.46 L487.61,315.03 L487.83,314.61 L488.06,314.21 L488.28,313.82 L488.5,313.45 L488.72,313.1 L488.94,312.77 L489.16,312.45 L489.38,312.16 L489.6,311.89 L489.82,311.65 L490.04,311.42 L490.26,311.23 L490.48,311.06 L490.7,310.92 L490.93,310.8 L491.15,310.69 L491.37,310.59 L491.59,310.48 L491.81,310.38 L492.03,310.28 L492.25,310.18 L492.47,310.09 L492.69,310 L492.91,309.9 L493.13,309.82 L493.35,309.73 L493.57,309.65 L493.8,309.56 L494.02,309.48 L494.24,309.41 L494.46,309.33 L494.68,309.26 L494.9,309.19 L495.12,309.12 L495.34,309.05 L495.56,308.99 L495.78,308.93 L496,308.87 L496.22,308.82 L496.44,308.77 L496.67,308.72 L496.89,308.67 L497.11,308.62 L497.33,308.58 L497.55,308.54 L497.77,308.51 L497.99,308.47 L498.21,308.44 L498.43,308.42 L498.65,308.39 L498.87,308.37 L499.09,308.35 L499.31,308.33 L499.54,308.32 L499.76,308.31 L499.98,308.3 L500.2,308.3 L500.42,308.3 L500.64,308.3 L500.86,308.3 L501.08,308.3 L501.3,308.3 L501.52,308.3 L501.74,308.3 L501.96,308.3 L502.18,308.3 L502.41,308.3 L502.63,308.3 L502.85,308.3 L503.07,308.3 L503.29,308.3 L503.51,308.3 L503.73,308.3 L503.95,308.3 L504.17,308.3 L504.39,308.3 L504.61,308.3 L504.83,308.3 L505.05,308.3 L505.28,308.3 L505.5,308.3 L505.72,308.3 L505.94,308.3 L506.16,308.3 L506.38,308.3 L506.6,308.3 L506.82,308.3 L507.04,308.3 L507.26,308.3 L507.48,308.3 L507.7,308.3 L507.92,308.3 L508.15,308.3 L508.37,308.3 L508.59,308.3 L508.81,308.3 L509.03,308.3 L509.25,308.3 L509.47,308.3 L509.69,308.3 L509.91,308.3 L510.13,308.3 L510.35,308.3 L510.57,308.3 L510.79,308.3 L511.02,308.3 L511.24,308.3 L511.46,308.3 L511.68,308.3 L511.9,308.3 L512.12,308.3 L512.34,308.3 L512.56,308.3 L512.78,308.3 L513,308.3 L513.22,308.3 L513.44,308.3 L513.66,308.3 L513.89,308.3 L514.11,308.3 L514.33,308.3 L514.55,308.3 L514.77,308.3 L514.99,308.3 L515.21,308.3 L515.43,308.3 L515.65,308.3 L515.87,308.3 L516.09,308.3 L516.31,308.3 L516.53,308.3 L516.76,308.3 L516.98,308.3 L517.2,308.3 L517.42,308.3 L517.64,308.3 L517.86,308.3 L518.08,308.3 L518.3,308.3 L518.52,308.3 L518.74,308.3 L518.96,308.3 L519.18,308.3 L519.4,308.3 L519.63,308.3 L519.85,308.3 L520.07,308.3 L520.29,308.3 L520.51,308.3 L520.73,308.3 L520.95,308.3 L521.17,308.3 L521.39,308.3 L521.61,308.3 L521.83,308.3 L522.05,308.3 L522.27,308.3 L522.5,308.3 L522.72,308.3 L522.94,308.3 L523.16,308.3 L523.38,308.3 L523.6,308.3 L523.82,308.3 L524.04,308.3 L524.26,308.3 L524.48,308.3 L524.7,308.3 L524.92,308.3 L525.14,308.3 L525.37,308.3 L525.59,308.3 L525.81,308.3 L526.03,308.3 L526.25,308.3 L526.47,308.3 L526.69,308.3 L526.91,308.3 L527.13,308.3 L527.35,308.3 L527.57,308.3 L527.79,308.3 L528.01,308.3 L528.24,308.3 L528.46,308.3 L528.68,308.3 L528.9,308.3 L529.12,308.3 L529.34,308.3 L529.56,308.3 L529.78,308.3 L530,308.3 L530.22,308.3 L530.44,308.3 L530.66,308.3 L530.88,308.3 L531.11,308.3 L531.33,308.3 L531.55,308.3 L531.77,308.3 L531.99,308.3 L532.21,308.3 L532.43,308.3 L532.65,308.3 L532.87,308.3 L533.09,308.3 L533.31,308.3 L533.53,308.3 L533.75,308.3 L533.98,308.3 L534.2,308.3 L534.42,308.3 L534.64,308.3 L534.86,308.3 L535.08,308.3 L535.3,308.3 L535.52,308.3 L535.74,308.3 L535.96,308.3 L536.18,308.3 L536.4,308.3 L536.62,308.3 L536.85,308.3 L537.07,308.3 L537.29,308.3 L537.51,308.3 L537.73,308.3 L537.95,308.3 L538.17,308.3 L538.39,308.3 L538.61,308.3 L538.83,308.3 L539.05,308.3 L539.27,308.3 L539.49,308.3 L539.72,308.3 L539.94,308.3 L540.16,308.3 L540.38,308.3 L540.6,308.3 L540.82,308.3 L541.04,308.3 L541.26,308.3 L541.48,308.3 L541.7,308.3 L541.92,308.3 L542.14,308.3 L542.36,308.3 L542.58,308.3 L542.81,308.3 L543.03,308.3 L543.25,308.3 L543.47,308.3 L543.69,308.3 L543.91,308.3 L544.13,308.3 L544.35,308.3 L544.57,308.3 L544.79,308.3 L545.01,308.3 L545.23,308.3 L545.45,308.3 L545.68,308.3 L545.9,308.3 L546.12,308.3 L546.34,308.3 L546.56,308.3 L546.78,308.3 L547,308.3 L547.22,308.3 L547.44,308.3 L547.66,308.3 L547.88,308.3 L548.1,308.3 L548.32,308.3 L548.55,308.3 L548.77,308.3 L548.99,308.3 L549.21,308.3 L549.43,308.3 L549.65,308.3 L549.87,308.3 L550.09,308.3 L550.31,308.3 L550.53,308.3 L550.75,308.3 L550.97,308.3 L551.19,308.3 L551.42,308.3 L551.64,308.3 L551.86,308.3 L552.08,308.3 L552.3,308.3 L552.52,308.3 L552.74,308.3 L552.96,308.3 L553.18,308.3 L553.4,308.3 L553.62,308.3 L553.84,308.3 L554.06,308.3 L554.29,308.3 L554.51,308.3 L554.73,308.3 L554.95,308.3 L555.17,308.3 L555.39,308.3 L555.61,308.3 L555.83,308.3 L556.05,308.3 L556.27,308.3 L556.49,308.3 L556.71,308.3 L556.93,308.3 L557.16,308.3 L557.38,308.3 L557.6,308.3 L557.82,308.3 L558.04,308.3 L558.26,308.3 L558.48,308.3 L558.7,308.3 L558.92,308.3 L559.14,308.3 L559.36,308.3 L559.58,308.3 L559.8,308.3 L560.03,308.3 L560.25,308.3 L560.47,308.3 L560.69,308.3 L560.91,308.3 L561.13,308.3 L561.35,308.3 L561.57,308.3 L561.79,308.3 L562.01,308.3 L562.23,308.3 L562.45,308.3 L562.67,308.3 L562.9,308.3 L563.12,308.3 L563.34,308.3 L563.56,308.3 L563.78,308.3 L564,308.3 L564.22,308.3 L564.44,308.3 L564.66,308.3 L564.88,308.3 L565.1,308.3 L565.32,308.3 L565.54,308.3 L565.77,308.3 L565.99,308.3 L566.21,308.3 L566.43,308.3 L566.65,308.3 L566.87,308.3 L567.09,308.3 L567.31,308.3 L567.53,308.3 L567.75,308.3 L567.97,308.3 L568.19,308.3 L568.41,308.3 L568.64,308.3 L568.86,308.3 L569.08,308.3 L569.3,308.3 L569.52,308.3 L569.74,308.3 L569.96,308.3 L570.18,308.3 L570.4,308.3 L570.62,308.3 L570.84,308.3 L571.06,308.3 L571.28,308.3 L571.51,308.3 L571.73,308.3 L571.95,308.3 L572.17,308.3 L572.39,308.3 L572.61,308.3 L572.83,308.3 L573.05,308.3 L573.27,308.3 L573.49,308.3 L573.71,308.3 L573.93,308.3 L574.15,308.3 L574.38,308.3 L574.6,308.3 L574.82,308.3 L575.04,308.3 L575.26,308.3 L575.48,308.3 L575.7,308.3 L575.92,308.3 L576.14,308.3 L576.36,308.3 L576.58,308.3 L576.8,308.3 L577.02,308.3 L577.25,308.3 L577.47,308.3 L577.69,308.3 L577.91,308.3 L578.13,308.3 L578.35,308.3 L578.57,308.3 L578.79,308.3 L579.01,308.3 L579.23,308.3 L579.45,308.3 L579.67,308.3 L579.89,308.3 L580.12,308.3 L580.34,308.3 L580.56,308.3 L580.78,308.3 L581,308.3 L581.22,308.3 L581.44,308.3 L581.66,308.3 L581.88,308.3 L582.1,308.3 L582.32,308.3 L582.54,308.3 L582.76,308.3 L582.99,308.3 L583.21,308.3 L583.43,308.3 L583.65,308.3 L583.87,308.3 L584.09,308.31 L584.31,308.32 L584.53,308.34 L584.75,308.36 L584.97,308.39 L585.19,308.42 L585.41,308.45 L585.63,308.49 L585.86,308.53 L586.08,308.58 L586.3,308.63 L586.52,308.68 L586.74,308.74 L586.96,308.8 L587.18,308.86 L587.4,308.93 L587.62,308.99 L587.84,309.07 L588.06,309.14 L588.28,309.22 L588.5,309.3 L588.73,309.39 L588.95,309.48 L589.17,309.56 L589.39,309.66 L589.61,309.75 L589.83,309.85 L590.05,309.95 L590.27,310.05 L590.49,310.15 L590.71,310.25 L590.93,310.36 L591.15,310.47 L591.37,310.58 L591.6,310.69 L591.82,310.8 L592.04,310.92 L592.26,311.05 L592.48,311.2 L592.7,311.37 L592.92,311.56 L593.14,311.76 L593.36,311.98 L593.58,312.21 L593.8,312.46 L594.02,312.72 L594.24,313 L594.47,313.28 L594.69,313.58 L594.91,313.89 L595.13,314.2 L595.35,314.53 L595.57,314.87 L595.79,315.21 L596.01,315.57 L596.23,315.93 L596.45,316.3 L596.67,316.67 L596.89,317.05 L597.11,317.43 L597.34,317.82 L597.56,318.21 L597.78,318.6 L598,319 L598.22,319.4 L598.44,319.8 L598.66,320.2 L598.88,320.59 L599.1,320.98 L599.32,321.38 L599.54,321.79 L599.76,322.2 L599.98,322.63 L600.21,323.08 L600.43,323.55 L600.65,324.05 L600.87,324.57 L601.09,325.13 L601.31,325.72 L601.53,326.36 L601.75,327.04 L601.97,327.76 L602.19,328.54 L602.41,329.37 L602.63,330.26 L602.85,331.47 L603.08,333.05 L603.3,334.98 L603.52,337.23 L603.74,339.76 L603.96,342.56 L604.18,345.58 L604.4,348.8 L604.62,352.18 L604.84,355.7 L605.06,359.32 L605.28,363.01 L605.5,366.75 L605.72,370.49 L605.95,374.22 L606.17,377.9 L606.39,381.5 L606.61,384.98 L606.83,388.33 L607.05,391.5 L607.27,394.46 L607.49,397.2 L607.71,399.67 L607.93,401.99 L608.15,404.2 L608.37,406.32 L608.59,408.36 L608.82,410.34 L609.04,412.25 L609.26,414.13 L609.48,415.97 L609.7,417.78 L609.92,419.59 L610.14,421.4 L610.36,423.23 L610.58,425.07 L610.8,426.96 L611.02,428.89 L611.24,430.88 L611.46,432.95 L611.69,435.09 L611.91,437.33 L612.13,439.68 L612.35,442.25 L612.57,445.23 L612.79,448.51 L613.01,451.95 L613.23,455.44 L613.45,458.84 L613.67,462.03 L613.89,464.88 L614.11,467.27 L614.33,469.06 L614.56,470.35 L614.78,471.55 L615,472.68 L615.22,473.73 L615.44,474.73 L615.66,475.65 L615.88,476.52 L616.1,477.33 L616.32,478.08 L616.54,478.78 L616.76,479.42 L616.98,480.02 L617.2,480.57 L617.43,481.07 L617.65,481.54 L617.87,481.97 L618.09,482.36 L618.31,482.73 L618.53,483.1 L618.75,483.45 L618.97,483.79 L619.19,484.13 L619.41,484.45 L619.63,484.77 L619.85,485.07 L620.07,485.37 L620.3,485.65 L620.52,485.93 L620.74,486.2 L620.96,486.45 L621.18,486.7 L621.4,486.94 L621.62,487.17 L621.84,487.39 L622.06,487.61 L622.28,487.81 L622.5,488.01 L622.72,488.19 L622.94,488.37 L623.17,488.54 L623.39,488.7 L623.61,488.86 L623.83,489 L624.05,489.14 L624.27,489.27 L624.49,489.39 L624.71,489.51 L624.93,489.62 L625.15,489.72 L625.37,489.82 L625.59,489.92 L625.81,490.01 L626.04,490.11 L626.26,490.2 L626.48,490.3 L626.7,490.39 L626.92,490.48 L627.14,490.57 L627.36,490.65 L627.58,490.74 L627.8,490.82 L628.02,490.91 L628.24,490.99 L628.46,491.07 L628.68,491.15 L628.91,491.23 L629.13,491.3 L629.35,491.38 L629.57,491.45 L629.79,491.52 L630.01,491.59 L630.23,491.66 L630.45,491.73 L630.67,491.8 L630.89,491.86 L631.11,491.92 L631.33,491.99 L631.55,492.05 L631.77,492.11 L632,492.16 L632.22,492.22 L632.44,492.28 L632.66,492.33 L632.88,492.38 L633.1,492.43 L633.32,492.48 L633.54,492.53 L633.76,492.58 L633.98,492.62 L634.2,492.67 L634.42,492.71 L634.64,492.75 L634.87,492.79 L635.09,492.83 L635.31,492.87 L635.53,492.9 L635.75,492.94 L635.97,492.97 L636.19,493 L636.41,493.03 L636.63,493.06 L636.85,493.09 L637.07,493.11 L637.29,493.14 L637.51,493.16 L637.74,493.18 L637.96,493.2 L638.18,493.22 L638.4,493.24 L638.62,493.26 L638.84,493.27 L639.06,493.29 L639.28,493.31 L639.5,493.33 L639.72,493.34 L639.94,493.36 L640.16,493.38 L640.38,493.4 L640.61,493.41 L640.83,493.43 L641.05,493.45 L641.27,493.46 L641.49,493.48 L641.71,493.5 L641.93,493.51 L642.15,493.53 L642.37,493.54 L642.59,493.56 L642.81,493.58 L643.03,493.59 L643.25,493.61 L643.48,493.62 L643.7,493.64 L643.92,493.65 L644.14,493.67 L644.36,493.68 L644.58,493.7 L644.8,493.71 L645.02,493.73 L645.24,493.74 L645.46,493.76 L645.68,493.77 L645.9,493.79 L646.12,493.8 L646.35,493.82 L646.57,493.83 L646.79,493.84 L647.01,493.86 L647.23,493.87 L647.45,493.89 L647.67,493.9 L647.89,493.91 L648.11,493.93 L648.33,493.94 L648.55,493.95 L648.77,493.96 L648.99,493.98 L649.22,493.99 L649.44,494 L649.66,494.02 L649.88,494.03 L650.1,494.04 L650.32,494.05 L650.54,494.06 L650.76,494.08 L650.98,494.09 L651.2,494.1 L651.42,494.11 L651.64,494.12 L651.86,494.13 L652.09,494.15 L652.31,494.16 L652.53,494.17 L652.75,494.18 L652.97,494.19 L653.19,494.2 L653.41,494.21 L653.63,494.22 L653.85,494.23 L654.07,494.24 L654.29,494.25 L654.51,494.26 L654.73,494.27 L654.96,494.28 L655.18,494.29 L655.4,494.3 L655.62,494.31 L655.84,494.32 L656.06,494.33 L656.28,494.34 L656.5,494.35 L656.72,494.36 L656.94,494.37 L657.16,494.38 L657.38,494.38 L657.6,494.39 L657.83,494.4 L658.05,494.41 L658.27,494.42 L658.49,494.43 L658.71,494.43 L658.93,494.44 L659.15,494.45 L659.37,494.46 L659.59,494.46 L659.81,494.47 L660.03,494.48 L660.25,494.49 L660.47,494.49 L660.7,494.5 L660.92,494.51 L661.14,494.51 L661.36,494.52 L661.58,494.53 L661.8,494.53 L662.02,494.54 L662.24,494.55 L662.46,494.55 L662.68,494.56 L662.9,494.56 L663.12,494.57 L663.34,494.57 L663.57,494.58 L663.79,494.59 L664.01,494.59 L664.23,494.6 L664.45,494.6 L664.67,494.61 L664.89,494.61 L665.11,494.61 L665.33,494.62 L665.55,494.62 L665.77,494.63 L665.99,494.63 L666.21,494.64 L666.44,494.64 L666.66,494.64 L666.88,494.65 L667.1,494.65 L667.32,494.65 L667.54,494.66 L667.76,494.66 L667.98,494.66 L668.2,494.67 L668.42,494.67 L668.64,494.67 L668.86,494.67 L669.08,494.68 L669.31,494.68 L669.53,494.68 L669.75,494.68 L669.97,494.69 L670.19,494.69 L670.41,494.69 L670.63,494.69 L670.85,494.69 L671.07,494.69 L671.29,494.7 L671.51,494.7 L671.73,494.7 L671.95,494.7 L672.18,494.7 L672.4,494.7 L672.62,494.7 L672.84,494.7 L673.06,494.7 L673.28,494.7 L673.5,494.7" fill="none" stroke="#1aea1a" stroke-width="1.6" stroke-linejoin="round"/>
<path d="M408.8,517.29 L409.02,517.29 L409.24,517.29 L409.46,517.29 L409.68,517.29 L409.9,517.29 L410.12,517.29 L410.35,517.29 L410.57,517.29 L410.79,517.29 L411.01,517.29 L411.23,517.29 L411.45,517.29 L411.67,517.29 L411.89,517.29 L412.11,517.29 L412.33,517.29 L412.55,517.29 L412.77,517.29 L412.99,517.29 L413.22,517.29 L413.44,517.29 L413.66,517.29 L413.88,517.29 L414.1,517.29 L414.32,517.29 L414.54,517.29 L414.76,517.29 L414.98,517.29 L415.2,517.29 L415.42,517.29 L415.64,517.29 L415.86,517.29 L416.09,517.29 L416.31,517.29 L416.53,517.29 L416.75,517.29 L416.97,517.29 L417.19,517.29 L417.41,517.29 L417.63,517.29 L417.85,517.29 L418.07,517.29 L418.29,517.29 L418.51,517.29 L418.73,517.29 L418.96,517.29 L419.18,517.29 L419.4,517.29 L419.62,517.29 L419.84,517.29 L420.06,517.29 L420.28,517.29 L420.5,517.29 L420.72,517.29 L420.94,517.29 L421.16,517.29 L421.38,517.29 L421.6,517.29 L421.83,517.29 L422.05,517.29 L422.27,517.29 L422.49,517.29 L422.71,517.29 L422.93,517.29 L423.15,517.29 L423.37,517.29 L423.59,517.29 L423.81,517.29 L424.03,517.29 L424.25,517.29 L424.47,517.29 L424.7,517.29 L424.92,517.29 L425.14,517.29 L425.36,517.29 L425.58,517.29 L425.8,517.29 L426.02,517.29 L426.24,517.29 L426.46,517.29 L426.68,517.29 L426.9,517.29 L427.12,517.29 L427.34,517.29 L427.57,517.29 L427.79,517.29 L428.01,517.29 L428.23,517.29 L428.45,517.29 L428.67,517.29 L428.89,517.29 L429.11,517.29 L429.33,517.29 L429.55,517.29 L429.77,517.29 L429.99,517.29 L430.21,517.29 L430.44,517.29 L430.66,517.29 L430.88,517.29 L431.1,517.29 L431.32,517.29 L431.54,517.29 L431.76,517.29 L431.98,517.29 L432.2,517.29 L432.42,517.29 L432.64,517.29 L432.86,517.29 L433.08,517.29 L433.31,517.29 L433.53,517.29 L433.75,517.29 L433.97,517.29 L434.19,517.29 L434.41,517.29 L434.63,517.29 L434.85,517.29 L435.07,517.29 L435.29,517.29 L435.51,517.29 L435.73,517.29 L435.95,517.29 L436.18,517.29 L436.4,517.29 L436.62,517.29 L436.84,517.29 L437.06,517.29 L437.28,517.29 L437.5,517.29 L437.72,517.29 L437.94,517.29 L438.16,517.29 L438.38,517.29 L438.6,517.29 L438.82,517.29 L439.05,517.29 L439.27,517.29 L439.49,517.29 L439.71,517.29 L439.93,517.29 L440.15,517.29 L440.37,517.29 L440.59,517.29 L440.81,517.29 L441.03,517.29 L441.25,517.29 L441.47,517.29 L441.69,517.29 L441.92,517.29 L442.14,517.29 L442.36,517.29 L442.58,517.29 L442.8,517.29 L443.02,517.29 L443.24,517.29 L443.46,517.29 L443.68,517.29 L443.9,517.29 L444.12,517.29 L444.34,517.29 L444.56,517.29 L444.79,517.29 L445.01,517.29 L445.23,517.29 L445.45,517.29 L445.67,517.29 L445.89,517.29 L446.11,517.29 L446.33,517.29 L446.55,517.29 L446.77,517.29 L446.99,517.29 L447.21,517.29 L447.43,517.29 L447.66,517.29 L447.88,517.29 L448.1,517.29 L448.32,517.29 L448.54,517.29 L448.76,517.29 L448.98,517.29 L449.2,517.29 L449.42,517.29 L449.64,517.29 L449.86,517.29 L450.08,517.29 L450.3,517.29 L450.53,517.29 L450.75,517.29 L450.97,517.29 L451.19,517.29 L451.41,517.29 L451.63,517.29 L451.85,517.29 L452.07,517.29 L452.29,517.29 L452.51,517.29 L452.73,517.29 L452.95,517.29 L453.17,517.29 L453.39,517.29 L453.62,517.29 L453.84,517.29 L454.06,517.29 L454.28,517.29 L454.5,517.29 L454.72,517.29 L454.94,517.29 L455.16,517.29 L455.38,517.29 L455.6,517.29 L455.82,517.29 L456.04,517.29 L456.26,517.29 L456.49,517.29 L456.71,517.29 L456.93,517.29 L457.15,517.29 L457.37,517.29 L457.59,517.29 L457.81,517.29 L458.03,517.29 L458.25,517.29 L458.47,517.29 L458.69,517.29 L458.91,517.29 L459.13,517.29 L459.36,517.29 L459.58,517.29 L459.8,517.29 L460.02,517.29 L460.24,517.29 L460.46,517.29 L460.68,517.29 L460.9,517.29 L461.12,517.29 L461.34,517.29 L461.56,517.29 L461.78,517.29 L462,517.29 L462.23,517.29 L462.45,517.29 L462.67,517.29 L462.89,517.29 L463.11,517.29 L463.33,517.29 L463.55,517.29 L463.77,517.29 L463.99,517.29 L464.21,517.29 L464.43,517.29 L464.65,517.29 L464.87,517.29 L465.1,517.29 L465.32,517.29 L465.54,517.29 L465.76,517.29 L465.98,517.29 L466.2,517.29 L466.42,517.29 L466.64,517.29 L466.86,517.29 L467.08,517.29 L467.3,517.29 L467.52,517.29 L467.74,517.29 L467.97,517.29 L468.19,517.29 L468.41,517.29 L468.63,517.29 L468.85,517.29 L469.07,517.29 L469.29,517.29 L469.51,517.29 L469.73,517.29 L469.95,517.29 L470.17,517.29 L470.39,517.29 L470.61,517.29 L470.84,517.29 L471.06,517.29 L471.28,517.29 L471.5,517.29 L471.72,517.29 L471.94,517.29 L472.16,517.29 L472.38,517.29 L472.6,517.29 L472.82,517.29 L473.04,517.29 L473.26,517.29 L473.48,517.29 L473.71,517.29 L473.93,517.29 L474.15,517.29 L474.37,517.29 L474.59,517.29 L474.81,517.29 L475.03,517.29 L475.25,517.29 L475.47,517.29 L475.69,517.29 L475.91,517.29 L476.13,517.29 L476.35,517.29 L476.58,517.29 L476.8,517.29 L477.02,517.18 L477.24,516.72 L477.46,515.95 L477.68,514.9 L477.9,513.62 L478.12,512.14 L478.34,510.45 L478.56,507.31 L478.78,502.73 L479,497.31 L479.22,491.67 L479.45,486.37 L479.67,481.18 L479.89,475.85 L480.11,470.31 L480.33,464.52 L480.55,458.4 L480.77,451.91 L480.99,444.24 L481.21,434.68 L481.43,425.06 L481.65,417.27 L481.87,413.03 L482.09,410.28 L482.32,407.88 L482.54,405.79 L482.76,403.96 L482.98,402.37 L483.2,400.97 L483.42,399.73 L483.64,398.6 L483.86,397.55 L484.08,396.54 L484.3,395.56 L484.52,394.6 L484.74,393.69 L484.96,392.81 L485.19,391.96 L485.41,391.14 L485.63,390.36 L485.85,389.6 L486.07,388.87 L486.29,388.17 L486.51,387.5 L486.73,386.85 L486.95,386.23 L487.17,385.62 L487.39,385.04 L487.61,384.48 L487.83,383.94 L488.06,383.42 L488.28,382.91 L488.5,382.42 L488.72,381.94 L488.94,381.48 L489.16,381.03 L489.38,380.59 L489.6,380.15 L489.82,379.73 L490.04,379.32 L490.26,378.92 L490.48,378.53 L490.7,378.15 L490.93,377.77 L491.15,377.41 L491.37,377.05 L491.59,376.7 L491.81,376.36 L492.03,376.03 L492.25,375.7 L492.47,375.38 L492.69,375.07 L492.91,374.76 L493.13,374.46 L493.35,374.16 L493.57,373.87 L493.8,373.59 L494.02,373.31 L494.24,373.03 L494.46,372.76 L494.68,372.49 L494.9,372.23 L495.12,371.96 L495.34,371.71 L495.56,371.45 L495.78,371.19 L496,370.94 L496.22,370.69 L496.44,370.44 L496.67,370.19 L496.89,369.95 L497.11,369.7 L497.33,369.45 L497.55,369.2 L497.77,368.96 L497.99,368.71 L498.21,368.46 L498.43,368.22 L498.65,367.97 L498.87,367.72 L499.09,367.48 L499.31,367.24 L499.54,366.99 L499.76,366.75 L499.98,366.51 L500.2,366.27 L500.42,366.03 L500.64,365.79 L500.86,365.56 L501.08,365.32 L501.3,365.09 L501.52,364.86 L501.74,364.63 L501.96,364.4 L502.18,364.17 L502.41,363.94 L502.63,363.72 L502.85,363.5 L503.07,363.28 L503.29,363.06 L503.51,362.84 L503.73,362.63 L503.95,362.42 L504.17,362.21 L504.39,362 L504.61,361.79 L504.83,361.59 L505.05,361.39 L505.28,361.19 L505.5,361 L505.72,360.81 L505.94,360.62 L506.16,360.43 L506.38,360.25 L506.6,360.07 L506.82,359.89 L507.04,359.72 L507.26,359.55 L507.48,359.38 L507.7,359.22 L507.92,359.06 L508.15,358.9 L508.37,358.75 L508.59,358.6 L508.81,358.46 L509.03,358.31 L509.25,358.18 L509.47,358.04 L509.69,357.91 L509.91,357.79 L510.13,357.67 L510.35,357.55 L510.57,357.44 L510.79,357.33 L511.02,357.22 L511.24,357.12 L511.46,357.03 L511.68,356.94 L511.9,356.85 L512.12,356.76 L512.34,356.67 L512.56,356.59 L512.78,356.51 L513,356.43 L513.22,356.35 L513.44,356.27 L513.66,356.2 L513.89,356.13 L514.11,356.06 L514.33,355.99 L514.55,355.92 L514.77,355.85 L514.99,355.79 L515.21,355.72 L515.43,355.66 L515.65,355.6 L515.87,355.54 L516.09,355.48 L516.31,355.42 L516.53,355.37 L516.76,355.31 L516.98,355.25 L517.2,355.2 L517.42,355.14 L517.64,355.09 L517.86,355.04 L518.08,354.98 L518.3,354.93 L518.52,354.88 L518.74,354.82 L518.96,354.77 L519.18,354.72 L519.4,354.67 L519.63,354.62 L519.85,354.57 L520.07,354.52 L520.29,354.47 L520.51,354.42 L520.73,354.37 L520.95,354.32 L521.17,354.27 L521.39,354.22 L521.61,354.18 L521.83,354.13 L522.05,354.08 L522.27,354.04 L522.5,353.99 L522.72,353.95 L522.94,353.9 L523.16,353.86 L523.38,353.81 L523.6,353.77 L523.82,353.73 L524.04,353.68 L524.26,353.64 L524.48,353.6 L524.7,353.56 L524.92,353.52 L525.14,353.48 L525.37,353.44 L525.59,353.4 L525.81,353.36 L526.03,353.32 L526.25,353.28 L526.47,353.24 L526.69,353.2 L526.91,353.16 L527.13,353.12 L527.35,353.08 L527.57,353.05 L527.79,353.01 L528.01,352.97 L528.24,352.94 L528.46,352.9 L528.68,352.86 L528.9,352.83 L529.12,352.79 L529.34,352.76 L529.56,352.72 L529.78,352.68 L530,352.65 L530.22,352.61 L530.44,352.58 L530.66,352.54 L530.88,352.51 L531.11,352.47 L531.33,352.43 L531.55,352.39 L531.77,352.35 L531.99,352.32 L532.21,352.28 L532.43,352.24 L532.65,352.2 L532.87,352.16 L533.09,352.12 L533.31,352.08 L533.53,352.04 L533.75,352 L533.98,351.96 L534.2,351.92 L534.42,351.88 L534.64,351.84 L534.86,351.8 L535.08,351.77 L535.3,351.73 L535.52,351.69 L535.74,351.66 L535.96,351.62 L536.18,351.59 L536.4,351.56 L536.62,351.52 L536.85,351.49 L537.07,351.46 L537.29,351.43 L537.51,351.4 L537.73,351.38 L537.95,351.35 L538.17,351.33 L538.39,351.3 L538.61,351.28 L538.83,351.26 L539.05,351.24 L539.27,351.23 L539.49,351.21 L539.72,351.2 L539.94,351.18 L540.16,351.17 L540.38,351.17 L540.6,351.16 L540.82,351.16 L541.04,351.15 L541.26,351.15 L541.48,351.16 L541.7,351.16 L541.92,351.16 L542.14,351.17 L542.36,351.18 L542.58,351.19 L542.81,351.2 L543.03,351.22 L543.25,351.23 L543.47,351.25 L543.69,351.27 L543.91,351.28 L544.13,351.3 L544.35,351.32 L544.57,351.35 L544.79,351.37 L545.01,351.39 L545.23,351.42 L545.45,351.44 L545.68,351.47 L545.9,351.49 L546.12,351.52 L546.34,351.55 L546.56,351.57 L546.78,351.6 L547,351.63 L547.22,351.66 L547.44,351.69 L547.66,351.72 L547.88,351.74 L548.1,351.77 L548.32,351.8 L548.55,351.83 L548.77,351.86 L548.99,351.88 L549.21,351.91 L549.43,351.94 L549.65,351.96 L549.87,351.99 L550.09,352.01 L550.31,352.04 L550.53,352.07 L550.75,352.1 L550.97,352.13 L551.19,352.16 L551.42,352.2 L551.64,352.23 L551.86,352.27 L552.08,352.31 L552.3,352.34 L552.52,352.38 L552.74,352.42 L552.96,352.46 L553.18,352.49 L553.4,352.53 L553.62,352.57 L553.84,352.6 L554.06,352.63 L554.29,352.66 L554.51,352.69 L554.73,352.72 L554.95,352.75 L555.17,352.77 L555.39,352.79 L555.61,352.81 L555.83,352.82 L556.05,352.83 L556.27,352.84 L556.49,352.84 L556.71,352.84 L556.93,352.84 L557.16,352.83 L557.38,352.82 L557.6,352.81 L557.82,352.8 L558.04,352.78 L558.26,352.77 L558.48,352.75 L558.7,352.73 L558.92,352.7 L559.14,352.68 L559.36,352.66 L559.58,352.63 L559.8,352.6 L560.03,352.58 L560.25,352.55 L560.47,352.52 L560.69,352.5 L560.91,352.47 L561.13,352.44 L561.35,352.42 L561.57,352.39 L561.79,352.37 L562.01,352.34 L562.23,352.32 L562.45,352.3 L562.67,352.28 L562.9,352.26 L563.12,352.25 L563.34,352.24 L563.56,352.23 L563.78,352.22 L564,352.21 L564.22,352.21 L564.44,352.21 L564.66,352.22 L564.88,352.23 L565.1,352.24 L565.32,352.27 L565.54,352.29 L565.77,352.32 L565.99,352.36 L566.21,352.4 L566.43,352.44 L566.65,352.49 L566.87,352.55 L567.09,352.6 L567.31,352.67 L567.53,352.73 L567.75,352.8 L567.97,352.87 L568.19,352.95 L568.41,353.03 L568.64,353.11 L568.86,353.19 L569.08,353.28 L569.3,353.37 L569.52,353.46 L569.74,353.56 L569.96,353.66 L570.18,353.75 L570.4,353.86 L570.62,353.96 L570.84,354.06 L571.06,354.17 L571.28,354.28 L571.51,354.39 L571.73,354.5 L571.95,354.61 L572.17,354.72 L572.39,354.84 L572.61,354.95 L572.83,355.06 L573.05,355.18 L573.27,355.29 L573.49,355.41 L573.71,355.52 L573.93,355.64 L574.15,355.75 L574.38,355.87 L574.6,355.99 L574.82,356.12 L575.04,356.26 L575.26,356.4 L575.48,356.55 L575.7,356.71 L575.92,356.87 L576.14,357.04 L576.36,357.22 L576.58,357.39 L576.8,357.58 L577.02,357.77 L577.25,357.96 L577.47,358.16 L577.69,358.36 L577.91,358.56 L578.13,358.77 L578.35,358.98 L578.57,359.19 L578.79,359.41 L579.01,359.63 L579.23,359.85 L579.45,360.07 L579.67,360.29 L579.89,360.52 L580.12,360.74 L580.34,360.97 L580.56,361.2 L580.78,361.42 L581,361.65 L581.22,361.88 L581.44,362.1 L581.66,362.33 L581.88,362.55 L582.1,362.78 L582.32,363 L582.54,363.22 L582.76,363.43 L582.99,363.65 L583.21,363.86 L583.43,364.07 L583.65,364.27 L583.87,364.48 L584.09,364.67 L584.31,364.86 L584.53,365.05 L584.75,365.23 L584.97,365.41 L585.19,365.59 L585.41,365.76 L585.63,365.93 L585.86,366.1 L586.08,366.27 L586.3,366.43 L586.52,366.59 L586.74,366.76 L586.96,366.92 L587.18,367.08 L587.4,367.24 L587.62,367.4 L587.84,367.57 L588.06,367.73 L588.28,367.9 L588.5,368.06 L588.73,368.23 L588.95,368.4 L589.17,368.58 L589.39,368.76 L589.61,368.94 L589.83,369.12 L590.05,369.31 L590.27,369.51 L590.49,369.71 L590.71,369.91 L590.93,370.12 L591.15,370.33 L591.37,370.56 L591.6,370.79 L591.82,371.02 L592.04,371.26 L592.26,371.51 L592.48,371.77 L592.7,372.04 L592.92,372.31 L593.14,372.6 L593.36,372.89 L593.58,373.2 L593.8,373.51 L594.02,373.83 L594.24,374.17 L594.47,374.51 L594.69,374.87 L594.91,375.27 L595.13,375.72 L595.35,376.23 L595.57,376.79 L595.79,377.39 L596.01,378.04 L596.23,378.73 L596.45,379.47 L596.67,380.24 L596.89,381.05 L597.11,381.89 L597.34,382.77 L597.56,383.67 L597.78,384.61 L598,385.57 L598.22,386.55 L598.44,387.55 L598.66,388.57 L598.88,389.61 L599.1,390.66 L599.32,391.72 L599.54,392.8 L599.76,393.88 L599.98,394.96 L600.21,396.05 L600.43,397.14 L600.65,398.23 L600.87,399.32 L601.09,400.43 L601.31,401.59 L601.53,402.78 L601.75,404.01 L601.97,405.28 L602.19,406.58 L602.41,407.91 L602.63,409.27 L602.85,410.66 L603.08,412.07 L603.3,413.51 L603.52,414.97 L603.74,416.45 L603.96,417.95 L604.18,419.47 L604.4,421 L604.62,422.54 L604.84,424.1 L605.06,425.66 L605.28,427.23 L605.5,428.81 L605.72,430.39 L605.95,431.97 L606.17,433.56 L606.39,435.14 L606.61,436.71 L606.83,438.28 L607.05,439.85 L607.27,441.41 L607.49,442.98 L607.71,444.57 L607.93,446.18 L608.15,447.8 L608.37,449.43 L608.59,451.07 L608.82,452.72 L609.04,454.38 L609.26,456.06 L609.48,457.74 L609.7,459.43 L609.92,461.13 L610.14,462.83 L610.36,464.54 L610.58,466.26 L610.8,467.97 L611.02,469.7 L611.24,471.43 L611.46,473.15 L611.69,474.89 L611.91,476.62 L612.13,478.35 L612.35,480.08 L612.57,481.81 L612.79,483.54 L613.01,485.31 L613.23,487.2 L613.45,489.19 L613.67,491.25 L613.89,493.36 L614.11,495.5 L614.33,497.64 L614.56,499.74 L614.78,501.8 L615,503.77 L615.22,505.64 L615.44,507.38 L615.66,508.97 L615.88,510.37 L616.1,511.57 L616.32,512.53 L616.54,513.25 L616.76,513.89 L616.98,514.51 L617.2,515.1 L617.43,515.64 L617.65,516.12 L617.87,516.54 L618.09,516.87 L618.31,517.12 L618.53,517.26 L618.75,517.29 L618.97,517.29 L619.19,517.29 L619.41,517.29 L619.63,517.29 L619.85,517.29 L620.07,517.29 L620.3,517.29 L620.52,517.29 L620.74,517.29 L620.96,517.29 L621.18,517.29 L621.4,517.29 L621.62,517.29 L621.84,517.29 L622.06,517.29 L622.28,517.29 L622.5,517.29 L622.72,517.29 L622.94,517.29 L623.17,517.29 L623.39,517.29 L623.61,517.29 L623.83,517.29 L624.05,517.29 L624.27,517.29 L624.49,517.29 L624.71,517.29 L624.93,517.29 L625.15,517.29 L625.37,517.29 L625.59,517.29 L625.81,517.29 L626.04,517.29 L626.26,517.29 L626.48,517.29 L626.7,517.29 L626.92,517.29 L627.14,517.29 L627.36,517.29 L627.58,517.29 L627.8,517.29 L628.02,517.29 L628.24,517.29 L628.46,517.29 L628.68,517.29 L628.91,517.29 L629.13,517.29 L629.35,517.29 L629.57,517.29 L629.79,517.29 L630.01,517.29 L630.23,517.29 L630.45,517.29 L630.67,517.29 L630.89,517.29 L631.11,517.29 L631.33,517.29 L631.55,517.29 L631.77,517.29 L632,517.29 L632.22,517.29 L632.44,517.29 L632.66,517.29 L632.88,517.29 L633.1,517.29 L633.32,517.29 L633.54,517.29 L633.76,517.29 L633.98,517.29 L634.2,517.29 L634.42,517.29 L634.64,517.29 L634.87,517.29 L635.09,517.29 L635.31,517.29 L635.53,517.29 L635.75,517.29 L635.97,517.29 L636.19,517.29 L636.41,517.29 L636.63,517.29 L636.85,517.29 L637.07,517.29 L637.29,517.29 L637.51,517.29 L637.74,517.29 L637.96,517.29 L638.18,517.29 L638.4,517.29 L638.62,517.29 L638.84,517.29 L639.06,517.29 L639.28,517.29 L639.5,517.29 L639.72,517.29 L639.94,517.29 L640.16,517.29 L640.38,517.29 L640.61,517.29 L640.83,517.29 L641.05,517.29 L641.27,517.29 L641.49,517.29 L641.71,517.29 L641.93,517.29 L642.15,517.29 L642.37,517.29 L642.59,517.29 L642.81,517.29 L643.03,517.29 L643.25,517.29 L643.48,517.29 L643.7,517.29 L643.92,517.29 L644.14,517.29 L644.36,517.29 L644.58,517.29 L644.8,517.29 L645.02,517.29 L645.24,517.29 L645.46,517.29 L645.68,517.29 L645.9,517.29 L646.12,517.29 L646.35,517.29 L646.57,517.29 L646.79,517.29 L647.01,517.29 L647.23,517.29 L647.45,517.29 L647.67,517.29 L647.89,517.29 L648.11,517.29 L648.33,517.29 L648.55,517.29 L648.77,517.29 L648.99,517.29 L649.22,517.29 L649.44,517.29 L649.66,517.29 L649.88,517.29 L650.1,517.29 L650.32,517.29 L650.54,517.29 L650.76,517.29 L650.98,517.29 L651.2,517.29 L651.42,517.29 L651.64,517.29 L651.86,517.29 L652.09,517.29 L652.31,517.29 L652.53,517.29 L652.75,517.29 L652.97,517.29 L653.19,517.29 L653.41,517.29 L653.63,517.29 L653.85,517.29 L654.07,517.29 L654.29,517.29 L654.51,517.29 L654.73,517.29 L654.96,517.29 L655.18,517.29 L655.4,517.29 L655.62,517.29 L655.84,517.29 L656.06,517.29 L656.28,517.29 L656.5,517.29 L656.72,517.29 L656.94,517.29 L657.16,517.29 L657.38,517.29 L657.6,517.29 L657.83,517.29 L658.05,517.29 L658.27,517.29 L658.49,517.29 L658.71,517.29 L658.93,517.29 L659.15,517.29 L659.37,517.29 L659.59,517.29 L659.81,517.29 L660.03,517.29 L660.25,517.29 L660.47,517.29 L660.7,517.29 L660.92,517.29 L661.14,517.29 L661.36,517.29 L661.58,517.29 L661.8,517.29 L662.02,517.29 L662.24,517.29 L662.46,517.29 L662.68,517.29 L662.9,517.29 L663.12,517.29 L663.34,517.29 L663.57,517.29 L663.79,517.29 L664.01,517.29 L664.23,517.29 L664.45,517.29 L664.67,517.29 L664.89,517.29 L665.11,517.29 L665.33,517.29 L665.55,517.29 L665.77,517.29 L665.99,517.29 L666.21,517.29 L666.44,517.29 L666.66,517.29 L666.88,517.29 L667.1,517.29 L667.32,517.29 L667.54,517.29 L667.76,517.29 L667.98,517.29 L668.2,517.29 L668.42,517.29 L668.64,517.29 L668.86,517.29 L669.08,517.29 L669.31,517.29 L669.53,517.29 L669.75,517.29 L669.97,517.29 L670.19,517.29 L670.41,517.29 L670.63,517.29 L670.85,517.29 L671.07,517.29 L671.29,517.29 L671.51,517.29 L671.73,517.29 L671.95,517.29 L672.18,517.29 L672.4,517.29 L672.62,517.29 L672.84,517.29 L673.06,517.29 L673.28,517.29 L673.5,517.29" fill="none" stroke="#1a1aee" stroke-width="1.6" stroke-linejoin="round"/>
<path d="M408.8,483.3 L409.02,483.3 L409.24,483.29 L409.46,483.28 L409.68,483.28 L409.9,483.27 L410.12,483.27 L410.35,483.26 L410.57,483.25 L410.79,483.25 L411.01,483.24 L411.23,483.24 L411.45,483.23 L411.67,483.23 L411.89,483.22 L412.11,483.21 L412.33,483.21 L412.55,483.2 L412.77,483.2 L412.99,483.19 L413.22,483.18 L413.44,483.18 L413.66,483.17 L413.88,483.17 L414.1,483.16 L414.32,483.15 L414.54,483.15 L414.76,483.14 L414.98,483.14 L415.2,483.13 L415.42,483.13 L415.64,483.12 L415.86,483.11 L416.09,483.11 L416.31,483.1 L416.53,483.1 L416.75,483.09 L416.97,483.08 L417.19,483.08 L417.41,483.07 L417.63,483.07 L417.85,483.06 L418.07,483.06 L418.29,483.05 L418.51,483.04 L418.73,483.04 L418.96,483.03 L419.18,483.03 L419.4,483.02 L419.62,483.02 L419.84,483.01 L420.06,483 L420.28,483 L420.5,482.99 L420.72,482.99 L420.94,482.98 L421.16,482.98 L421.38,482.97 L421.6,482.96 L421.83,482.96 L422.05,482.95 L422.27,482.95 L422.49,482.94 L422.71,482.94 L422.93,482.93 L423.15,482.92 L423.37,482.92 L423.59,482.91 L423.81,482.91 L424.03,482.9 L424.25,482.9 L424.47,482.89 L424.7,482.88 L424.92,482.88 L425.14,482.87 L425.36,482.87 L425.58,482.86 L425.8,482.86 L426.02,482.85 L426.24,482.85 L426.46,482.84 L426.68,482.83 L426.9,482.83 L427.12,482.82 L427.34,482.82 L427.57,482.81 L427.79,482.81 L428.01,482.8 L428.23,482.79 L428.45,482.79 L428.67,482.78 L428.89,482.78 L429.11,482.77 L429.33,482.77 L429.55,482.76 L429.77,482.76 L429.99,482.75 L430.21,482.74 L430.44,482.74 L430.66,482.73 L430.88,482.73 L431.1,482.72 L431.32,482.72 L431.54,482.71 L431.76,482.71 L431.98,482.7 L432.2,482.7 L432.42,482.69 L432.64,482.68 L432.86,482.68 L433.08,482.67 L433.31,482.67 L433.53,482.66 L433.75,482.66 L433.97,482.65 L434.19,482.65 L434.41,482.64 L434.63,482.63 L434.85,482.63 L435.07,482.62 L435.29,482.62 L435.51,482.61 L435.73,482.61 L435.95,482.6 L436.18,482.6 L436.4,482.59 L436.62,482.59 L436.84,482.58 L437.06,482.58 L437.28,482.57 L437.5,482.56 L437.72,482.56 L437.94,482.55 L438.16,482.55 L438.38,482.54 L438.6,482.54 L438.82,482.53 L439.05,482.53 L439.27,482.52 L439.49,482.52 L439.71,482.51 L439.93,482.5 L440.15,482.5 L440.37,482.49 L440.59,482.49 L440.81,482.48 L441.03,482.48 L441.25,482.47 L441.47,482.47 L441.69,482.46 L441.92,482.46 L442.14,482.45 L442.36,482.45 L442.58,482.44 L442.8,482.43 L443.02,482.43 L443.24,482.42 L443.46,482.42 L443.68,482.41 L443.9,482.41 L444.12,482.4 L444.34,482.39 L444.56,482.39 L444.79,482.38 L445.01,482.38 L445.23,482.37 L445.45,482.36 L445.67,482.36 L445.89,482.35 L446.11,482.34 L446.33,482.34 L446.55,482.33 L446.77,482.33 L446.99,482.32 L447.21,482.31 L447.43,482.31 L447.66,482.3 L447.88,482.29 L448.1,482.29 L448.32,482.28 L448.54,482.27 L448.76,482.27 L448.98,482.26 L449.2,482.25 L449.42,482.25 L449.64,482.24 L449.86,482.23 L450.08,482.23 L450.3,482.22 L450.53,482.21 L450.75,482.2 L450.97,482.2 L451.19,482.19 L451.41,482.18 L451.63,482.18 L451.85,482.17 L452.07,482.16 L452.29,482.16 L452.51,482.15 L452.73,482.14 L452.95,482.14 L453.17,482.13 L453.39,482.12 L453.62,482.12 L453.84,482.11 L454.06,482.1 L454.28,482.1 L454.5,482.09 L454.72,482.09 L454.94,482.08 L455.16,482.07 L455.38,482.07 L455.6,482.06 L455.82,482.05 L456.04,482.05 L456.26,482.04 L456.49,482.03 L456.71,482.03 L456.93,482.02 L457.15,482.02 L457.37,482.01 L457.59,482.01 L457.81,482 L458.03,481.99 L458.25,481.99 L458.47,481.98 L458.69,481.98 L458.91,481.97 L459.13,481.97 L459.36,481.96 L459.58,481.96 L459.8,481.95 L460.02,481.94 L460.24,481.94 L460.46,481.93 L460.68,481.93 L460.9,481.93 L461.12,481.92 L461.34,481.92 L461.56,481.91 L461.78,481.91 L462,481.9 L462.23,481.9 L462.45,481.89 L462.67,481.89 L462.89,481.89 L463.11,481.88 L463.33,481.88 L463.55,481.87 L463.77,481.87 L463.99,481.87 L464.21,481.86 L464.43,481.86 L464.65,481.86 L464.87,481.86 L465.1,481.85 L465.32,481.85 L465.54,481.85 L465.76,481.85 L465.98,481.84 L466.2,481.84 L466.42,481.84 L466.64,481.84 L466.86,481.83 L467.08,481.83 L467.3,481.83 L467.52,481.83 L467.74,481.83 L467.97,481.83 L468.19,481.83 L468.41,481.83 L468.63,481.83 L468.85,481.82 L469.07,481.82 L469.29,481.82 L469.51,481.82 L469.73,481.82 L469.95,481.82 L470.17,481.82 L470.39,481.82 L470.61,481.82 L470.84,481.82 L471.06,481.82 L471.28,481.82 L471.5,481.82 L471.72,481.82 L471.94,481.82 L472.16,481.82 L472.38,481.82 L472.6,481.82 L472.82,481.79 L473.04,481.62 L473.26,481.34 L473.48,480.96 L473.71,480.51 L473.93,479.99 L474.15,479.42 L474.37,478.82 L474.59,478.22 L474.81,477.62 L475.03,477.03 L475.25,476.39 L475.47,475.66 L475.69,474.85 L475.91,473.98 L476.13,473.07 L476.35,472.12 L476.58,471.16 L476.8,470.18 L477.02,469.22 L477.24,468.28 L477.46,467.37 L477.68,466.51 L477.9,465.71 L478.12,464.99 L478.34,464.35 L478.56,463.73 L478.78,463.09 L479,462.44 L479.22,461.79 L479.45,461.15 L479.67,460.53 L479.89,459.92 L480.11,459.34 L480.33,458.79 L480.55,458.29 L480.77,457.83 L480.99,457.43 L481.21,457.09 L481.43,456.82 L481.65,456.63 L481.87,456.52 L482.09,456.49 L482.32,456.55 L482.54,456.67 L482.76,456.85 L482.98,457.08 L483.2,457.36 L483.42,457.68 L483.64,458.04 L483.86,458.42 L484.08,458.83 L484.3,459.25 L484.52,459.69 L484.74,460.13 L484.96,460.56 L485.19,460.99 L485.41,461.4 L485.63,461.8 L485.85,462.16 L486.07,462.5 L486.29,462.83 L486.51,463.17 L486.73,463.52 L486.95,463.87 L487.17,464.23 L487.39,464.58 L487.61,464.94 L487.83,465.29 L488.06,465.65 L488.28,465.99 L488.5,466.34 L488.72,466.67 L488.94,467 L489.16,467.31 L489.38,467.62 L489.6,467.91 L489.82,468.19 L490.04,468.45 L490.26,468.69 L490.48,468.92 L490.7,469.15 L490.93,469.37 L491.15,469.59 L491.37,469.8 L491.59,470.01 L491.81,470.22 L492.03,470.42 L492.25,470.62 L492.47,470.82 L492.69,471.01 L492.91,471.2 L493.13,471.38 L493.35,471.56 L493.57,471.74 L493.8,471.91 L494.02,472.08 L494.24,472.24 L494.46,472.4 L494.68,472.56 L494.9,472.71 L495.12,472.86 L495.34,473.01 L495.56,473.15 L495.78,473.29 L496,473.43 L496.22,473.56 L496.44,473.69 L496.67,473.81 L496.89,473.93 L497.11,474.05 L497.33,474.17 L497.55,474.28 L497.77,474.39 L497.99,474.5 L498.21,474.6 L498.43,474.71 L498.65,474.81 L498.87,474.91 L499.09,475.01 L499.31,475.1 L499.54,475.2 L499.76,475.29 L499.98,475.38 L500.2,475.47 L500.42,475.56 L500.64,475.65 L500.86,475.73 L501.08,475.82 L501.3,475.9 L501.52,475.98 L501.74,476.06 L501.96,476.14 L502.18,476.22 L502.41,476.3 L502.63,476.38 L502.85,476.45 L503.07,476.53 L503.29,476.6 L503.51,476.68 L503.73,476.75 L503.95,476.83 L504.17,476.9 L504.39,476.98 L504.61,477.05 L504.83,477.12 L505.05,477.2 L505.28,477.27 L505.5,477.34 L505.72,477.42 L505.94,477.49 L506.16,477.57 L506.38,477.64 L506.6,477.72 L506.82,477.79 L507.04,477.87 L507.26,477.95 L507.48,478.03 L507.7,478.11 L507.92,478.19 L508.15,478.27 L508.37,478.35 L508.59,478.43 L508.81,478.52 L509.03,478.6 L509.25,478.69 L509.47,478.78 L509.69,478.87 L509.91,478.96 L510.13,479.05 L510.35,479.14 L510.57,479.22 L510.79,479.31 L511.02,479.4 L511.24,479.49 L511.46,479.58 L511.68,479.66 L511.9,479.75 L512.12,479.83 L512.34,479.91 L512.56,479.99 L512.78,480.07 L513,480.15 L513.22,480.22 L513.44,480.3 L513.66,480.37 L513.89,480.43 L514.11,480.5 L514.33,480.56 L514.55,480.61 L514.77,480.67 L514.99,480.72 L515.21,480.76 L515.43,480.81 L515.65,480.85 L515.87,480.89 L516.09,480.93 L516.31,480.97 L516.53,481.01 L516.76,481.04 L516.98,481.08 L517.2,481.11 L517.42,481.14 L517.64,481.18 L517.86,481.21 L518.08,481.24 L518.3,481.27 L518.52,481.3 L518.74,481.32 L518.96,481.35 L519.18,481.38 L519.4,481.41 L519.63,481.43 L519.85,481.46 L520.07,481.48 L520.29,481.51 L520.51,481.53 L520.73,481.56 L520.95,481.58 L521.17,481.61 L521.39,481.63 L521.61,481.66 L521.83,481.69 L522.05,481.71 L522.27,481.74 L522.5,481.76 L522.72,481.79 L522.94,481.82 L523.16,481.84 L523.38,481.87 L523.6,481.9 L523.82,481.93 L524.04,481.96 L524.26,481.99 L524.48,482.02 L524.7,482.05 L524.92,482.08 L525.14,482.12 L525.37,482.15 L525.59,482.19 L525.81,482.23 L526.03,482.26 L526.25,482.3 L526.47,482.34 L526.69,482.38 L526.91,482.42 L527.13,482.46 L527.35,482.49 L527.57,482.53 L527.79,482.57 L528.01,482.61 L528.24,482.64 L528.46,482.67 L528.68,482.71 L528.9,482.74 L529.12,482.77 L529.34,482.8 L529.56,482.82 L529.78,482.85 L530,482.87 L530.22,482.89 L530.44,482.91 L530.66,482.93 L530.88,482.95 L531.11,482.97 L531.33,482.98 L531.55,483 L531.77,483.02 L531.99,483.04 L532.21,483.06 L532.43,483.08 L532.65,483.1 L532.87,483.11 L533.09,483.13 L533.31,483.15 L533.53,483.17 L533.75,483.18 L533.98,483.2 L534.2,483.22 L534.42,483.23 L534.64,483.25 L534.86,483.27 L535.08,483.28 L535.3,483.3 L535.52,483.31 L535.74,483.32 L535.96,483.34 L536.18,483.35 L536.4,483.36 L536.62,483.38 L536.85,483.39 L537.07,483.4 L537.29,483.41 L537.51,483.42 L537.73,483.43 L537.95,483.44 L538.17,483.45 L538.39,483.46 L538.61,483.47 L538.83,483.47 L539.05,483.48 L539.27,483.49 L539.49,483.49 L539.72,483.5 L539.94,483.5 L540.16,483.51 L540.38,483.51 L540.6,483.51 L540.82,483.51 L541.04,483.51 L541.26,483.51 L541.48,483.51 L541.7,483.5 L541.92,483.5 L542.14,483.49 L542.36,483.47 L542.58,483.46 L542.81,483.44 L543.03,483.42 L543.25,483.4 L543.47,483.38 L543.69,483.36 L543.91,483.33 L544.13,483.3 L544.35,483.27 L544.57,483.24 L544.79,483.21 L545.01,483.17 L545.23,483.14 L545.45,483.1 L545.68,483.06 L545.9,483.03 L546.12,482.99 L546.34,482.95 L546.56,482.91 L546.78,482.86 L547,482.82 L547.22,482.78 L547.44,482.74 L547.66,482.69 L547.88,482.65 L548.1,482.61 L548.32,482.56 L548.55,482.52 L548.77,482.47 L548.99,482.43 L549.21,482.39 L549.43,482.34 L549.65,482.3 L549.87,482.26 L550.09,482.22 L550.31,482.18 L550.53,482.14 L550.75,482.1 L550.97,482.06 L551.19,482.02 L551.42,481.99 L551.64,481.95 L551.86,481.92 L552.08,481.88 L552.3,481.85 L552.52,481.82 L552.74,481.8 L552.96,481.77 L553.18,481.74 L553.4,481.72 L553.62,481.7 L553.84,481.68 L554.06,481.67 L554.29,481.65 L554.51,481.64 L554.73,481.63 L554.95,481.62 L555.17,481.62 L555.39,481.61 L555.61,481.61 L555.83,481.62 L556.05,481.62 L556.27,481.63 L556.49,481.63 L556.71,481.64 L556.93,481.65 L557.16,481.66 L557.38,481.68 L557.6,481.69 L557.82,481.71 L558.04,481.72 L558.26,481.74 L558.48,481.75 L558.7,481.77 L558.92,481.79 L559.14,481.81 L559.36,481.83 L559.58,481.84 L559.8,481.86 L560.03,481.88 L560.25,481.9 L560.47,481.91 L560.69,481.93 L560.91,481.95 L561.13,481.96 L561.35,481.97 L561.57,481.99 L561.79,482 L562.01,482.01 L562.23,482.02 L562.45,482.02 L562.67,482.03 L562.9,482.03 L563.12,482.04 L563.34,482.03 L563.56,482.03 L563.78,482.02 L564,482 L564.22,481.98 L564.44,481.96 L564.66,481.93 L564.88,481.89 L565.1,481.85 L565.32,481.81 L565.54,481.77 L565.77,481.72 L565.99,481.66 L566.21,481.6 L566.43,481.54 L566.65,481.48 L566.87,481.41 L567.09,481.34 L567.31,481.27 L567.53,481.19 L567.75,481.11 L567.97,481.03 L568.19,480.95 L568.41,480.86 L568.64,480.77 L568.86,480.68 L569.08,480.59 L569.3,480.5 L569.52,480.4 L569.74,480.3 L569.96,480.21 L570.18,480.11 L570.4,480.01 L570.62,479.9 L570.84,479.8 L571.06,479.7 L571.28,479.6 L571.51,479.49 L571.73,479.39 L571.95,479.29 L572.17,479.18 L572.39,479.08 L572.61,478.98 L572.83,478.87 L573.05,478.77 L573.27,478.67 L573.49,478.57 L573.71,478.47 L573.93,478.37 L574.15,478.27 L574.38,478.17 L574.6,478.07 L574.82,477.97 L575.04,477.87 L575.26,477.76 L575.48,477.64 L575.7,477.53 L575.92,477.41 L576.14,477.29 L576.36,477.17 L576.58,477.04 L576.8,476.92 L577.02,476.79 L577.25,476.66 L577.47,476.53 L577.69,476.39 L577.91,476.26 L578.13,476.12 L578.35,475.98 L578.57,475.84 L578.79,475.7 L579.01,475.56 L579.23,475.42 L579.45,475.28 L579.67,475.13 L579.89,474.99 L580.12,474.85 L580.34,474.7 L580.56,474.56 L580.78,474.41 L581,474.27 L581.22,474.13 L581.44,473.98 L581.66,473.84 L581.88,473.7 L582.1,473.56 L582.32,473.42 L582.54,473.28 L582.76,473.14 L582.99,473 L583.21,472.87 L583.43,472.73 L583.65,472.6 L583.87,472.47 L584.09,472.34 L584.31,472.21 L584.53,472.09 L584.75,471.97 L584.97,471.85 L585.19,471.73 L585.41,471.61 L585.63,471.5 L585.86,471.39 L586.08,471.28 L586.3,471.17 L586.52,471.06 L586.74,470.95 L586.96,470.84 L587.18,470.74 L587.4,470.63 L587.62,470.53 L587.84,470.42 L588.06,470.32 L588.28,470.22 L588.5,470.11 L588.73,470.01 L588.95,469.91 L589.17,469.81 L589.39,469.71 L589.61,469.61 L589.83,469.51 L590.05,469.41 L590.27,469.31 L590.49,469.21 L590.71,469.12 L590.93,469.02 L591.15,468.92 L591.37,468.82 L591.6,468.72 L591.82,468.62 L592.04,468.52 L592.26,468.42 L592.48,468.32 L592.7,468.22 L592.92,468.12 L593.14,468.02 L593.36,467.92 L593.58,467.82 L593.8,467.71 L594.02,467.61 L594.24,467.51 L594.47,467.4 L594.69,467.29 L594.91,467.19 L595.13,467.08 L595.35,466.97 L595.57,466.87 L595.79,466.78 L596.01,466.68 L596.23,466.59 L596.45,466.5 L596.67,466.41 L596.89,466.32 L597.11,466.21 L597.34,466.11 L597.56,465.99 L597.78,465.86 L598,465.73 L598.22,465.58 L598.44,465.41 L598.66,465.21 L598.88,464.95 L599.1,464.62 L599.32,464.25 L599.54,463.84 L599.76,463.39 L599.98,462.92 L600.21,462.45 L600.43,461.97 L600.65,461.49 L600.87,461.03 L601.09,460.6 L601.31,460.2 L601.53,459.78 L601.75,459.32 L601.97,458.84 L602.19,458.35 L602.41,457.87 L602.63,457.41 L602.85,457 L603.08,456.64 L603.3,456.36 L603.52,456.16 L603.74,456.07 L603.96,456.09 L604.18,456.19 L604.4,456.37 L604.62,456.62 L604.84,456.94 L605.06,457.31 L605.28,457.74 L605.5,458.22 L605.72,458.75 L605.95,459.31 L606.17,459.9 L606.39,460.52 L606.61,461.17 L606.83,461.83 L607.05,462.5 L607.27,463.18 L607.49,463.85 L607.71,464.53 L607.93,465.19 L608.15,465.83 L608.37,466.46 L608.59,467.05 L608.82,467.62 L609.04,468.14 L609.26,468.63 L609.48,469.08 L609.7,469.54 L609.92,470.01 L610.14,470.48 L610.36,470.96 L610.58,471.45 L610.8,471.94 L611.02,472.43 L611.24,472.93 L611.46,473.42 L611.69,473.91 L611.91,474.4 L612.13,474.88 L612.35,475.36 L612.57,475.83 L612.79,476.3 L613.01,476.75 L613.23,477.19 L613.45,477.62 L613.67,478.04 L613.89,478.44 L614.11,478.83 L614.33,479.2 L614.56,479.55 L614.78,479.88 L615,480.19 L615.22,480.47 L615.44,480.73 L615.66,480.97 L615.88,481.18 L616.1,481.37 L616.32,481.52 L616.54,481.65 L616.76,481.76 L616.98,481.88 L617.2,481.99 L617.43,482.1 L617.65,482.2 L617.87,482.31 L618.09,482.41 L618.31,482.5 L618.53,482.59 L618.75,482.68 L618.97,482.77 L619.19,482.84 L619.41,482.92 L619.63,482.98 L619.85,483.05 L620.07,483.1 L620.3,483.15 L620.52,483.2 L620.74,483.23 L620.96,483.26 L621.18,483.28 L621.4,483.3 L621.62,483.3 L621.84,483.3 L622.06,483.3 L622.28,483.3 L622.5,483.3 L622.72,483.3 L622.94,483.3 L623.17,483.3 L623.39,483.3 L623.61,483.3 L623.83,483.3 L624.05,483.3 L624.27,483.3 L624.49,483.3 L624.71,483.3 L624.93,483.3 L625.15,483.3 L625.37,483.3 L625.59,483.3 L625.81,483.3 L626.04,483.3 L626.26,483.3 L626.48,483.3 L626.7,483.3 L626.92,483.3 L627.14,483.3 L627.36,483.3 L627.58,483.3 L627.8,483.3 L628.02,483.3 L628.24,483.3 L628.46,483.3 L628.68,483.3 L628.91,483.3 L629.13,483.3 L629.35,483.3 L629.57,483.3 L629.79,483.3 L630.01,483.3 L630.23,483.3 L630.45,483.3 L630.67,483.3 L630.89,483.3 L631.11,483.3 L631.33,483.3 L631.55,483.3 L631.77,483.3 L632,483.3 L632.22,483.3 L632.44,483.3 L632.66,483.3 L632.88,483.3 L633.1,483.3 L633.32,483.3 L633.54,483.3 L633.76,483.3 L633.98,483.3 L634.2,483.3 L634.42,483.3 L634.64,483.3 L634.87,483.3 L635.09,483.3 L635.31,483.3 L635.53,483.3 L635.75,483.3 L635.97,483.3 L636.19,483.3 L636.41,483.3 L636.63,483.3 L636.85,483.3 L637.07,483.3 L637.29,483.3 L637.51,483.3 L637.74,483.3 L637.96,483.3 L638.18,483.3 L638.4,483.3 L638.62,483.3 L638.84,483.3 L639.06,483.3 L639.28,483.3 L639.5,483.3 L639.72,483.3 L639.94,483.3 L640.16,483.3 L640.38,483.3 L640.61,483.3 L640.83,483.3 L641.05,483.3 L641.27,483.3 L641.49,483.3 L641.71,483.3 L641.93,483.3 L642.15,483.3 L642.37,483.3 L642.59,483.3 L642.81,483.3 L643.03,483.3 L643.25,483.3 L643.48,483.3 L643.7,483.3 L643.92,483.3 L644.14,483.3 L644.36,483.3 L644.58,483.3 L644.8,483.3 L645.02,483.3 L645.24,483.3 L645.46,483.3 L645.68,483.3 L645.9,483.3 L646.12,483.3 L646.35,483.3 L646.57,483.3 L646.79,483.3 L647.01,483.3 L647.23,483.3 L647.45,483.3 L647.67,483.3 L647.89,483.3 L648.11,483.3 L648.33,483.3 L648.55,483.3 L648.77,483.3 L648.99,483.3 L649.22,483.3 L649.44,483.3 L649.66,483.3 L649.88,483.3 L650.1,483.3 L650.32,483.3 L650.54,483.3 L650.76,483.3 L650.98,483.3 L651.2,483.3 L651.42,483.3 L651.64,483.3 L651.86,483.3 L652.09,483.3 L652.31,483.3 L652.53,483.3 L652.75,483.3 L652.97,483.3 L653.19,483.3 L653.41,483.3 L653.63,483.3 L653.85,483.3 L654.07,483.3 L654.29,483.3 L654.51,483.3 L654.73,483.3 L654.96,483.3 L655.18,483.3 L655.4,483.3 L655.62,483.3 L655.84,483.3 L656.06,483.3 L656.28,483.3 L656.5,483.3 L656.72,483.3 L656.94,483.3 L657.16,483.3 L657.38,483.3 L657.6,483.3 L657.83,483.3 L658.05,483.3 L658.27,483.3 L658.49,483.3 L658.71,483.3 L658.93,483.3 L659.15,483.3 L659.37,483.3 L659.59,483.3 L659.81,483.3 L660.03,483.3 L660.25,483.3 L660.47,483.3 L660.7,483.3 L660.92,483.3 L661.14,483.3 L661.36,483.3 L661.58,483.3 L661.8,483.3 L662.02,483.3 L662.24,483.3 L662.46,483.3 L662.68,483.3 L662.9,483.3 L663.12,483.3 L663.34,483.3 L663.57,483.3 L663.79,483.3 L664.01,483.3 L664.23,483.3 L664.45,483.3 L664.67,483.3 L664.89,483.3 L665.11,483.3 L665.33,483.3 L665.55,483.3 L665.77,483.3 L665.99,483.3 L666.21,483.3 L666.44,483.3 L666.66,483.3 L666.88,483.3 L667.1,483.3 L667.32,483.3 L667.54,483.3 L667.76,483.3 L667.98,483.3 L668.2,483.3 L668.42,483.3 L668.64,483.3 L668.86,483.3 L669.08,483.3 L669.31,483.3 L669.53,483.3 L669.75,483.3 L669.97,483.3 L670.19,483.3 L670.41,483.3 L670.63,483.3 L670.85,483.3 L671.07,483.3 L671.29,483.3 L671.51,483.3 L671.73,483.3 L671.95,483.3 L672.18,483.3 L672.4,483.3 L672.62,483.3 L672.84,483.3 L673.06,483.3 L673.28,483.3 L673.5,483.3" fill="none" stroke="#f01a1a" stroke-width="1.6" stroke-linejoin="round"/>
<path d="M408.8,496.18 L409.02,496.18 L409.24,496.18 L409.46,496.18 L409.68,496.18 L409.9,496.18 L410.12,496.18 L410.35,496.17 L410.57,496.17 L410.79,496.17 L411.01,496.17 L411.23,496.17 L411.45,496.17 L411.67,496.16 L411.89,496.16 L412.11,496.16 L412.33,496.16 L412.55,496.15 L412.77,496.15 L412.99,496.15 L413.22,496.14 L413.44,496.14 L413.66,496.14 L413.88,496.13 L414.1,496.13 L414.32,496.13 L414.54,496.12 L414.76,496.12 L414.98,496.11 L415.2,496.11 L415.42,496.1 L415.64,496.1 L415.86,496.1 L416.09,496.09 L416.31,496.08 L416.53,496.08 L416.75,496.07 L416.97,496.07 L417.19,496.06 L417.41,496.06 L417.63,496.05 L417.85,496.05 L418.07,496.04 L418.29,496.03 L418.51,496.03 L418.73,496.02 L418.96,496.01 L419.18,496.01 L419.4,496 L419.62,495.99 L419.84,495.99 L420.06,495.98 L420.28,495.97 L420.5,495.96 L420.72,495.96 L420.94,495.95 L421.16,495.94 L421.38,495.93 L421.6,495.93 L421.83,495.92 L422.05,495.91 L422.27,495.9 L422.49,495.9 L422.71,495.89 L422.93,495.88 L423.15,495.87 L423.37,495.86 L423.59,495.85 L423.81,495.85 L424.03,495.84 L424.25,495.83 L424.47,495.82 L424.7,495.81 L424.92,495.8 L425.14,495.79 L425.36,495.78 L425.58,495.78 L425.8,495.77 L426.02,495.76 L426.24,495.75 L426.46,495.74 L426.68,495.73 L426.9,495.72 L427.12,495.71 L427.34,495.7 L427.57,495.69 L427.79,495.68 L428.01,495.67 L428.23,495.66 L428.45,495.65 L428.67,495.64 L428.89,495.63 L429.11,495.62 L429.33,495.61 L429.55,495.6 L429.77,495.59 L429.99,495.58 L430.21,495.57 L430.44,495.56 L430.66,495.55 L430.88,495.54 L431.1,495.53 L431.32,495.52 L431.54,495.51 L431.76,495.5 L431.98,495.49 L432.2,495.48 L432.42,495.47 L432.64,495.46 L432.86,495.45 L433.08,495.43 L433.31,495.42 L433.53,495.41 L433.75,495.4 L433.97,495.38 L434.19,495.37 L434.41,495.36 L434.63,495.34 L434.85,495.33 L435.07,495.31 L435.29,495.3 L435.51,495.28 L435.73,495.27 L435.95,495.25 L436.18,495.24 L436.4,495.22 L436.62,495.2 L436.84,495.19 L437.06,495.17 L437.28,495.15 L437.5,495.14 L437.72,495.12 L437.94,495.1 L438.16,495.08 L438.38,495.07 L438.6,495.05 L438.82,495.03 L439.05,495.01 L439.27,494.99 L439.49,494.97 L439.71,494.95 L439.93,494.93 L440.15,494.91 L440.37,494.89 L440.59,494.87 L440.81,494.85 L441.03,494.83 L441.25,494.8 L441.47,494.78 L441.69,494.76 L441.92,494.74 L442.14,494.71 L442.36,494.69 L442.58,494.67 L442.8,494.64 L443.02,494.62 L443.24,494.59 L443.46,494.57 L443.68,494.55 L443.9,494.52 L444.12,494.49 L444.34,494.47 L444.56,494.44 L444.79,494.42 L445.01,494.39 L445.23,494.36 L445.45,494.33 L445.67,494.31 L445.89,494.28 L446.11,494.25 L446.33,494.22 L446.55,494.19 L446.77,494.16 L446.99,494.13 L447.21,494.1 L447.43,494.07 L447.66,494.04 L447.88,494.01 L448.1,493.98 L448.32,493.95 L448.54,493.92 L448.76,493.89 L448.98,493.86 L449.2,493.82 L449.42,493.79 L449.64,493.76 L449.86,493.72 L450.08,493.69 L450.3,493.65 L450.53,493.62 L450.75,493.58 L450.97,493.55 L451.19,493.51 L451.41,493.48 L451.63,493.44 L451.85,493.41 L452.07,493.37 L452.29,493.33 L452.51,493.29 L452.73,493.26 L452.95,493.22 L453.17,493.18 L453.39,493.14 L453.62,493.1 L453.84,493.05 L454.06,493.01 L454.28,492.96 L454.5,492.92 L454.72,492.87 L454.94,492.82 L455.16,492.77 L455.38,492.72 L455.6,492.66 L455.82,492.61 L456.04,492.55 L456.26,492.49 L456.49,492.43 L456.71,492.37 L456.93,492.31 L457.15,492.24 L457.37,492.18 L457.59,492.11 L457.81,492.04 L458.03,491.96 L458.25,491.89 L458.47,491.81 L458.69,491.74 L458.91,491.66 L459.13,491.57 L459.36,491.49 L459.58,491.4 L459.8,491.31 L460.02,491.22 L460.24,491.13 L460.46,491.04 L460.68,490.94 L460.9,490.84 L461.12,490.74 L461.34,490.63 L461.56,490.53 L461.78,490.42 L462,490.31 L462.23,490.19 L462.45,490.07 L462.67,489.96 L462.89,489.83 L463.11,489.71 L463.33,489.58 L463.55,489.45 L463.77,489.32 L463.99,489.18 L464.21,489.04 L464.43,488.89 L464.65,488.73 L464.87,488.55 L465.1,488.37 L465.32,488.17 L465.54,487.97 L465.76,487.75 L465.98,487.52 L466.2,487.27 L466.42,487.02 L466.64,486.75 L466.86,486.46 L467.08,486.16 L467.3,485.85 L467.52,485.52 L467.74,485.18 L467.97,484.82 L468.19,484.44 L468.41,484.05 L468.63,483.65 L468.85,483.22 L469.07,482.78 L469.29,482.32 L469.51,481.84 L469.73,481.34 L469.95,480.82 L470.17,480.29 L470.39,479.73 L470.61,479.14 L470.84,478.27 L471.06,477.04 L471.28,475.52 L471.5,473.76 L471.72,471.81 L471.94,469.75 L472.16,467.62 L472.38,465.48 L472.6,463.39 L472.82,461.41 L473.04,459.6 L473.26,458.01 L473.48,456.7 L473.71,455.73 L473.93,455.15 L474.15,455.04 L474.37,455.55 L474.59,456.65 L474.81,458.23 L475.03,460.17 L475.25,462.37 L475.47,464.69 L475.69,467.04 L475.91,469.29 L476.13,471.36 L476.35,473.52 L476.58,475.87 L476.8,478.34 L477.02,480.88 L477.24,483.42 L477.46,485.9 L477.68,488.27 L477.9,490.45 L478.12,492.4 L478.34,494.06 L478.56,495.59 L478.78,497.07 L479,498.5 L479.22,499.88 L479.45,501.21 L479.67,502.48 L479.89,503.69 L480.11,504.84 L480.33,505.94 L480.55,506.97 L480.77,507.94 L480.99,508.84 L481.21,509.68 L481.43,510.44 L481.65,511.14 L481.87,511.82 L482.09,512.49 L482.32,513.14 L482.54,513.76 L482.76,514.35 L482.98,514.89 L483.2,515.37 L483.42,515.8 L483.64,516.16 L483.86,516.43 L484.08,516.63 L484.3,516.75 L484.52,516.87 L484.74,516.97 L484.96,517.07 L485.19,517.15 L485.41,517.21 L485.63,517.26 L485.85,517.28 L486.07,517.29 L486.29,517.29 L486.51,517.29 L486.73,517.29 L486.95,517.29 L487.17,517.29 L487.39,517.29 L487.61,517.29 L487.83,517.29 L488.06,517.29 L488.28,517.29 L488.5,517.29 L488.72,517.29 L488.94,517.29 L489.16,517.29 L489.38,517.29 L489.6,517.29 L489.82,517.29 L490.04,517.29 L490.26,517.29 L490.48,517.29 L490.7,517.29 L490.93,517.29 L491.15,517.29 L491.37,517.29 L491.59,517.29 L491.81,517.29 L492.03,517.29 L492.25,517.29 L492.47,517.29 L492.69,517.29 L492.91,517.29 L493.13,517.29 L493.35,517.29 L493.57,517.29 L493.8,517.29 L494.02,517.29 L494.24,517.29 L494.46,517.29 L494.68,517.29 L494.9,517.29 L495.12,517.29 L495.34,517.29 L495.56,517.29 L495.78,517.29 L496,517.29 L496.22,517.29 L496.44,517.29 L496.67,517.29 L496.89,517.29 L497.11,517.29 L497.33,517.29 L497.55,517.29 L497.77,517.29 L497.99,517.29 L498.21,517.29 L498.43,517.29 L498.65,517.29 L498.87,517.29 L499.09,517.29 L499.31,517.29 L499.54,517.29 L499.76,517.29 L499.98,517.29 L500.2,517.29 L500.42,517.29 L500.64,517.29 L500.86,517.29 L501.08,517.29 L501.3,517.29 L501.52,517.29 L501.74,517.29 L501.96,517.29 L502.18,517.29 L502.41,517.29 L502.63,517.29 L502.85,517.29 L503.07,517.29 L503.29,517.29 L503.51,517.29 L503.73,517.29 L503.95,517.29 L504.17,517.29 L504.39,517.29 L504.61,517.29 L504.83,517.29 L505.05,517.29 L505.28,517.29 L505.5,517.29 L505.72,517.29 L505.94,517.29 L506.16,517.29 L506.38,517.29 L506.6,517.29 L506.82,517.29 L507.04,517.29 L507.26,517.29 L507.48,517.29 L507.7,517.29 L507.92,517.29 L508.15,517.29 L508.37,517.29 L508.59,517.29 L508.81,517.29 L509.03,517.29 L509.25,517.29 L509.47,517.29 L509.69,517.29 L509.91,517.29 L510.13,517.29 L510.35,517.29 L510.57,517.29 L510.79,517.29 L511.02,517.29 L511.24,517.29 L511.46,517.29 L511.68,517.29 L511.9,517.29 L512.12,517.29 L512.34,517.29 L512.56,517.29 L512.78,517.29 L513,517.29 L513.22,517.29 L513.44,517.29 L513.66,517.29 L513.89,517.29 L514.11,517.29 L514.33,517.29 L514.55,517.29 L514.77,517.29 L514.99,517.29 L515.21,517.29 L515.43,517.29 L515.65,517.29 L515.87,517.29 L516.09,517.29 L516.31,517.29 L516.53,517.29 L516.76,517.29 L516.98,517.29 L517.2,517.29 L517.42,517.29 L517.64,517.29 L517.86,517.29 L518.08,517.29 L518.3,517.29 L518.52,517.29 L518.74,517.29 L518.96,517.29 L519.18,517.29 L519.4,517.29 L519.63,517.29 L519.85,517.29 L520.07,517.29 L520.29,517.29 L520.51,517.29 L520.73,517.29 L520.95,517.29 L521.17,517.29 L521.39,517.29 L521.61,517.29 L521.83,517.29 L522.05,517.29 L522.27,517.29 L522.5,517.29 L522.72,517.29 L522.94,517.29 L523.16,517.29 L523.38,517.29 L523.6,517.29 L523.82,517.29 L524.04,517.29 L524.26,517.29 L524.48,517.29 L524.7,517.29 L524.92,517.29 L525.14,517.29 L525.37,517.29 L525.59,517.29 L525.81,517.29 L526.03,517.29 L526.25,517.29 L526.47,517.29 L526.69,517.29 L526.91,517.29 L527.13,517.29 L527.35,517.29 L527.57,517.29 L527.79,517.29 L528.01,517.29 L528.24,517.29 L528.46,517.29 L528.68,517.29 L528.9,517.29 L529.12,517.29 L529.34,517.29 L529.56,517.29 L529.78,517.29 L530,517.29 L530.22,517.29 L530.44,517.29 L530.66,517.29 L530.88,517.29 L531.11,517.29 L531.33,517.29 L531.55,517.29 L531.77,517.29 L531.99,517.29 L532.21,517.29 L532.43,517.29 L532.65,517.29 L532.87,517.29 L533.09,517.29 L533.31,517.29 L533.53,517.29 L533.75,517.29 L533.98,517.29 L534.2,517.29 L534.42,517.29 L534.64,517.29 L534.86,517.29 L535.08,517.29 L535.3,517.29 L535.52,517.29 L535.74,517.29 L535.96,517.29 L536.18,517.29 L536.4,517.29 L536.62,517.29 L536.85,517.29 L537.07,517.29 L537.29,517.29 L537.51,517.29 L537.73,517.29 L537.95,517.29 L538.17,517.29 L538.39,517.29 L538.61,517.29 L538.83,517.29 L539.05,517.29 L539.27,517.29 L539.49,517.29 L539.72,517.29 L539.94,517.29 L540.16,517.29 L540.38,517.29 L540.6,517.29 L540.82,517.29 L541.04,517.29 L541.26,517.29 L541.48,517.29 L541.7,517.29 L541.92,517.29 L542.14,517.29 L542.36,517.29 L542.58,517.29 L542.81,517.29 L543.03,517.29 L543.25,517.29 L543.47,517.29 L543.69,517.29 L543.91,517.29 L544.13,517.29 L544.35,517.29 L544.57,517.29 L544.79,517.29 L545.01,517.29 L545.23,517.29 L545.45,517.29 L545.68,517.29 L545.9,517.29 L546.12,517.29 L546.34,517.29 L546.56,517.29 L546.78,517.29 L547,517.29 L547.22,517.29 L547.44,517.29 L547.66,517.29 L547.88,517.29 L548.1,517.29 L548.32,517.29 L548.55,517.29 L548.77,517.29 L548.99,517.29 L549.21,517.29 L549.43,517.29 L549.65,517.29 L549.87,517.29 L550.09,517.29 L550.31,517.29 L550.53,517.29 L550.75,517.29 L550.97,517.29 L551.19,517.29 L551.42,517.29 L551.64,517.29 L551.86,517.29 L552.08,517.29 L552.3,517.29 L552.52,517.29 L552.74,517.29 L552.96,517.29 L553.18,517.29 L553.4,517.29 L553.62,517.29 L553.84,517.29 L554.06,517.29 L554.29,517.29 L554.51,517.29 L554.73,517.29 L554.95,517.29 L555.17,517.29 L555.39,517.29 L555.61,517.29 L555.83,517.29 L556.05,517.29 L556.27,517.29 L556.49,517.29 L556.71,517.29 L556.93,517.29 L557.16,517.29 L557.38,517.29 L557.6,517.29 L557.82,517.29 L558.04,517.29 L558.26,517.29 L558.48,517.29 L558.7,517.29 L558.92,517.29 L559.14,517.29 L559.36,517.29 L559.58,517.29 L559.8,517.29 L560.03,517.29 L560.25,517.29 L560.47,517.29 L560.69,517.29 L560.91,517.29 L561.13,517.29 L561.35,517.29 L561.57,517.29 L561.79,517.29 L562.01,517.29 L562.23,517.29 L562.45,517.29 L562.67,517.29 L562.9,517.29 L563.12,517.29 L563.34,517.29 L563.56,517.29 L563.78,517.29 L564,517.29 L564.22,517.29 L564.44,517.29 L564.66,517.29 L564.88,517.29 L565.1,517.29 L565.32,517.29 L565.54,517.29 L565.77,517.29 L565.99,517.29 L566.21,517.29 L566.43,517.29 L566.65,517.29 L566.87,517.29 L567.09,517.29 L567.31,517.29 L567.53,517.29 L567.75,517.29 L567.97,517.29 L568.19,517.29 L568.41,517.29 L568.64,517.29 L568.86,517.29 L569.08,517.29 L569.3,517.29 L569.52,517.29 L569.74,517.29 L569.96,517.29 L570.18,517.29 L570.4,517.29 L570.62,517.29 L570.84,517.29 L571.06,517.29 L571.28,517.29 L571.51,517.29 L571.73,517.29 L571.95,517.29 L572.17,517.29 L572.39,517.29 L572.61,517.29 L572.83,517.29 L573.05,517.29 L573.27,517.29 L573.49,517.29 L573.71,517.29 L573.93,517.29 L574.15,517.29 L574.38,517.29 L574.6,517.29 L574.82,517.29 L575.04,517.29 L575.26,517.29 L575.48,517.29 L575.7,517.29 L575.92,517.29 L576.14,517.29 L576.36,517.29 L576.58,517.29 L576.8,517.29 L577.02,517.29 L577.25,517.29 L577.47,517.29 L577.69,517.29 L577.91,517.29 L578.13,517.29 L578.35,517.29 L578.57,517.29 L578.79,517.29 L579.01,517.29 L579.23,517.29 L579.45,517.29 L579.67,517.29 L579.89,517.29 L580.12,517.29 L580.34,517.29 L580.56,517.29 L580.78,517.29 L581,517.29 L581.22,517.29 L581.44,517.29 L581.66,517.29 L581.88,517.29 L582.1,517.29 L582.32,517.29 L582.54,517.29 L582.76,517.29 L582.99,517.29 L583.21,517.29 L583.43,517.29 L583.65,517.29 L583.87,517.29 L584.09,517.29 L584.31,517.29 L584.53,517.29 L584.75,517.29 L584.97,517.29 L585.19,517.29 L585.41,517.29 L585.63,517.29 L585.86,517.29 L586.08,517.29 L586.3,517.29 L586.52,517.29 L586.74,517.29 L586.96,517.29 L587.18,517.29 L587.4,517.29 L587.62,517.29 L587.84,517.29 L588.06,517.29 L588.28,517.29 L588.5,517.29 L588.73,517.29 L588.95,517.29 L589.17,517.29 L589.39,517.29 L589.61,517.29 L589.83,517.29 L590.05,517.29 L590.27,517.29 L590.49,517.29 L590.71,517.29 L590.93,517.29 L591.15,517.29 L591.37,517.29 L591.6,517.29 L591.82,517.29 L592.04,517.29 L592.26,517.29 L592.48,517.29 L592.7,517.29 L592.92,517.29 L593.14,517.29 L593.36,517.29 L593.58,517.29 L593.8,517.29 L594.02,517.29 L594.24,517.29 L594.47,517.29 L594.69,517.29 L594.91,517.29 L595.13,517.29 L595.35,517.29 L595.57,517.29 L595.79,517.29 L596.01,517.29 L596.23,517.29 L596.45,517.29 L596.67,517.29 L596.89,517.29 L597.11,517.29 L597.34,517.29 L597.56,517.29 L597.78,517.29 L598,517.29 L598.22,517.29 L598.44,517.29 L598.66,517.29 L598.88,517.29 L599.1,517.29 L599.32,517.29 L599.54,517.29 L599.76,517.28 L599.98,517.23 L600.21,517.15 L600.43,517.04 L600.65,516.9 L600.87,516.75 L601.09,516.58 L601.31,516.4 L601.53,516.14 L601.75,515.77 L601.97,515.3 L602.19,514.74 L602.41,514.09 L602.63,513.36 L602.85,512.55 L603.08,511.67 L603.3,510.73 L603.52,509.74 L603.74,508.69 L603.96,507.59 L604.18,506.46 L604.4,505.3 L604.62,504.11 L604.84,502.9 L605.06,501.68 L605.28,500.45 L605.5,499.22 L605.72,497.99 L605.95,496.62 L606.17,495.07 L606.39,493.39 L606.61,491.6 L606.83,489.72 L607.05,487.8 L607.27,485.85 L607.49,483.92 L607.71,482.03 L607.93,480.21 L608.15,478.49 L608.37,476.91 L608.59,475.44 L608.82,473.99 L609.04,472.56 L609.26,471.16 L609.48,469.79 L609.7,468.46 L609.92,467.18 L610.14,465.95 L610.36,464.79 L610.58,463.69 L610.8,462.68 L611.02,461.74 L611.24,460.81 L611.46,459.85 L611.69,458.9 L611.91,457.94 L612.13,457.01 L612.35,456.1 L612.57,455.23 L612.79,454.42 L613.01,453.67 L613.23,453 L613.45,452.42 L613.67,451.94 L613.89,451.57 L614.11,451.32 L614.33,451.22 L614.56,451.25 L614.78,451.37 L615,451.6 L615.22,451.9 L615.44,452.29 L615.66,452.76 L615.88,453.3 L616.1,453.9 L616.32,454.55 L616.54,455.26 L616.76,456.01 L616.98,456.81 L617.2,457.63 L617.43,458.49 L617.65,459.36 L617.87,460.25 L618.09,461.15 L618.31,462.06 L618.53,462.96 L618.75,463.85 L618.97,464.73 L619.19,465.59 L619.41,466.42 L619.63,467.22 L619.85,467.98 L620.07,468.69 L620.3,469.35 L620.52,469.96 L620.74,470.51 L620.96,470.99 L621.18,471.44 L621.4,471.89 L621.62,472.34 L621.84,472.77 L622.06,473.2 L622.28,473.63 L622.5,474.04 L622.72,474.45 L622.94,474.85 L623.17,475.25 L623.39,475.64 L623.61,476.02 L623.83,476.4 L624.05,476.76 L624.27,477.13 L624.49,477.48 L624.71,477.83 L624.93,478.17 L625.15,478.5 L625.37,478.83 L625.59,479.15 L625.81,479.46 L626.04,479.77 L626.26,480.07 L626.48,480.36 L626.7,480.64 L626.92,480.92 L627.14,481.19 L627.36,481.46 L627.58,481.71 L627.8,481.96 L628.02,482.21 L628.24,482.44 L628.46,482.68 L628.68,482.91 L628.91,483.14 L629.13,483.37 L629.35,483.59 L629.57,483.81 L629.79,484.03 L630.01,484.25 L630.23,484.47 L630.45,484.68 L630.67,484.89 L630.89,485.1 L631.11,485.3 L631.33,485.5 L631.55,485.7 L631.77,485.9 L632,486.09 L632.22,486.28 L632.44,486.47 L632.66,486.66 L632.88,486.84 L633.1,487.02 L633.32,487.19 L633.54,487.37 L633.76,487.54 L633.98,487.7 L634.2,487.87 L634.42,488.03 L634.64,488.19 L634.87,488.34 L635.09,488.49 L635.31,488.64 L635.53,488.79 L635.75,488.93 L635.97,489.06 L636.19,489.2 L636.41,489.33 L636.63,489.46 L636.85,489.58 L637.07,489.7 L637.29,489.82 L637.51,489.93 L637.74,490.05 L637.96,490.15 L638.18,490.25 L638.4,490.36 L638.62,490.45 L638.84,490.55 L639.06,490.65 L639.28,490.75 L639.5,490.85 L639.72,490.94 L639.94,491.04 L640.16,491.13 L640.38,491.22 L640.61,491.32 L640.83,491.41 L641.05,491.5 L641.27,491.59 L641.49,491.68 L641.71,491.77 L641.93,491.85 L642.15,491.94 L642.37,492.03 L642.59,492.11 L642.81,492.19 L643.03,492.28 L643.25,492.36 L643.48,492.44 L643.7,492.52 L643.92,492.6 L644.14,492.67 L644.36,492.75 L644.58,492.83 L644.8,492.9 L645.02,492.97 L645.24,493.04 L645.46,493.12 L645.68,493.18 L645.9,493.25 L646.12,493.32 L646.35,493.39 L646.57,493.45 L646.79,493.52 L647.01,493.58 L647.23,493.64 L647.45,493.7 L647.67,493.76 L647.89,493.81 L648.11,493.87 L648.33,493.93 L648.55,493.98 L648.77,494.03 L648.99,494.08 L649.22,494.13 L649.44,494.18 L649.66,494.23 L649.88,494.27 L650.1,494.31 L650.32,494.36 L650.54,494.4 L650.76,494.44 L650.98,494.48 L651.2,494.51 L651.42,494.55 L651.64,494.58 L651.86,494.61 L652.09,494.64 L652.31,494.67 L652.53,494.7 L652.75,494.73 L652.97,494.75 L653.19,494.78 L653.41,494.8 L653.63,494.83 L653.85,494.86 L654.07,494.88 L654.29,494.91 L654.51,494.93 L654.73,494.96 L654.96,494.98 L655.18,495.01 L655.4,495.03 L655.62,495.05 L655.84,495.08 L656.06,495.1 L656.28,495.13 L656.5,495.15 L656.72,495.17 L656.94,495.2 L657.16,495.22 L657.38,495.24 L657.6,495.27 L657.83,495.29 L658.05,495.31 L658.27,495.33 L658.49,495.36 L658.71,495.38 L658.93,495.4 L659.15,495.42 L659.37,495.44 L659.59,495.46 L659.81,495.48 L660.03,495.5 L660.25,495.52 L660.47,495.54 L660.7,495.56 L660.92,495.58 L661.14,495.6 L661.36,495.62 L661.58,495.64 L661.8,495.66 L662.02,495.67 L662.24,495.69 L662.46,495.71 L662.68,495.73 L662.9,495.74 L663.12,495.76 L663.34,495.78 L663.57,495.79 L663.79,495.81 L664.01,495.83 L664.23,495.84 L664.45,495.86 L664.67,495.87 L664.89,495.88 L665.11,495.9 L665.33,495.91 L665.55,495.93 L665.77,495.94 L665.99,495.95 L666.21,495.96 L666.44,495.98 L666.66,495.99 L666.88,496 L667.1,496.01 L667.32,496.02 L667.54,496.03 L667.76,496.04 L667.98,496.05 L668.2,496.06 L668.42,496.07 L668.64,496.08 L668.86,496.09 L669.08,496.1 L669.31,496.11 L669.53,496.11 L669.75,496.12 L669.97,496.13 L670.19,496.13 L670.41,496.14 L670.63,496.14 L670.85,496.15 L671.07,496.15 L671.29,496.16 L671.51,496.16 L671.73,496.17 L671.95,496.17 L672.18,496.17 L672.4,496.17 L672.62,496.18 L672.84,496.18 L673.06,496.18 L673.28,496.18 L673.5,496.18" fill="none" stroke="#111" stroke-width="1.6" stroke-linejoin="round"/>
<line x1="408.8" y1="306.2" x2="673.5" y2="306.2" stroke="#333" stroke-width="1.3" />
<line x1="673.5" y1="306.2" x2="673.5" y2="519.4" stroke="#333" stroke-width="1.3" />
<line x1="408.8" y1="306.2" x2="408.8" y2="523.4" stroke="#222" stroke-width="1.1" />
<line x1="408.3" y1="519.4" x2="674" y2="519.4" stroke="#222" stroke-width="1.1" />
<line x1="404.5" y1="519.4" x2="408.8" y2="519.4" stroke="#222" stroke-width="1" />
<text transform="translate(401.2,522.4) scale(0.9091,1)" font-size="9.13" fill="#222" stroke="#222" stroke-width="0.25" text-anchor="end" >0</text>
<line x1="406.3" y1="508.84" x2="408.8" y2="508.84" stroke="#222" stroke-width="1" />
<line x1="404.5" y1="498.29" x2="408.8" y2="498.29" stroke="#222" stroke-width="1" />
<text transform="translate(401.2,501.29) scale(0.9091,1)" font-size="9.13" fill="#222" stroke="#222" stroke-width="0.25" text-anchor="end" >10</text>
<line x1="406.3" y1="487.73" x2="408.8" y2="487.73" stroke="#222" stroke-width="1" />
<line x1="404.5" y1="477.18" x2="408.8" y2="477.18" stroke="#222" stroke-width="1" />
<text transform="translate(401.2,480.18) scale(0.9091,1)" font-size="9.13" fill="#222" stroke="#222" stroke-width="0.25" text-anchor="end" >20</text>
<line x1="406.3" y1="466.62" x2="408.8" y2="466.62" stroke="#222" stroke-width="1" />
<line x1="404.5" y1="456.07" x2="408.8" y2="456.07" stroke="#222" stroke-width="1" />
<text transform="translate(401.2,459.07) scale(0.9091,1)" font-size="9.13" fill="#222" stroke="#222" stroke-width="0.25" text-anchor="end" >30</text>
<line x1="406.3" y1="445.51" x2="408.8" y2="445.51" stroke="#222" stroke-width="1" />
<line x1="404.5" y1="434.96" x2="408.8" y2="434.96" stroke="#222" stroke-width="1" />
<text transform="translate(401.2,437.96) scale(0.9091,1)" font-size="9.13" fill="#222" stroke="#222" stroke-width="0.25" text-anchor="end" >40</text>
<line x1="406.3" y1="424.4" x2="408.8" y2="424.4" stroke="#222" stroke-width="1" />
<line x1="404.5" y1="413.85" x2="408.8" y2="413.85" stroke="#222" stroke-width="1" />
<text transform="translate(401.2,416.85) scale(0.9091,1)" font-size="9.13" fill="#222" stroke="#222" stroke-width="0.25" text-anchor="end" >50</text>
<line x1="406.3" y1="403.29" x2="408.8" y2="403.29" stroke="#222" stroke-width="1" />
<line x1="404.5" y1="392.74" x2="408.8" y2="392.74" stroke="#222" stroke-width="1" />
<text transform="translate(401.2,395.74) scale(0.9091,1)" font-size="9.13" fill="#222" stroke="#222" stroke-width="0.25" text-anchor="end" >60</text>
<line x1="406.3" y1="382.18" x2="408.8" y2="382.18" stroke="#222" stroke-width="1" />
<line x1="404.5" y1="371.63" x2="408.8" y2="371.63" stroke="#222" stroke-width="1" />
<text transform="translate(401.2,374.63) scale(0.9091,1)" font-size="9.13" fill="#222" stroke="#222" stroke-width="0.25" text-anchor="end" >70</text>
<line x1="406.3" y1="361.07" x2="408.8" y2="361.07" stroke="#222" stroke-width="1" />
<line x1="404.5" y1="350.52" x2="408.8" y2="350.52" stroke="#222" stroke-width="1" />
<text transform="translate(401.2,353.52) scale(0.9091,1)" font-size="9.13" fill="#222" stroke="#222" stroke-width="0.25" text-anchor="end" >80</text>
<line x1="406.3" y1="339.96" x2="408.8" y2="339.96" stroke="#222" stroke-width="1" />
<line x1="404.5" y1="329.41" x2="408.8" y2="329.41" stroke="#222" stroke-width="1" />
<text transform="translate(401.2,332.41) scale(0.9091,1)" font-size="9.13" fill="#222" stroke="#222" stroke-width="0.25" text-anchor="end" >90</text>
<line x1="406.3" y1="318.85" x2="408.8" y2="318.85" stroke="#222" stroke-width="1" />
<line x1="404.5" y1="308.3" x2="408.8" y2="308.3" stroke="#222" stroke-width="1" />
<text transform="translate(401.2,311.3) scale(0.9091,1)" font-size="9.13" fill="#222" stroke="#222" stroke-width="0.25" text-anchor="end" >100</text>
<line x1="408.8" y1="519.4" x2="408.8" y2="523.4" stroke="#222" stroke-width="1" />
<text transform="translate(408.8,533.7) scale(0.9091,1)" font-size="9.35" fill="#222" stroke="#222" stroke-width="0.25" text-anchor="middle" >0</text>
<line x1="419.83" y1="519.4" x2="419.83" y2="521.9" stroke="#222" stroke-width="1" />
<line x1="430.86" y1="519.4" x2="430.86" y2="523.4" stroke="#222" stroke-width="1" />
<text transform="translate(430.86,533.7) scale(0.9091,1)" font-size="9.35" fill="#222" stroke="#222" stroke-width="0.25" text-anchor="middle" >2</text>
<line x1="441.89" y1="519.4" x2="441.89" y2="521.9" stroke="#222" stroke-width="1" />
<line x1="452.92" y1="519.4" x2="452.92" y2="523.4" stroke="#222" stroke-width="1" />
<text transform="translate(452.92,533.7) scale(0.9091,1)" font-size="9.35" fill="#222" stroke="#222" stroke-width="0.25" text-anchor="middle" >4</text>
<line x1="463.95" y1="519.4" x2="463.95" y2="521.9" stroke="#222" stroke-width="1" />
<line x1="474.98" y1="519.4" x2="474.98" y2="523.4" stroke="#222" stroke-width="1" />
<text transform="translate(474.98,533.7) scale(0.9091,1)" font-size="9.35" fill="#222" stroke="#222" stroke-width="0.25" text-anchor="middle" >6</text>
<line x1="486" y1="519.4" x2="486" y2="521.9" stroke="#222" stroke-width="1" />
<line x1="497.03" y1="519.4" x2="497.03" y2="523.4" stroke="#222" stroke-width="1" />
<text transform="translate(497.03,533.7) scale(0.9091,1)" font-size="9.35" fill="#222" stroke="#222" stroke-width="0.25" text-anchor="middle" >8</text>
<line x1="508.06" y1="519.4" x2="508.06" y2="521.9" stroke="#222" stroke-width="1" />
<line x1="519.09" y1="519.4" x2="519.09" y2="523.4" stroke="#222" stroke-width="1" />
<text transform="translate(519.09,533.7) scale(0.9091,1)" font-size="9.35" fill="#222" stroke="#222" stroke-width="0.25" text-anchor="middle" >10</text>
<line x1="530.12" y1="519.4" x2="530.12" y2="521.9" stroke="#222" stroke-width="1" />
<line x1="541.15" y1="519.4" x2="541.15" y2="523.4" stroke="#222" stroke-width="1" />
<text transform="translate(541.15,533.7) scale(0.9091,1)" font-size="9.35" fill="#222" stroke="#222" stroke-width="0.25" text-anchor="middle" >12</text>
<line x1="552.18" y1="519.4" x2="552.18" y2="521.9" stroke="#222" stroke-width="1" />
<line x1="563.21" y1="519.4" x2="563.21" y2="523.4" stroke="#222" stroke-width="1" />
<text transform="translate(563.21,533.7) scale(0.9091,1)" font-size="9.35" fill="#222" stroke="#222" stroke-width="0.25" text-anchor="middle" >14</text>
<line x1="574.24" y1="519.4" x2="574.24" y2="521.9" stroke="#222" stroke-width="1" />
<line x1="585.27" y1="519.4" x2="585.27" y2="523.4" stroke="#222" stroke-width="1" />
<text transform="translate(585.27,533.7) scale(0.9091,1)" font-size="9.35" fill="#222" stroke="#222" stroke-width="0.25" text-anchor="middle" >16</text>
<line x1="596.3" y1="519.4" x2="596.3" y2="521.9" stroke="#222" stroke-width="1" />
<line x1="607.33" y1="519.4" x2="607.33" y2="523.4" stroke="#222" stroke-width="1" />
<text transform="translate(607.33,533.7) scale(0.9091,1)" font-size="9.35" fill="#222" stroke="#222" stroke-width="0.25" text-anchor="middle" >18</text>
<line x1="618.35" y1="519.4" x2="618.35" y2="521.9" stroke="#222" stroke-width="1" />
<line x1="629.38" y1="519.4" x2="629.38" y2="523.4" stroke="#222" stroke-width="1" />
<text transform="translate(629.38,533.7) scale(0.9091,1)" font-size="9.35" fill="#222" stroke="#222" stroke-width="0.25" text-anchor="middle" >20</text>
<line x1="640.41" y1="519.4" x2="640.41" y2="521.9" stroke="#222" stroke-width="1" />
<line x1="651.44" y1="519.4" x2="651.44" y2="523.4" stroke="#222" stroke-width="1" />
<text transform="translate(651.44,533.7) scale(0.9091,1)" font-size="9.35" fill="#222" stroke="#222" stroke-width="0.25" text-anchor="middle" >22</text>
<line x1="662.47" y1="519.4" x2="662.47" y2="521.9" stroke="#222" stroke-width="1" />
<line x1="673.5" y1="519.4" x2="673.5" y2="523.4" stroke="#222" stroke-width="1" />
<text transform="translate(673.5,533.7) scale(0.9091,1)" font-size="9.35" fill="#222" stroke="#222" stroke-width="0.25" text-anchor="middle" >24</text>
<text transform="translate(541.3,548.4) scale(0.9091,1)" font-size="9.79" fill="#222" stroke="#222" stroke-width="0.25" text-anchor="middle" >Time (hour)</text>
<text transform="translate(382.9,412.5) rotate(-90)" font-size="9" fill="#222" stroke="#222" stroke-width="0.25" text-anchor="middle">Duty cycle (%)</text>
<text transform="translate(365,303.5) scale(0.9091,1)" font-size="12.65" fill="#222" stroke="#222" stroke-width="0.25" text-anchor="start" >(d)</text>
<rect x="409.6" y="292.6" width="63.4" height="13.3" fill="#fff"/>
<rect x="409.6" y="292.6" width="263.6" height="13.3" fill="#fff" stroke="#999" stroke-width="0.7"/>
<line x1="410.1" y1="299.4" x2="432.6" y2="299.4" stroke="#f01a1a" stroke-width="1.5" />
<text transform="translate(432.2,302.5) scale(0.9091,1)" font-size="9.68" fill="#f01a1a" stroke="#f01a1a" stroke-width="0.25" text-anchor="start" >Red</text>
<line x1="449.6" y1="299.4" x2="471.4" y2="299.4" stroke="#1aea1a" stroke-width="1.5" />
<text transform="translate(471.2,302.5) scale(0.9091,1)" font-size="9.68" fill="#1aea1a" stroke="#1aea1a" stroke-width="0.25" text-anchor="start" >Green</text>
<line x1="498" y1="299.4" x2="519.4" y2="299.4" stroke="#1a1aee" stroke-width="1.5" />
<text transform="translate(519.2,302.5) scale(0.9091,1)" font-size="9.68" fill="#1a1aee" stroke="#1a1aee" stroke-width="0.25" text-anchor="start" >Blue</text>
<line x1="538.9" y1="299.4" x2="560.2" y2="299.4" stroke="#f5871f" stroke-width="1.5" />
<text transform="translate(560,302.5) scale(0.9091,1)" font-size="9.68" fill="#f5871f" stroke="#f5871f" stroke-width="0.25" text-anchor="start" >Warm white</text>
<line x1="609.4" y1="299.4" x2="630.2" y2="299.4" stroke="#111" stroke-width="1.5" />
<text transform="translate(630,302.5) scale(0.9091,1)" font-size="9.68" fill="#111" stroke="#111" stroke-width="0.25" text-anchor="start" >Cool white</text>
<line x1="408.8" y1="306.2" x2="673.5" y2="306.2" stroke="#333" stroke-width="1.3" />
</svg></body></html>
